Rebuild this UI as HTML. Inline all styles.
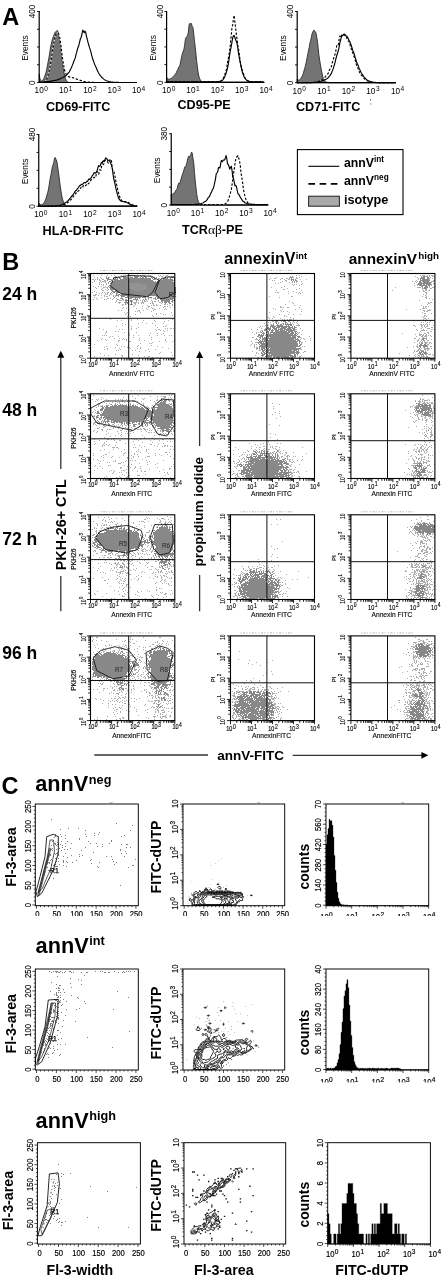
<!DOCTYPE html>
<html><head><meta charset="utf-8"><title>Figure</title>
<style>
html,body{margin:0;padding:0;background:#fff;}
body{width:444px;height:1280px;overflow:hidden;}
svg{display:block;font-family:"Liberation Sans", Arial, Helvetica, sans-serif;}
svg text{white-space:pre;}
</style></head><body>
<svg width="444" height="1280" viewBox="0 0 444 1280">
<rect width="444" height="1280" fill="#fff"/>
<text x="2.2" y="24.6" font-size="23.5" font-weight="bold">A</text>
<path d="M39.2 82.5 L39.2 74.32 L39.95 78.68 L40.7 80.41 L41.45 80.91 L42.2 80.7 L42.95 80.02 L43.7 78.89 L44.45 77.17 L45.2 75.09 L45.95 72.69 L46.7 69.41 L47.45 65.55 L48.2 61.53 L48.95 57.53 L49.7 53.12 L50.45 48.02 L51.2 44.4 L51.95 41.23 L52.7 38.37 L53.45 36.35 L54.2 34.49 L54.95 32.64 L55.7 31.65 L56.45 31.15 L57.2 30.38 L57.95 31.72 L58.7 35.67 L59.45 39.5 L60.2 43.13 L60.95 48.81 L61.7 55.76 L62.45 62.13 L63.2 67.62 L63.95 72.37 L64.7 75.83 L65.45 78.5 L66.2 80.29 L66.95 81.32 L67.7 81.93 L68.45 82.25 L69.2 82.4 L69.95 82.46 L70.7 82.49 L71.45 82.5 L72.2 82.5 L72.95 82.5 L73.7 82.5 L74.45 82.5 L75.2 82.5 L75.95 82.5 L76.7 82.5 L77.45 82.5 L78.2 82.5 L78.95 82.5 L79.7 82.5 L80.45 82.5 L81.2 82.5 L81.95 82.5 L82.7 82.5 L83.45 82.5 L84.2 82.5 L84.95 82.5 L85.7 82.5 L86.45 82.5 L87.2 82.5 L87.95 82.5 L88.7 82.5 L89.45 82.5 L90.2 82.5 L90.95 82.5 L91.7 82.5 L92.45 82.5 L93.2 82.5 L93.95 82.5 L94.7 82.5 L95.45 82.5 L96.2 82.5 L96.95 82.5 L97.7 82.5 L98.45 82.5 L99.2 82.5 L99.95 82.5 L100.7 82.5 L101.45 82.5 L102.2 82.5 L102.95 82.5 L103.7 82.5 L104.45 82.5 L105.2 82.5 L105.95 82.5 L106.7 82.5 L107.45 82.5 L108.2 82.5 L108.95 82.5 L109.7 82.5 L110.45 82.5 L111.2 82.5 L111.95 82.5 L112.7 82.5 L113.45 82.5 L114.2 82.5 L114.95 82.5 L115.7 82.5 L116.45 82.5 L117.2 82.5 L117.95 82.5 L118.7 82.5 L119.45 82.5 L120.2 82.5 L120.95 82.5 L121.7 82.5 L122.45 82.5 L123.2 82.5 L123.95 82.5 L124.7 82.5 L125.45 82.5 L126.2 82.5 L126.95 82.5 L127.7 82.5 L128.45 82.5 L129.2 82.5 L129.95 82.5 L130.7 82.5 L131.45 82.5 L132.2 82.5 L132.95 82.5 L133.7 82.5 L134.45 82.5 L135.2 82.5 L135.95 82.5 L136.5 82.5Z" fill="#747474" stroke="#2a2a2a" stroke-width="0.9"/>
<path d="M39.2 82.5 L39.95 82.49 L40.7 82.48 L41.45 82.46 L42.2 82.41 L42.95 82.32 L43.7 82.14 L44.45 81.83 L45.2 81.33 L45.95 80.46 L46.7 79.17 L47.45 77.28 L48.2 74.86 L48.95 72.18 L49.7 68.61 L50.45 64.18 L51.2 59.61 L51.95 54.13 L52.7 48.92 L53.45 45.73 L54.2 41.09 L54.95 36.8 L55.7 34.9 L56.45 33.55 L57.2 32.96 L57.95 33.16 L58.7 33.84 L59.45 36.04 L60.2 40.42 L60.95 45.36 L61.7 51.85 L62.45 57.69 L63.2 62.53 L63.95 66.94 L64.7 70.62 L65.45 72.81 L66.2 74.19 L66.95 75.47 L67.7 76.27 L68.45 76.67 L69.2 76.84 L69.95 77.09 L70.7 77.25 L71.45 77.42 L72.2 77.57 L72.95 77.78 L73.7 78.05 L74.45 78.19 L75.2 78.29 L75.95 78.69 L76.7 79.13 L77.45 79.39 L78.2 79.61 L78.95 79.89 L79.7 80.2 L80.45 80.4 L81.2 80.65 L81.95 80.89 L82.7 81.08 L83.45 81.29 L84.2 81.47 L84.95 81.59 L85.7 81.71 L86.45 81.83 L87.2 81.95 L87.95 82.04 L88.7 82.11 L89.45 82.17 L90.2 82.24 L90.95 82.29 L91.7 82.33 L92.45 82.36 L93.2 82.39 L93.95 82.42 L94.7 82.43 L95.45 82.45 L96.2 82.46 L96.95 82.47 L97.7 82.48 L98.45 82.48 L99.2 82.49 L99.95 82.49 L100.7 82.49 L101.45 82.49 L102.2 82.5 L102.95 82.5 L103.7 82.5 L104.45 82.5 L105.2 82.5 L105.95 82.5 L106.7 82.5 L107.45 82.5 L108.2 82.5 L108.95 82.5 L109.7 82.5 L110.45 82.5 L111.2 82.5 L111.95 82.5 L112.7 82.5 L113.45 82.5 L114.2 82.5 L114.95 82.5 L115.7 82.5 L116.45 82.5 L117.2 82.5 L117.95 82.5 L118.7 82.5 L119.45 82.5 L120.2 82.5 L120.95 82.5 L121.7 82.5 L122.45 82.5 L123.2 82.5 L123.95 82.5 L124.7 82.5 L125.45 82.5 L126.2 82.5 L126.95 82.5 L127.7 82.5 L128.45 82.5 L129.2 82.5 L129.95 82.5 L130.7 82.5 L131.45 82.5 L132.2 82.5 L132.95 82.5 L133.7 82.5 L134.45 82.5 L135.2 82.5 L135.95 82.5" fill="none" stroke="#fff" stroke-width="1" stroke-linejoin="round"/>
<path d="M39.2 82.5 L39.95 82.49 L40.7 82.48 L41.45 82.46 L42.2 82.41 L42.95 82.32 L43.7 82.14 L44.45 81.83 L45.2 81.33 L45.95 80.46 L46.7 79.17 L47.45 77.28 L48.2 74.86 L48.95 72.18 L49.7 68.61 L50.45 64.18 L51.2 59.61 L51.95 54.13 L52.7 48.92 L53.45 45.73 L54.2 41.09 L54.95 36.8 L55.7 34.9 L56.45 33.55 L57.2 32.96 L57.95 33.16 L58.7 33.84 L59.45 36.04 L60.2 40.42 L60.95 45.36 L61.7 51.85 L62.45 57.69 L63.2 62.53 L63.95 66.94 L64.7 70.62 L65.45 72.81 L66.2 74.19 L66.95 75.47 L67.7 76.27 L68.45 76.67 L69.2 76.84 L69.95 77.09 L70.7 77.25 L71.45 77.42 L72.2 77.57 L72.95 77.78 L73.7 78.05 L74.45 78.19 L75.2 78.29 L75.95 78.69 L76.7 79.13 L77.45 79.39 L78.2 79.61 L78.95 79.89 L79.7 80.2 L80.45 80.4 L81.2 80.65 L81.95 80.89 L82.7 81.08 L83.45 81.29 L84.2 81.47 L84.95 81.59 L85.7 81.71 L86.45 81.83 L87.2 81.95 L87.95 82.04 L88.7 82.11 L89.45 82.17 L90.2 82.24 L90.95 82.29 L91.7 82.33 L92.45 82.36 L93.2 82.39 L93.95 82.42 L94.7 82.43 L95.45 82.45 L96.2 82.46 L96.95 82.47 L97.7 82.48 L98.45 82.48 L99.2 82.49 L99.95 82.49 L100.7 82.49 L101.45 82.49 L102.2 82.5 L102.95 82.5 L103.7 82.5 L104.45 82.5 L105.2 82.5 L105.95 82.5 L106.7 82.5 L107.45 82.5 L108.2 82.5 L108.95 82.5 L109.7 82.5 L110.45 82.5 L111.2 82.5 L111.95 82.5 L112.7 82.5 L113.45 82.5 L114.2 82.5 L114.95 82.5 L115.7 82.5 L116.45 82.5 L117.2 82.5 L117.95 82.5 L118.7 82.5 L119.45 82.5 L120.2 82.5 L120.95 82.5 L121.7 82.5 L122.45 82.5 L123.2 82.5 L123.95 82.5 L124.7 82.5 L125.45 82.5 L126.2 82.5 L126.95 82.5 L127.7 82.5 L128.45 82.5 L129.2 82.5 L129.95 82.5 L130.7 82.5 L131.45 82.5 L132.2 82.5 L132.95 82.5 L133.7 82.5 L134.45 82.5 L135.2 82.5 L135.95 82.5" fill="none" stroke="#000" stroke-width="1.15" stroke-dasharray="2.4 1.7" stroke-linejoin="round"/>
<path d="M39.2 82.23 L39.95 82.19 L40.7 82.15 L41.45 82.11 L42.2 82.08 L42.95 82.01 L43.7 81.95 L44.45 81.91 L45.2 81.84 L45.95 81.78 L46.7 81.69 L47.45 81.56 L48.2 81.45 L48.95 81.41 L49.7 81.34 L50.45 81.22 L51.2 81.06 L51.95 80.94 L52.7 80.85 L53.45 80.66 L54.2 80.46 L54.95 80.33 L55.7 80.22 L56.45 80.09 L57.2 79.88 L57.95 79.7 L58.7 79.4 L59.45 79.08 L60.2 78.81 L60.95 78.36 L61.7 77.97 L62.45 77.8 L63.2 77.41 L63.95 76.75 L64.7 76.37 L65.45 75.99 L66.2 75.28 L66.95 74.62 L67.7 73.59 L68.45 72.75 L69.2 72.11 L69.95 70.57 L70.7 69.06 L71.45 67.45 L72.2 65.63 L72.95 63.85 L73.7 61.52 L74.45 59.91 L75.2 57.95 L75.95 54.84 L76.7 52.13 L77.45 49.05 L78.2 47.01 L78.95 44.99 L79.7 41.54 L80.45 38.51 L81.2 37.23 L81.95 34 L82.7 30.05 L83.45 31.43 L84.2 32.79 L84.95 31 L85.7 32.44 L86.45 36.18 L87.2 39.18 L87.95 42.16 L88.7 44.75 L89.45 47.4 L90.2 49.59 L90.95 52.19 L91.7 55.29 L92.45 58.07 L93.2 60.28 L93.95 62.42 L94.7 64.56 L95.45 66.05 L96.2 67.79 L96.95 69.62 L97.7 71.18 L98.45 72.66 L99.2 73.98 L99.95 75.15 L100.7 76.06 L101.45 77.02 L102.2 77.76 L102.95 78.38 L103.7 79.1 L104.45 79.64 L105.2 80.08 L105.95 80.45 L106.7 80.78 L107.45 81.04 L108.2 81.29 L108.95 81.54 L109.7 81.71 L110.45 81.84 L111.2 81.96 L111.95 82.03 L112.7 82.11 L113.45 82.2 L114.2 82.26 L114.95 82.3 L115.7 82.33 L116.45 82.37 L117.2 82.39 L117.95 82.41 L118.7 82.43 L119.45 82.45 L120.2 82.46 L120.95 82.47 L121.7 82.47 L122.45 82.48 L123.2 82.48 L123.95 82.49 L124.7 82.49 L125.45 82.49 L126.2 82.49 L126.95 82.5 L127.7 82.5 L128.45 82.5 L129.2 82.5 L129.95 82.5 L130.7 82.5 L131.45 82.5 L132.2 82.5 L132.95 82.5 L133.7 82.5 L134.45 82.5 L135.2 82.5 L135.95 82.5" fill="none" stroke="#000" stroke-width="1.15" stroke-linejoin="round"/>
<line x1="39.2" y1="11" x2="39.2" y2="83.1" stroke="#000" stroke-width="1.2"/>
<line x1="38.7" y1="82.5" x2="137" y2="82.5" stroke="#000" stroke-width="1.2"/>
<line x1="37" y1="82.5" x2="39.2" y2="82.5" stroke="#000" stroke-width="0.9"/>
<line x1="37" y1="64.75" x2="39.2" y2="64.75" stroke="#000" stroke-width="0.9"/>
<line x1="37" y1="47" x2="39.2" y2="47" stroke="#000" stroke-width="0.9"/>
<line x1="37" y1="29.25" x2="39.2" y2="29.25" stroke="#000" stroke-width="0.9"/>
<line x1="37" y1="11.5" x2="39.2" y2="11.5" stroke="#000" stroke-width="0.9"/>
<text x="35.2" y="11.5" font-size="8.2" text-anchor="middle" transform="rotate(-90 35.2 11.5)">400</text>
<text x="35.2" y="82.8" font-size="8.2" text-anchor="middle" transform="rotate(-90 35.2 82.8)">0</text>
<text x="28.2" y="48" font-size="8.4" text-anchor="middle" transform="rotate(-90 28.2 48)">Events</text>
<text x="34.6" y="93.3" font-size="8.2">10<tspan dy="-2.4" dx="0.6" font-size="6.6">0</tspan></text>
<text x="58.93" y="93.3" font-size="8.2">10<tspan dy="-2.4" dx="0.6" font-size="6.6">1</tspan></text>
<text x="83.25" y="93.3" font-size="8.2">10<tspan dy="-2.4" dx="0.6" font-size="6.6">2</tspan></text>
<text x="107.58" y="93.3" font-size="8.2">10<tspan dy="-2.4" dx="0.6" font-size="6.6">3</tspan></text>
<text x="131.9" y="93.3" font-size="8.2">10<tspan dy="-2.4" dx="0.6" font-size="6.6">4</tspan></text>
<text x="46" y="111" font-size="12.6" font-weight="bold">CD69-FITC</text>
<path d="M166.6 82.3 L166.6 77.31 L167.35 78.53 L168.1 79.09 L168.85 79.21 L169.6 78.91 L170.35 78.74 L171.1 78.46 L171.85 77.89 L172.6 77.31 L173.35 76.39 L174.1 75.6 L174.85 74.65 L175.6 73.84 L176.35 72.53 L177.1 70.84 L177.85 69.32 L178.6 67.18 L179.35 66.27 L180.1 64.46 L180.85 60.73 L181.6 56.76 L182.35 53.72 L183.1 51.47 L183.85 49.59 L184.6 45.54 L185.35 39.48 L186.1 37.51 L186.85 36.53 L187.6 35.61 L188.35 32 L189.1 24.79 L189.85 23.22 L190.6 23.8 L191.35 23.39 L192.1 26.24 L192.85 27.19 L193.6 32.01 L194.35 39.98 L195.1 46.01 L195.85 53.05 L196.6 60.37 L197.35 66.9 L198.1 72.19 L198.85 76.07 L199.6 78.44 L200.35 80.04 L201.1 81.1 L201.85 81.68 L202.6 81.99 L203.35 82.15 L204.1 82.24 L204.85 82.27 L205.6 82.29 L206.35 82.3 L207.1 82.3 L207.85 82.3 L208.6 82.3 L209.35 82.3 L210.1 82.3 L210.85 82.3 L211.6 82.3 L212.35 82.3 L213.1 82.3 L213.85 82.3 L214.6 82.3 L215.35 82.3 L216.1 82.3 L216.85 82.3 L217.6 82.3 L218.35 82.3 L219.1 82.3 L219.85 82.3 L220.6 82.3 L221.35 82.3 L222.1 82.3 L222.85 82.3 L223.6 82.3 L224.35 82.3 L225.1 82.3 L225.85 82.3 L226.6 82.3 L227.35 82.3 L228.1 82.3 L228.85 82.3 L229.6 82.3 L230.35 82.3 L231.1 82.3 L231.85 82.3 L232.6 82.3 L233.35 82.3 L234.1 82.3 L234.85 82.3 L235.6 82.3 L236.35 82.3 L237.1 82.3 L237.85 82.3 L238.6 82.3 L239.35 82.3 L240.1 82.3 L240.85 82.3 L241.6 82.3 L242.35 82.3 L243.1 82.3 L243.85 82.3 L244.6 82.3 L245.35 82.3 L246.1 82.3 L246.85 82.3 L247.6 82.3 L248.35 82.3 L249.1 82.3 L249.85 82.3 L250.6 82.3 L251.35 82.3 L252.1 82.3 L252.85 82.3 L253.6 82.3 L254.35 82.3 L255.1 82.3 L255.85 82.3 L256.6 82.3 L257.35 82.3 L258.1 82.3 L258.85 82.3 L259.6 82.3 L260.35 82.3 L261.1 82.3 L261.85 82.3 L262.6 82.3 L263.35 82.3 L264 82.3Z" fill="#747474" stroke="#2a2a2a" stroke-width="0.9"/>
<path d="M166.6 81.72 L167.35 81.7 L168.1 81.64 L168.85 81.68 L169.6 81.73 L170.35 81.68 L171.1 81.67 L171.85 81.65 L172.6 81.67 L173.35 81.7 L174.1 81.71 L174.85 81.68 L175.6 81.67 L176.35 81.76 L177.1 81.75 L177.85 81.71 L178.6 81.66 L179.35 81.67 L180.1 81.71 L180.85 81.69 L181.6 81.65 L182.35 81.67 L183.1 81.68 L183.85 81.67 L184.6 81.7 L185.35 81.7 L186.1 81.7 L186.85 81.72 L187.6 81.69 L188.35 81.7 L189.1 81.7 L189.85 81.66 L190.6 81.68 L191.35 81.72 L192.1 81.72 L192.85 81.69 L193.6 81.67 L194.35 81.68 L195.1 81.67 L195.85 81.69 L196.6 81.71 L197.35 81.73 L198.1 81.72 L198.85 81.68 L199.6 81.71 L200.35 81.68 L201.1 81.66 L201.85 81.74 L202.6 81.76 L203.35 81.73 L204.1 81.71 L204.85 81.63 L205.6 81.66 L206.35 81.71 L207.1 81.7 L207.85 81.7 L208.6 81.68 L209.35 81.66 L210.1 81.69 L210.85 81.69 L211.6 81.68 L212.35 81.71 L213.1 81.66 L213.85 81.65 L214.6 81.69 L215.35 81.71 L216.1 81.68 L216.85 81.63 L217.6 81.54 L218.35 81.49 L219.1 81.39 L219.85 81.12 L220.6 80.82 L221.35 80.4 L222.1 79.7 L222.85 78.8 L223.6 77.67 L224.35 76.03 L225.1 73.62 L225.85 71.68 L226.6 68.64 L227.35 63.65 L228.1 59.92 L228.85 55.2 L229.6 51.24 L230.35 44.52 L231.1 36.47 L231.85 28.82 L232.6 25.2 L233.35 19.66 L234.1 15.3 L234.85 21.68 L235.6 27.9 L236.35 33.97 L237.1 40.15 L237.85 45.39 L238.6 49.56 L239.35 54.58 L240.1 60.66 L240.85 64.86 L241.6 68.13 L242.35 70.99 L243.1 72.64 L243.85 74.75 L244.6 76.94 L245.35 78.54 L246.1 79.55 L246.85 80.2 L247.6 80.53 L248.35 80.85 L249.1 81.15 L249.85 81.33 L250.6 81.46 L251.35 81.49 L252.1 81.57 L252.85 81.65 L253.6 81.68 L254.35 81.67 L255.1 81.69 L255.85 81.74 L256.6 81.75 L257.35 81.76 L258.1 81.72 L258.85 81.63 L259.6 81.67 L260.35 81.7 L261.1 81.67 L261.85 81.72 L262.6 81.73 L263.35 81.71" fill="none" stroke="#fff" stroke-width="1" stroke-linejoin="round"/>
<path d="M166.6 81.72 L167.35 81.7 L168.1 81.64 L168.85 81.68 L169.6 81.73 L170.35 81.68 L171.1 81.67 L171.85 81.65 L172.6 81.67 L173.35 81.7 L174.1 81.71 L174.85 81.68 L175.6 81.67 L176.35 81.76 L177.1 81.75 L177.85 81.71 L178.6 81.66 L179.35 81.67 L180.1 81.71 L180.85 81.69 L181.6 81.65 L182.35 81.67 L183.1 81.68 L183.85 81.67 L184.6 81.7 L185.35 81.7 L186.1 81.7 L186.85 81.72 L187.6 81.69 L188.35 81.7 L189.1 81.7 L189.85 81.66 L190.6 81.68 L191.35 81.72 L192.1 81.72 L192.85 81.69 L193.6 81.67 L194.35 81.68 L195.1 81.67 L195.85 81.69 L196.6 81.71 L197.35 81.73 L198.1 81.72 L198.85 81.68 L199.6 81.71 L200.35 81.68 L201.1 81.66 L201.85 81.74 L202.6 81.76 L203.35 81.73 L204.1 81.71 L204.85 81.63 L205.6 81.66 L206.35 81.71 L207.1 81.7 L207.85 81.7 L208.6 81.68 L209.35 81.66 L210.1 81.69 L210.85 81.69 L211.6 81.68 L212.35 81.71 L213.1 81.66 L213.85 81.65 L214.6 81.69 L215.35 81.71 L216.1 81.68 L216.85 81.63 L217.6 81.54 L218.35 81.49 L219.1 81.39 L219.85 81.12 L220.6 80.82 L221.35 80.4 L222.1 79.7 L222.85 78.8 L223.6 77.67 L224.35 76.03 L225.1 73.62 L225.85 71.68 L226.6 68.64 L227.35 63.65 L228.1 59.92 L228.85 55.2 L229.6 51.24 L230.35 44.52 L231.1 36.47 L231.85 28.82 L232.6 25.2 L233.35 19.66 L234.1 15.3 L234.85 21.68 L235.6 27.9 L236.35 33.97 L237.1 40.15 L237.85 45.39 L238.6 49.56 L239.35 54.58 L240.1 60.66 L240.85 64.86 L241.6 68.13 L242.35 70.99 L243.1 72.64 L243.85 74.75 L244.6 76.94 L245.35 78.54 L246.1 79.55 L246.85 80.2 L247.6 80.53 L248.35 80.85 L249.1 81.15 L249.85 81.33 L250.6 81.46 L251.35 81.49 L252.1 81.57 L252.85 81.65 L253.6 81.68 L254.35 81.67 L255.1 81.69 L255.85 81.74 L256.6 81.75 L257.35 81.76 L258.1 81.72 L258.85 81.63 L259.6 81.67 L260.35 81.7 L261.1 81.67 L261.85 81.72 L262.6 81.73 L263.35 81.71" fill="none" stroke="#000" stroke-width="1.15" stroke-dasharray="2.4 1.7" stroke-linejoin="round"/>
<path d="M166.6 81.8 L167.35 81.78 L168.1 81.77 L168.85 81.79 L169.6 81.8 L170.35 81.82 L171.1 81.83 L171.85 81.81 L172.6 81.79 L173.35 81.8 L174.1 81.81 L174.85 81.83 L175.6 81.82 L176.35 81.82 L177.1 81.81 L177.85 81.78 L178.6 81.76 L179.35 81.76 L180.1 81.8 L180.85 81.81 L181.6 81.84 L182.35 81.84 L183.1 81.81 L183.85 81.79 L184.6 81.78 L185.35 81.79 L186.1 81.79 L186.85 81.79 L187.6 81.78 L188.35 81.8 L189.1 81.82 L189.85 81.82 L190.6 81.8 L191.35 81.77 L192.1 81.78 L192.85 81.8 L193.6 81.81 L194.35 81.8 L195.1 81.8 L195.85 81.8 L196.6 81.8 L197.35 81.8 L198.1 81.8 L198.85 81.79 L199.6 81.8 L200.35 81.8 L201.1 81.81 L201.85 81.8 L202.6 81.79 L203.35 81.8 L204.1 81.8 L204.85 81.82 L205.6 81.81 L206.35 81.8 L207.1 81.8 L207.85 81.79 L208.6 81.81 L209.35 81.83 L210.1 81.81 L210.85 81.81 L211.6 81.82 L212.35 81.8 L213.1 81.79 L213.85 81.79 L214.6 81.79 L215.35 81.79 L216.1 81.78 L216.85 81.76 L217.6 81.71 L218.35 81.65 L219.1 81.58 L219.85 81.46 L220.6 81.25 L221.35 80.9 L222.1 80.46 L222.85 79.87 L223.6 78.93 L224.35 77.43 L225.1 75.83 L225.85 74.03 L226.6 71.29 L227.35 68.92 L228.1 65.48 L228.85 60.68 L229.6 55.48 L230.35 50.34 L231.1 47.03 L231.85 42.7 L232.6 38.27 L233.35 36.05 L234.1 35.41 L234.85 37.31 L235.6 39.84 L236.35 41.37 L237.1 43.78 L237.85 48.35 L238.6 53.91 L239.35 58.03 L240.1 61.83 L240.85 65.44 L241.6 68.75 L242.35 71.96 L243.1 74.38 L243.85 76.18 L244.6 77.63 L245.35 78.77 L246.1 79.69 L246.85 80.41 L247.6 80.85 L248.35 81.16 L249.1 81.37 L249.85 81.49 L250.6 81.62 L251.35 81.68 L252.1 81.7 L252.85 81.74 L253.6 81.75 L254.35 81.75 L255.1 81.78 L255.85 81.8 L256.6 81.78 L257.35 81.79 L258.1 81.79 L258.85 81.8 L259.6 81.81 L260.35 81.81 L261.1 81.82 L261.85 81.81 L262.6 81.82 L263.35 81.82" fill="none" stroke="#000" stroke-width="1.15" stroke-linejoin="round"/>
<line x1="166.6" y1="11" x2="166.6" y2="82.9" stroke="#000" stroke-width="1.2"/>
<line x1="166.1" y1="82.3" x2="264.5" y2="82.3" stroke="#000" stroke-width="1.2"/>
<line x1="164.4" y1="82.3" x2="166.6" y2="82.3" stroke="#000" stroke-width="0.9"/>
<line x1="164.4" y1="64.6" x2="166.6" y2="64.6" stroke="#000" stroke-width="0.9"/>
<line x1="164.4" y1="46.9" x2="166.6" y2="46.9" stroke="#000" stroke-width="0.9"/>
<line x1="164.4" y1="29.2" x2="166.6" y2="29.2" stroke="#000" stroke-width="0.9"/>
<line x1="164.4" y1="11.5" x2="166.6" y2="11.5" stroke="#000" stroke-width="0.9"/>
<text x="162.6" y="11.5" font-size="8.2" text-anchor="middle" transform="rotate(-90 162.6 11.5)">400</text>
<text x="162.6" y="82.6" font-size="8.2" text-anchor="middle" transform="rotate(-90 162.6 82.6)">0</text>
<text x="155.6" y="47.9" font-size="8.4" text-anchor="middle" transform="rotate(-90 155.6 47.9)">Events</text>
<text x="162" y="93.1" font-size="8.2">10<tspan dy="-2.4" dx="0.6" font-size="6.6">0</tspan></text>
<text x="186.35" y="93.1" font-size="8.2">10<tspan dy="-2.4" dx="0.6" font-size="6.6">1</tspan></text>
<text x="210.7" y="93.1" font-size="8.2">10<tspan dy="-2.4" dx="0.6" font-size="6.6">2</tspan></text>
<text x="235.05" y="93.1" font-size="8.2">10<tspan dy="-2.4" dx="0.6" font-size="6.6">3</tspan></text>
<text x="259.4" y="93.1" font-size="8.2">10<tspan dy="-2.4" dx="0.6" font-size="6.6">4</tspan></text>
<text x="177.5" y="108.8" font-size="12.6" font-weight="bold">CD95-PE</text>
<path d="M297.2 82.7 L297.2 79.21 L297.95 79.87 L298.7 80.1 L299.45 79.9 L300.2 79.26 L300.95 78.28 L301.7 77.11 L302.45 75.76 L303.2 73.68 L303.95 71.02 L304.7 68.41 L305.45 65.76 L306.2 62.4 L306.95 58.5 L307.7 54.42 L308.45 51.02 L309.2 47.43 L309.95 42.97 L310.7 40.16 L311.45 36.75 L312.2 33.27 L312.95 31.73 L313.7 30.18 L314.45 30.51 L315.2 31.66 L315.95 32.79 L316.7 36.65 L317.45 41.5 L318.2 48.21 L318.95 55.32 L319.7 60.37 L320.45 64.99 L321.2 69.16 L321.95 72.96 L322.7 76.24 L323.45 78.37 L324.2 79.9 L324.95 81.01 L325.7 81.63 L326.45 82.06 L327.2 82.35 L327.95 82.51 L328.7 82.6 L329.45 82.65 L330.2 82.68 L330.95 82.69 L331.7 82.7 L332.45 82.7 L333.2 82.7 L333.95 82.7 L334.7 82.7 L335.45 82.7 L336.2 82.7 L336.95 82.7 L337.7 82.7 L338.45 82.7 L339.2 82.7 L339.95 82.7 L340.7 82.7 L341.45 82.7 L342.2 82.7 L342.95 82.7 L343.7 82.7 L344.45 82.7 L345.2 82.7 L345.95 82.7 L346.7 82.7 L347.45 82.7 L348.2 82.7 L348.95 82.7 L349.7 82.7 L350.45 82.7 L351.2 82.7 L351.95 82.7 L352.7 82.7 L353.45 82.7 L354.2 82.7 L354.95 82.7 L355.7 82.7 L356.45 82.7 L357.2 82.7 L357.95 82.7 L358.7 82.7 L359.45 82.7 L360.2 82.7 L360.95 82.7 L361.7 82.7 L362.45 82.7 L363.2 82.7 L363.95 82.7 L364.7 82.7 L365.45 82.7 L366.2 82.7 L366.95 82.7 L367.7 82.7 L368.45 82.7 L369.2 82.7 L369.95 82.7 L370.7 82.7 L371.45 82.7 L372.2 82.7 L372.95 82.7 L373.7 82.7 L374.45 82.7 L375.2 82.7 L375.95 82.7 L376.7 82.7 L377.45 82.7 L378.2 82.7 L378.95 82.7 L379.7 82.7 L380.45 82.7 L381.2 82.7 L381.95 82.7 L382.7 82.7 L383.45 82.7 L384.2 82.7 L384.95 82.7 L385.7 82.7 L386.45 82.7 L387.2 82.7 L387.95 82.7 L388.7 82.7 L389.45 82.7 L390.2 82.7 L390.95 82.7 L391.7 82.7 L392.45 82.7 L393.2 82.7 L393.95 82.7 L394.7 82.7 L395.45 82.7 L395.5 82.7Z" fill="#747474" stroke="#2a2a2a" stroke-width="0.9"/>
<path d="M297.2 82.7 L297.95 82.7 L298.7 82.7 L299.45 82.7 L300.2 82.7 L300.95 82.7 L301.7 82.7 L302.45 82.7 L303.2 82.7 L303.95 82.7 L304.7 82.69 L305.45 82.69 L306.2 82.69 L306.95 82.68 L307.7 82.67 L308.45 82.66 L309.2 82.64 L309.95 82.61 L310.7 82.58 L311.45 82.54 L312.2 82.48 L312.95 82.4 L313.7 82.29 L314.45 82.17 L315.2 82.05 L315.95 81.9 L316.7 81.72 L317.45 81.45 L318.2 81.19 L318.95 80.99 L319.7 80.63 L320.45 80.24 L321.2 79.7 L321.95 79.39 L322.7 79.04 L323.45 78.21 L324.2 77.76 L324.95 77.26 L325.7 76.31 L326.45 75.08 L327.2 74.3 L327.95 73.84 L328.7 72.18 L329.45 69.9 L330.2 68.56 L330.95 67.98 L331.7 65.34 L332.45 62.24 L333.2 59.91 L333.95 57.19 L334.7 55.35 L335.45 52.88 L336.2 48.74 L336.95 44.39 L337.7 44.69 L338.45 44.43 L339.2 38.52 L339.95 35.95 L340.7 37.62 L341.45 36.09 L342.2 34.01 L342.95 33.87 L343.7 34.43 L344.45 35.1 L345.2 35.8 L345.95 36.12 L346.7 37.76 L347.45 39.88 L348.2 40.93 L348.95 41.37 L349.7 43.04 L350.45 46.46 L351.2 48.61 L351.95 50.59 L352.7 52.63 L353.45 54.98 L354.2 56.98 L354.95 58.92 L355.7 62.06 L356.45 64.9 L357.2 66.5 L357.95 68.05 L358.7 70.08 L359.45 72.14 L360.2 73.89 L360.95 74.75 L361.7 75.46 L362.45 76.46 L363.2 77.65 L363.95 78.42 L364.7 79.05 L365.45 79.71 L366.2 80.17 L366.95 80.68 L367.7 81.08 L368.45 81.43 L369.2 81.68 L369.95 81.88 L370.7 82.02 L371.45 82.14 L372.2 82.26 L372.95 82.35 L373.7 82.44 L374.45 82.5 L375.2 82.54 L375.95 82.58 L376.7 82.61 L377.45 82.63 L378.2 82.65 L378.95 82.66 L379.7 82.67 L380.45 82.68 L381.2 82.68 L381.95 82.69 L382.7 82.69 L383.45 82.69 L384.2 82.7 L384.95 82.7 L385.7 82.7 L386.45 82.7 L387.2 82.7 L387.95 82.7 L388.7 82.7 L389.45 82.7 L390.2 82.7 L390.95 82.7 L391.7 82.7 L392.45 82.7 L393.2 82.7 L393.95 82.7 L394.7 82.7 L395.45 82.7" fill="none" stroke="#fff" stroke-width="1" stroke-linejoin="round"/>
<path d="M297.2 82.7 L297.95 82.7 L298.7 82.7 L299.45 82.7 L300.2 82.7 L300.95 82.7 L301.7 82.7 L302.45 82.7 L303.2 82.7 L303.95 82.7 L304.7 82.69 L305.45 82.69 L306.2 82.69 L306.95 82.68 L307.7 82.67 L308.45 82.66 L309.2 82.64 L309.95 82.61 L310.7 82.58 L311.45 82.54 L312.2 82.48 L312.95 82.4 L313.7 82.29 L314.45 82.17 L315.2 82.05 L315.95 81.9 L316.7 81.72 L317.45 81.45 L318.2 81.19 L318.95 80.99 L319.7 80.63 L320.45 80.24 L321.2 79.7 L321.95 79.39 L322.7 79.04 L323.45 78.21 L324.2 77.76 L324.95 77.26 L325.7 76.31 L326.45 75.08 L327.2 74.3 L327.95 73.84 L328.7 72.18 L329.45 69.9 L330.2 68.56 L330.95 67.98 L331.7 65.34 L332.45 62.24 L333.2 59.91 L333.95 57.19 L334.7 55.35 L335.45 52.88 L336.2 48.74 L336.95 44.39 L337.7 44.69 L338.45 44.43 L339.2 38.52 L339.95 35.95 L340.7 37.62 L341.45 36.09 L342.2 34.01 L342.95 33.87 L343.7 34.43 L344.45 35.1 L345.2 35.8 L345.95 36.12 L346.7 37.76 L347.45 39.88 L348.2 40.93 L348.95 41.37 L349.7 43.04 L350.45 46.46 L351.2 48.61 L351.95 50.59 L352.7 52.63 L353.45 54.98 L354.2 56.98 L354.95 58.92 L355.7 62.06 L356.45 64.9 L357.2 66.5 L357.95 68.05 L358.7 70.08 L359.45 72.14 L360.2 73.89 L360.95 74.75 L361.7 75.46 L362.45 76.46 L363.2 77.65 L363.95 78.42 L364.7 79.05 L365.45 79.71 L366.2 80.17 L366.95 80.68 L367.7 81.08 L368.45 81.43 L369.2 81.68 L369.95 81.88 L370.7 82.02 L371.45 82.14 L372.2 82.26 L372.95 82.35 L373.7 82.44 L374.45 82.5 L375.2 82.54 L375.95 82.58 L376.7 82.61 L377.45 82.63 L378.2 82.65 L378.95 82.66 L379.7 82.67 L380.45 82.68 L381.2 82.68 L381.95 82.69 L382.7 82.69 L383.45 82.69 L384.2 82.7 L384.95 82.7 L385.7 82.7 L386.45 82.7 L387.2 82.7 L387.95 82.7 L388.7 82.7 L389.45 82.7 L390.2 82.7 L390.95 82.7 L391.7 82.7 L392.45 82.7 L393.2 82.7 L393.95 82.7 L394.7 82.7 L395.45 82.7" fill="none" stroke="#000" stroke-width="1.15" stroke-dasharray="2.4 1.7" stroke-linejoin="round"/>
<path d="M297.2 82.7 L297.95 82.7 L298.7 82.7 L299.45 82.7 L300.2 82.7 L300.95 82.7 L301.7 82.7 L302.45 82.7 L303.2 82.7 L303.95 82.7 L304.7 82.7 L305.45 82.69 L306.2 82.69 L306.95 82.69 L307.7 82.68 L308.45 82.67 L309.2 82.66 L309.95 82.64 L310.7 82.62 L311.45 82.59 L312.2 82.56 L312.95 82.51 L313.7 82.46 L314.45 82.39 L315.2 82.31 L315.95 82.2 L316.7 82.06 L317.45 81.92 L318.2 81.8 L318.95 81.63 L319.7 81.47 L320.45 81.3 L321.2 81.11 L321.95 80.85 L322.7 80.55 L323.45 80.37 L324.2 80.11 L324.95 79.73 L325.7 79.34 L326.45 78.94 L327.2 78.5 L327.95 77.96 L328.7 77.17 L329.45 76.16 L330.2 75.17 L330.95 74.12 L331.7 72.4 L332.45 70.64 L333.2 68.66 L333.95 66.18 L334.7 63.72 L335.45 60.61 L336.2 57.73 L336.95 54.99 L337.7 52.51 L338.45 50.1 L339.2 46.51 L339.95 42.64 L340.7 39.66 L341.45 36.95 L342.2 35.67 L342.95 35.52 L343.7 34.27 L344.45 34.07 L345.2 34.84 L345.95 35.91 L346.7 36 L347.45 37 L348.2 38.52 L348.95 40.17 L349.7 41.54 L350.45 43.21 L351.2 45.36 L351.95 47.74 L352.7 50.47 L353.45 51.62 L354.2 54.07 L354.95 56.73 L355.7 58.87 L356.45 61.7 L357.2 63.55 L357.95 64.92 L358.7 67.13 L359.45 68.88 L360.2 70.48 L360.95 72.22 L361.7 73.5 L362.45 74.71 L363.2 75.64 L363.95 76.74 L364.7 77.75 L365.45 78.39 L366.2 79.21 L366.95 79.89 L367.7 80.3 L368.45 80.7 L369.2 81.07 L369.95 81.35 L370.7 81.62 L371.45 81.86 L372.2 82.05 L372.95 82.18 L373.7 82.28 L374.45 82.37 L375.2 82.44 L375.95 82.5 L376.7 82.55 L377.45 82.58 L378.2 82.61 L378.95 82.63 L379.7 82.65 L380.45 82.66 L381.2 82.67 L381.95 82.68 L382.7 82.69 L383.45 82.69 L384.2 82.69 L384.95 82.69 L385.7 82.7 L386.45 82.7 L387.2 82.7 L387.95 82.7 L388.7 82.7 L389.45 82.7 L390.2 82.7 L390.95 82.7 L391.7 82.7 L392.45 82.7 L393.2 82.7 L393.95 82.7 L394.7 82.7 L395.45 82.7" fill="none" stroke="#000" stroke-width="1.15" stroke-linejoin="round"/>
<line x1="297.2" y1="11" x2="297.2" y2="83.3" stroke="#000" stroke-width="1.2"/>
<line x1="296.7" y1="82.7" x2="396" y2="82.7" stroke="#000" stroke-width="1.2"/>
<line x1="295" y1="82.7" x2="297.2" y2="82.7" stroke="#000" stroke-width="0.9"/>
<line x1="295" y1="64.9" x2="297.2" y2="64.9" stroke="#000" stroke-width="0.9"/>
<line x1="295" y1="47.1" x2="297.2" y2="47.1" stroke="#000" stroke-width="0.9"/>
<line x1="295" y1="29.3" x2="297.2" y2="29.3" stroke="#000" stroke-width="0.9"/>
<line x1="295" y1="11.5" x2="297.2" y2="11.5" stroke="#000" stroke-width="0.9"/>
<text x="293.2" y="11.5" font-size="8.2" text-anchor="middle" transform="rotate(-90 293.2 11.5)">400</text>
<text x="293.2" y="83" font-size="8.2" text-anchor="middle" transform="rotate(-90 293.2 83)">0</text>
<text x="286.2" y="48.1" font-size="8.4" text-anchor="middle" transform="rotate(-90 286.2 48.1)">Events</text>
<text x="292.6" y="93.5" font-size="8.2">10<tspan dy="-2.4" dx="0.6" font-size="6.6">0</tspan></text>
<text x="317.17" y="93.5" font-size="8.2">10<tspan dy="-2.4" dx="0.6" font-size="6.6">1</tspan></text>
<text x="341.75" y="93.5" font-size="8.2">10<tspan dy="-2.4" dx="0.6" font-size="6.6">2</tspan></text>
<text x="366.32" y="93.5" font-size="8.2">10<tspan dy="-2.4" dx="0.6" font-size="6.6">3</tspan></text>
<text x="390.9" y="93.5" font-size="8.2">10<tspan dy="-2.4" dx="0.6" font-size="6.6">4</tspan></text>
<text x="296" y="111" font-size="12.6" font-weight="bold">CD71-FITC</text>
<rect x="370" y="99.3" width="1" height="1.3" fill="#555"/><rect x="370.3" y="103.3" width="1" height="1.3" fill="#777"/>
<path d="M38.75 206.2 L38.75 202.98 L39.5 204.09 L40.25 204.62 L41 204.76 L41.75 204.69 L42.5 204.36 L43.25 203.73 L44 202.77 L44.75 201.34 L45.5 199.77 L46.25 197.67 L47 195.06 L47.75 192.37 L48.5 189.08 L49.25 184.35 L50 179.42 L50.75 175.81 L51.5 171.93 L52.25 167.52 L53 164.93 L53.75 162.91 L54.5 158.08 L55.25 157.46 L56 159.41 L56.75 161.02 L57.5 165.58 L58.25 171.14 L59 176.15 L59.75 182.13 L60.5 187.94 L61.25 192.93 L62 196.9 L62.75 199.91 L63.5 202.09 L64.25 203.64 L65 204.73 L65.75 205.41 L66.5 205.77 L67.25 205.96 L68 206.09 L68.75 206.15 L69.5 206.18 L70.25 206.19 L71 206.2 L71.75 206.2 L72.5 206.2 L73.25 206.2 L74 206.2 L74.75 206.2 L75.5 206.2 L76.25 206.2 L77 206.2 L77.75 206.2 L78.5 206.2 L79.25 206.2 L80 206.2 L80.75 206.2 L81.5 206.2 L82.25 206.2 L83 206.2 L83.75 206.2 L84.5 206.2 L85.25 206.2 L86 206.2 L86.75 206.2 L87.5 206.2 L88.25 206.2 L89 206.2 L89.75 206.2 L90.5 206.2 L91.25 206.2 L92 206.2 L92.75 206.2 L93.5 206.2 L94.25 206.2 L95 206.2 L95.75 206.2 L96.5 206.2 L97.25 206.2 L98 206.2 L98.75 206.2 L99.5 206.2 L100.25 206.2 L101 206.2 L101.75 206.2 L102.5 206.2 L103.25 206.2 L104 206.2 L104.75 206.2 L105.5 206.2 L106.25 206.2 L107 206.2 L107.75 206.2 L108.5 206.2 L109.25 206.2 L110 206.2 L110.75 206.2 L111.5 206.2 L112.25 206.2 L113 206.2 L113.75 206.2 L114.5 206.2 L115.25 206.2 L116 206.2 L116.75 206.2 L117.5 206.2 L118.25 206.2 L119 206.2 L119.75 206.2 L120.5 206.2 L121.25 206.2 L122 206.2 L122.75 206.2 L123.5 206.2 L124.25 206.2 L125 206.2 L125.75 206.2 L126.5 206.2 L127.25 206.2 L128 206.2 L128.75 206.2 L129.5 206.2 L130.25 206.2 L131 206.2 L131.75 206.2 L132.5 206.2 L133.25 206.2 L134 206.2 L134.75 206.2 L135.5 206.2 L136.25 206.2 L137 206.2 L137 206.2Z" fill="#747474" stroke="#2a2a2a" stroke-width="0.9"/>
<path d="M38.75 206.2 L39.5 206.2 L40.25 206.2 L41 206.2 L41.75 206.2 L42.5 206.2 L43.25 206.2 L44 206.2 L44.75 206.2 L45.5 206.2 L46.25 206.2 L47 206.2 L47.75 206.19 L48.5 206.19 L49.25 206.19 L50 206.18 L50.75 206.18 L51.5 206.17 L52.25 206.16 L53 206.15 L53.75 206.13 L54.5 206.12 L55.25 206.09 L56 206.05 L56.75 206 L57.5 205.95 L58.25 205.9 L59 205.79 L59.75 205.69 L60.5 205.59 L61.25 205.42 L62 205.22 L62.75 204.98 L63.5 204.7 L64.25 204.48 L65 204.2 L65.75 203.79 L66.5 203.47 L67.25 203.1 L68 202.32 L68.75 201.8 L69.5 201.15 L70.25 200.12 L71 199.55 L71.75 198.67 L72.5 197.65 L73.25 196.53 L74 195.82 L74.75 195.33 L75.5 194.33 L76.25 192.55 L77 191.05 L77.75 191.3 L78.5 191.02 L79.25 190.1 L80 189.16 L80.75 187.95 L81.5 186 L82.25 186.57 L83 186.83 L83.75 185.03 L84.5 185.72 L85.25 185.71 L86 185.2 L86.75 184.67 L87.5 183.23 L88.25 183.84 L89 183.14 L89.75 181.79 L90.5 181.06 L91.25 179.82 L92 179.31 L92.75 178.41 L93.5 177.69 L94.25 177.22 L95 177.95 L95.75 176.44 L96.5 173.99 L97.25 171.5 L98 173.01 L98.75 174.25 L99.5 169.92 L100.25 169.9 L101 170.23 L101.75 165.24 L102.5 162.14 L103.25 164.71 L104 163.75 L104.75 160.24 L105.5 160.29 L106.25 160.7 L107 160.92 L107.75 162.27 L108.5 163.11 L109.25 160.92 L110 160.19 L110.75 159.15 L111.5 161.06 L112.25 168.41 L113 170.85 L113.75 170.93 L114.5 173.8 L115.25 177.79 L116 182.49 L116.75 185.16 L117.5 188.52 L118.25 191.95 L119 194.43 L119.75 197.15 L120.5 198.38 L121.25 199.92 L122 201.16 L122.75 201.24 L123.5 201.5 L124.25 201.63 L125 201.68 L125.75 201.9 L126.5 201.7 L127.25 201.84 L128 202.37 L128.75 202.78 L129.5 203.22 L130.25 203.49 L131 203.85 L131.75 204.34 L132.5 204.81 L133.25 205.13 L134 205.44 L134.75 205.68 L135.5 205.83 L136.25 205.96 L137 206.04" fill="none" stroke="#fff" stroke-width="1" stroke-linejoin="round"/>
<path d="M38.75 206.2 L39.5 206.2 L40.25 206.2 L41 206.2 L41.75 206.2 L42.5 206.2 L43.25 206.2 L44 206.2 L44.75 206.2 L45.5 206.2 L46.25 206.2 L47 206.2 L47.75 206.19 L48.5 206.19 L49.25 206.19 L50 206.18 L50.75 206.18 L51.5 206.17 L52.25 206.16 L53 206.15 L53.75 206.13 L54.5 206.12 L55.25 206.09 L56 206.05 L56.75 206 L57.5 205.95 L58.25 205.9 L59 205.79 L59.75 205.69 L60.5 205.59 L61.25 205.42 L62 205.22 L62.75 204.98 L63.5 204.7 L64.25 204.48 L65 204.2 L65.75 203.79 L66.5 203.47 L67.25 203.1 L68 202.32 L68.75 201.8 L69.5 201.15 L70.25 200.12 L71 199.55 L71.75 198.67 L72.5 197.65 L73.25 196.53 L74 195.82 L74.75 195.33 L75.5 194.33 L76.25 192.55 L77 191.05 L77.75 191.3 L78.5 191.02 L79.25 190.1 L80 189.16 L80.75 187.95 L81.5 186 L82.25 186.57 L83 186.83 L83.75 185.03 L84.5 185.72 L85.25 185.71 L86 185.2 L86.75 184.67 L87.5 183.23 L88.25 183.84 L89 183.14 L89.75 181.79 L90.5 181.06 L91.25 179.82 L92 179.31 L92.75 178.41 L93.5 177.69 L94.25 177.22 L95 177.95 L95.75 176.44 L96.5 173.99 L97.25 171.5 L98 173.01 L98.75 174.25 L99.5 169.92 L100.25 169.9 L101 170.23 L101.75 165.24 L102.5 162.14 L103.25 164.71 L104 163.75 L104.75 160.24 L105.5 160.29 L106.25 160.7 L107 160.92 L107.75 162.27 L108.5 163.11 L109.25 160.92 L110 160.19 L110.75 159.15 L111.5 161.06 L112.25 168.41 L113 170.85 L113.75 170.93 L114.5 173.8 L115.25 177.79 L116 182.49 L116.75 185.16 L117.5 188.52 L118.25 191.95 L119 194.43 L119.75 197.15 L120.5 198.38 L121.25 199.92 L122 201.16 L122.75 201.24 L123.5 201.5 L124.25 201.63 L125 201.68 L125.75 201.9 L126.5 201.7 L127.25 201.84 L128 202.37 L128.75 202.78 L129.5 203.22 L130.25 203.49 L131 203.85 L131.75 204.34 L132.5 204.81 L133.25 205.13 L134 205.44 L134.75 205.68 L135.5 205.83 L136.25 205.96 L137 206.04" fill="none" stroke="#000" stroke-width="1.15" stroke-dasharray="2.4 1.7" stroke-linejoin="round"/>
<path d="M38.75 206.2 L39.5 206.2 L40.25 206.2 L41 206.2 L41.75 206.2 L42.5 206.2 L43.25 206.2 L44 206.2 L44.75 206.2 L45.5 206.19 L46.25 206.19 L47 206.19 L47.75 206.19 L48.5 206.18 L49.25 206.18 L50 206.17 L50.75 206.15 L51.5 206.14 L52.25 206.12 L53 206.09 L53.75 206.07 L54.5 206.03 L55.25 205.96 L56 205.9 L56.75 205.82 L57.5 205.72 L58.25 205.6 L59 205.47 L59.75 205.32 L60.5 205.12 L61.25 204.87 L62 204.57 L62.75 204.23 L63.5 203.89 L64.25 203.48 L65 202.96 L65.75 202.55 L66.5 202.06 L67.25 201.36 L68 200.6 L68.75 199.77 L69.5 198.95 L70.25 198.17 L71 197.1 L71.75 195.9 L72.5 195.4 L73.25 194.48 L74 193.36 L74.75 191.9 L75.5 190.69 L76.25 190.37 L77 189.28 L77.75 188.35 L78.5 187.6 L79.25 186.19 L80 185.4 L80.75 185.1 L81.5 184.22 L82.25 184.57 L83 183.92 L83.75 182.77 L84.5 182.66 L85.25 182.93 L86 182.53 L86.75 181.42 L87.5 181.54 L88.25 180.02 L89 178.79 L89.75 179.41 L90.5 178.87 L91.25 177.42 L92 175.99 L92.75 175.22 L93.5 174.14 L94.25 172.49 L95 172.95 L95.75 173.14 L96.5 171.8 L97.25 170.21 L98 167.22 L98.75 165.54 L99.5 166.3 L100.25 165.94 L101 163.1 L101.75 162.26 L102.5 162.3 L103.25 160.71 L104 161.56 L104.75 160.54 L105.5 158.07 L106.25 157.97 L107 159.1 L107.75 160.42 L108.5 160.28 L109.25 160.08 L110 161.09 L110.75 163.62 L111.5 165.33 L112.25 168.16 L113 173.86 L113.75 178.99 L114.5 181.65 L115.25 185.33 L116 188.96 L116.75 191.52 L117.5 194.66 L118.25 197.13 L119 198.62 L119.75 199.87 L120.5 200.78 L121.25 201.21 L122 201.3 L122.75 201.44 L123.5 201.61 L124.25 201.68 L125 201.9 L125.75 201.93 L126.5 202.3 L127.25 202.83 L128 203.06 L128.75 203.57 L129.5 204.04 L130.25 204.39 L131 204.84 L131.75 205.21 L132.5 205.49 L133.25 205.7 L134 205.86 L134.75 205.98 L135.5 206.05 L136.25 206.11 L137 206.15" fill="none" stroke="#000" stroke-width="1.15" stroke-linejoin="round"/>
<line x1="38.75" y1="134" x2="38.75" y2="206.8" stroke="#000" stroke-width="1.2"/>
<line x1="38.25" y1="206.2" x2="137.5" y2="206.2" stroke="#000" stroke-width="1.2"/>
<line x1="36.55" y1="206.2" x2="38.75" y2="206.2" stroke="#000" stroke-width="0.9"/>
<line x1="36.55" y1="188.27" x2="38.75" y2="188.27" stroke="#000" stroke-width="0.9"/>
<line x1="36.55" y1="170.35" x2="38.75" y2="170.35" stroke="#000" stroke-width="0.9"/>
<line x1="36.55" y1="152.43" x2="38.75" y2="152.43" stroke="#000" stroke-width="0.9"/>
<line x1="36.55" y1="134.5" x2="38.75" y2="134.5" stroke="#000" stroke-width="0.9"/>
<text x="34.75" y="134.5" font-size="8.2" text-anchor="middle" transform="rotate(-90 34.75 134.5)">480</text>
<text x="34.75" y="206.5" font-size="8.2" text-anchor="middle" transform="rotate(-90 34.75 206.5)">0</text>
<text x="27.75" y="171.35" font-size="8.4" text-anchor="middle" transform="rotate(-90 27.75 171.35)">Events</text>
<text x="34.15" y="217" font-size="8.2">10<tspan dy="-2.4" dx="0.6" font-size="6.6">0</tspan></text>
<text x="58.71" y="217" font-size="8.2">10<tspan dy="-2.4" dx="0.6" font-size="6.6">1</tspan></text>
<text x="83.28" y="217" font-size="8.2">10<tspan dy="-2.4" dx="0.6" font-size="6.6">2</tspan></text>
<text x="107.84" y="217" font-size="8.2">10<tspan dy="-2.4" dx="0.6" font-size="6.6">3</tspan></text>
<text x="132.4" y="217" font-size="8.2">10<tspan dy="-2.4" dx="0.6" font-size="6.6">4</tspan></text>
<text x="42.5" y="235" font-size="12.7" font-weight="bold">HLA-DR-FITC</text>
<path d="M171.25 205 L171.25 194.04 L172 194.35 L172.75 194.33 L173.5 193.34 L174.25 193.24 L175 192.12 L175.75 190.34 L176.5 189.47 L177.25 188.34 L178 185 L178.75 182.92 L179.5 183.68 L180.25 182.07 L181 179.11 L181.75 176.56 L182.5 174.12 L183.25 172.42 L184 169.66 L184.75 166.94 L185.5 166.73 L186.25 165.17 L187 162.35 L187.75 158.85 L188.5 156.37 L189.25 156.58 L190 156.22 L190.75 154.91 L191.5 152.04 L192.25 153.26 L193 158.33 L193.75 163.12 L194.5 172.49 L195.25 181.13 L196 188.07 L196.75 194.36 L197.5 198.63 L198.25 201.36 L199 203.11 L199.75 204.12 L200.5 204.6 L201.25 204.81 L202 204.91 L202.75 204.95 L203.5 204.97 L204.25 204.97 L205 204.98 L205.75 204.98 L206.5 204.98 L207.25 204.98 L208 204.99 L208.75 204.99 L209.5 204.99 L210.25 204.99 L211 204.99 L211.75 204.99 L212.5 204.99 L213.25 204.99 L214 204.99 L214.75 205 L215.5 205 L216.25 205 L217 205 L217.75 205 L218.5 205 L219.25 205 L220 205 L220.75 205 L221.5 205 L222.25 205 L223 205 L223.75 205 L224.5 205 L225.25 205 L226 205 L226.75 205 L227.5 205 L228.25 205 L229 205 L229.75 205 L230.5 205 L231.25 205 L232 205 L232.75 205 L233.5 205 L234.25 205 L235 205 L235.75 205 L236.5 205 L237.25 205 L238 205 L238.75 205 L239.5 205 L240.25 205 L241 205 L241.75 205 L242.5 205 L243.25 205 L244 205 L244.75 205 L245.5 205 L246.25 205 L247 205 L247.75 205 L248.5 205 L249.25 205 L250 205 L250.75 205 L251.5 205 L252.25 205 L253 205 L253.75 205 L254.5 205 L255.25 205 L256 205 L256.75 205 L257.5 205 L258.25 205 L259 205 L259.75 205 L260.5 205 L261.25 205 L262 205 L262.75 205 L263.5 205 L264.25 205 L265 205 L265.75 205 L266.5 205 L267.25 205 L268 205 L268 205Z" fill="#747474" stroke="#2a2a2a" stroke-width="0.9"/>
<path d="M171.25 204.49 L172 204.48 L172.75 204.47 L173.5 204.48 L174.25 204.49 L175 204.48 L175.75 204.49 L176.5 204.5 L177.25 204.5 L178 204.51 L178.75 204.53 L179.5 204.51 L180.25 204.51 L181 204.5 L181.75 204.48 L182.5 204.5 L183.25 204.49 L184 204.49 L184.75 204.5 L185.5 204.51 L186.25 204.5 L187 204.49 L187.75 204.47 L188.5 204.47 L189.25 204.48 L190 204.5 L190.75 204.52 L191.5 204.51 L192.25 204.48 L193 204.49 L193.75 204.49 L194.5 204.47 L195.25 204.48 L196 204.48 L196.75 204.48 L197.5 204.52 L198.25 204.53 L199 204.51 L199.75 204.5 L200.5 204.5 L201.25 204.51 L202 204.52 L202.75 204.51 L203.5 204.5 L204.25 204.49 L205 204.48 L205.75 204.49 L206.5 204.49 L207.25 204.49 L208 204.5 L208.75 204.48 L209.5 204.51 L210.25 204.53 L211 204.5 L211.75 204.48 L212.5 204.5 L213.25 204.51 L214 204.48 L214.75 204.49 L215.5 204.53 L216.25 204.53 L217 204.52 L217.75 204.5 L218.5 204.5 L219.25 204.48 L220 204.47 L220.75 204.49 L221.5 204.48 L222.25 204.45 L223 204.38 L223.75 204.24 L224.5 204.07 L225.25 203.79 L226 203.36 L226.75 202.71 L227.5 201.45 L228.25 200.13 L229 198.31 L229.75 195.16 L230.5 192.7 L231.25 189.93 L232 185.31 L232.75 179.08 L233.5 173.46 L234.25 169.32 L235 163.59 L235.75 159.4 L236.5 157.26 L237.25 156.51 L238 155.72 L238.75 158.21 L239.5 161.02 L240.25 165.17 L241 172.58 L241.75 177.2 L242.5 181.82 L243.25 188.02 L244 192.22 L244.75 195.45 L245.5 198.36 L246.25 200.1 L247 201.63 L247.75 202.72 L248.5 203.4 L249.25 203.81 L250 204.09 L250.75 204.32 L251.5 204.43 L252.25 204.47 L253 204.48 L253.75 204.48 L254.5 204.48 L255.25 204.48 L256 204.49 L256.75 204.49 L257.5 204.5 L258.25 204.5 L259 204.48 L259.75 204.48 L260.5 204.5 L261.25 204.53 L262 204.53 L262.75 204.5 L263.5 204.53 L264.25 204.54 L265 204.5 L265.75 204.5 L266.5 204.52 L267.25 204.49 L268 204.46" fill="none" stroke="#fff" stroke-width="1" stroke-linejoin="round"/>
<path d="M171.25 204.49 L172 204.48 L172.75 204.47 L173.5 204.48 L174.25 204.49 L175 204.48 L175.75 204.49 L176.5 204.5 L177.25 204.5 L178 204.51 L178.75 204.53 L179.5 204.51 L180.25 204.51 L181 204.5 L181.75 204.48 L182.5 204.5 L183.25 204.49 L184 204.49 L184.75 204.5 L185.5 204.51 L186.25 204.5 L187 204.49 L187.75 204.47 L188.5 204.47 L189.25 204.48 L190 204.5 L190.75 204.52 L191.5 204.51 L192.25 204.48 L193 204.49 L193.75 204.49 L194.5 204.47 L195.25 204.48 L196 204.48 L196.75 204.48 L197.5 204.52 L198.25 204.53 L199 204.51 L199.75 204.5 L200.5 204.5 L201.25 204.51 L202 204.52 L202.75 204.51 L203.5 204.5 L204.25 204.49 L205 204.48 L205.75 204.49 L206.5 204.49 L207.25 204.49 L208 204.5 L208.75 204.48 L209.5 204.51 L210.25 204.53 L211 204.5 L211.75 204.48 L212.5 204.5 L213.25 204.51 L214 204.48 L214.75 204.49 L215.5 204.53 L216.25 204.53 L217 204.52 L217.75 204.5 L218.5 204.5 L219.25 204.48 L220 204.47 L220.75 204.49 L221.5 204.48 L222.25 204.45 L223 204.38 L223.75 204.24 L224.5 204.07 L225.25 203.79 L226 203.36 L226.75 202.71 L227.5 201.45 L228.25 200.13 L229 198.31 L229.75 195.16 L230.5 192.7 L231.25 189.93 L232 185.31 L232.75 179.08 L233.5 173.46 L234.25 169.32 L235 163.59 L235.75 159.4 L236.5 157.26 L237.25 156.51 L238 155.72 L238.75 158.21 L239.5 161.02 L240.25 165.17 L241 172.58 L241.75 177.2 L242.5 181.82 L243.25 188.02 L244 192.22 L244.75 195.45 L245.5 198.36 L246.25 200.1 L247 201.63 L247.75 202.72 L248.5 203.4 L249.25 203.81 L250 204.09 L250.75 204.32 L251.5 204.43 L252.25 204.47 L253 204.48 L253.75 204.48 L254.5 204.48 L255.25 204.48 L256 204.49 L256.75 204.49 L257.5 204.5 L258.25 204.5 L259 204.48 L259.75 204.48 L260.5 204.5 L261.25 204.53 L262 204.53 L262.75 204.5 L263.5 204.53 L264.25 204.54 L265 204.5 L265.75 204.5 L266.5 204.52 L267.25 204.49 L268 204.46" fill="none" stroke="#000" stroke-width="1.15" stroke-dasharray="2.4 1.7" stroke-linejoin="round"/>
<path d="M171.25 204.51 L172 204.5 L172.75 204.5 L173.5 204.51 L174.25 204.53 L175 204.55 L175.75 204.5 L176.5 204.5 L177.25 204.52 L178 204.5 L178.75 204.49 L179.5 204.48 L180.25 204.52 L181 204.54 L181.75 204.48 L182.5 204.52 L183.25 204.55 L184 204.51 L184.75 204.5 L185.5 204.53 L186.25 204.5 L187 204.49 L187.75 204.5 L188.5 204.5 L189.25 204.51 L190 204.47 L190.75 204.46 L191.5 204.52 L192.25 204.5 L193 204.45 L193.75 204.47 L194.5 204.42 L195.25 204.41 L196 204.36 L196.75 204.29 L197.5 204.23 L198.25 204.13 L199 204.12 L199.75 204 L200.5 203.76 L201.25 203.53 L202 203.22 L202.75 203 L203.5 202.67 L204.25 202.04 L205 201.57 L205.75 201.16 L206.5 200.55 L207.25 199.37 L208 197.91 L208.75 197.14 L209.5 196.56 L210.25 194.38 L211 192.85 L211.75 191.65 L212.5 189.35 L213.25 188.62 L214 185.92 L214.75 182.42 L215.5 178.8 L216.25 173.71 L217 172.75 L217.75 171.65 L218.5 167.61 L219.25 167.34 L220 168.01 L220.75 162.94 L221.5 160.43 L222.25 161.67 L223 160.48 L223.75 159.92 L224.5 160.05 L225.25 158.47 L226 155.6 L226.75 158.28 L227.5 163.78 L228.25 164.45 L229 166.28 L229.75 169.2 L230.5 167.52 L231.25 166.18 L232 170.06 L232.75 176.6 L233.5 178.74 L234.25 182.34 L235 185.9 L235.75 185.34 L236.5 186.77 L237.25 190.67 L238 193.72 L238.75 194.38 L239.5 195.36 L240.25 197.25 L241 198.35 L241.75 199.42 L242.5 200.75 L243.25 201.27 L244 201.75 L244.75 202.49 L245.5 202.98 L246.25 203.23 L247 203.49 L247.75 203.71 L248.5 203.87 L249.25 204.01 L250 204.13 L250.75 204.27 L251.5 204.38 L252.25 204.44 L253 204.41 L253.75 204.35 L254.5 204.41 L255.25 204.51 L256 204.49 L256.75 204.47 L257.5 204.49 L258.25 204.51 L259 204.53 L259.75 204.53 L260.5 204.49 L261.25 204.45 L262 204.47 L262.75 204.51 L263.5 204.5 L264.25 204.47 L265 204.47 L265.75 204.51 L266.5 204.51 L267.25 204.48 L268 204.5" fill="none" stroke="#000" stroke-width="1.15" stroke-linejoin="round"/>
<line x1="171.25" y1="133.25" x2="171.25" y2="205.6" stroke="#000" stroke-width="1.2"/>
<line x1="170.75" y1="205" x2="268.5" y2="205" stroke="#000" stroke-width="1.2"/>
<line x1="169.05" y1="205" x2="171.25" y2="205" stroke="#000" stroke-width="0.9"/>
<line x1="169.05" y1="187.19" x2="171.25" y2="187.19" stroke="#000" stroke-width="0.9"/>
<line x1="169.05" y1="169.38" x2="171.25" y2="169.38" stroke="#000" stroke-width="0.9"/>
<line x1="169.05" y1="151.56" x2="171.25" y2="151.56" stroke="#000" stroke-width="0.9"/>
<line x1="169.05" y1="133.75" x2="171.25" y2="133.75" stroke="#000" stroke-width="0.9"/>
<text x="167.25" y="133.75" font-size="8.2" text-anchor="middle" transform="rotate(-90 167.25 133.75)">380</text>
<text x="167.25" y="205.3" font-size="8.2" text-anchor="middle" transform="rotate(-90 167.25 205.3)">0</text>
<text x="160.25" y="170.38" font-size="8.4" text-anchor="middle" transform="rotate(-90 160.25 170.38)">Events</text>
<text x="166.65" y="215.8" font-size="8.2">10<tspan dy="-2.4" dx="0.6" font-size="6.6">0</tspan></text>
<text x="190.84" y="215.8" font-size="8.2">10<tspan dy="-2.4" dx="0.6" font-size="6.6">1</tspan></text>
<text x="215.03" y="215.8" font-size="8.2">10<tspan dy="-2.4" dx="0.6" font-size="6.6">2</tspan></text>
<text x="239.21" y="215.8" font-size="8.2">10<tspan dy="-2.4" dx="0.6" font-size="6.6">3</tspan></text>
<text x="263.4" y="215.8" font-size="8.2">10<tspan dy="-2.4" dx="0.6" font-size="6.6">4</tspan></text>
<text x="182" y="233.8" font-size="12.6" font-weight="bold">TCR<tspan font-family="'Liberation Serif', 'DejaVu Serif', serif" font-weight="normal" font-size="13.5">αβ</tspan>-PE</text>
<rect x="297.4" y="149.6" width="105.6" height="65" fill="#fff" stroke="#000" stroke-width="1.1"/>
<line x1="308.4" y1="166.3" x2="339.2" y2="166.3" stroke="#000" stroke-width="1.1"/>
<line x1="308.4" y1="183.9" x2="339.2" y2="183.9" stroke="#000" stroke-width="1.6" stroke-dasharray="6.6 4.6"/>
<rect x="308.6" y="196.2" width="30.8" height="10" fill="#a9a9a9" stroke="#222" stroke-width="1"/>
<text x="344" y="167" font-size="12.3" font-weight="bold">annV<tspan dy="-4.6" font-size="8.2">int</tspan></text>
<text x="344" y="184.6" font-size="12.3" font-weight="bold">annV<tspan dy="-4.6" font-size="8.2">neg</tspan></text>
<text x="344" y="204" font-size="12.7" font-weight="bold">isotype</text>
<text x="2.2" y="269.6" font-size="23.5" font-weight="bold">B</text>
<text x="2.2" y="299.5" font-size="17.5" font-weight="bold">24 h</text>
<text x="2.2" y="415.5" font-size="17.5" font-weight="bold">48 h</text>
<text x="2.2" y="545" font-size="17.5" font-weight="bold">72 h</text>
<text x="2.2" y="658.8" font-size="17.5" font-weight="bold">96 h</text>
<text x="224.3" y="263.8" font-size="16" font-weight="bold">annexinV<tspan dy="-5" dx="0.3" font-size="9.2">int</tspan></text>
<text x="348.8" y="263.9" font-size="15.35" font-weight="bold">annexinV<tspan dy="-5.2" dx="1.2" font-size="9.9">high</tspan></text>
<path d="M92.5 275h1M100.5 275h1M106.5 275h1M110.5 275h1M113.5 275h1M120.5 275h1M122.5 275h1M131.5 275h1M133.5 275h1M139.5 275h1M141.5 275h3M147.5 275h1M149.5 275h1M157.5 275h1M159.5 275h1M162.5 275h1M165.5 275h2M105.5 276h1M115.5 276h1M117.5 276h1M126.5 276h1M129.5 276h1M149.5 276h1M151.5 276h1M158.5 276h1M160.5 276h2M167.5 276h2M170.5 276h3M93.5 277h1M96.5 277h1M99.5 277h1M108.5 277h1M112.5 277h1M118.5 277h1M152.5 277h2M155.5 277h1M161.5 277h1M172.5 277h1M96.5 278h1M100.5 278h1M157.5 278h2M160.5 278h1M91.5 279h2M94.5 279h1M96.5 279h1M98.5 279h1M101.5 279h2M110.5 279h1M154.5 279h1M157.5 279h1M93.5 280h1M98.5 280h2M103.5 280h2M93.5 281h1M99.5 281h1M101.5 281h4M91.5 282h1M98.5 282h1M100.5 282h1M104.5 282h1M98.5 283h1M105.5 283h1M107.5 283h1M98.5 284h1M100.5 284h1M102.5 284h1M105.5 284h1M102.5 285h1M92.5 286h1M97.5 286h1M100.5 286h1M104.5 286h1M94.5 287h1M102.5 287h2M105.5 287h2M95.5 288h1M101.5 288h1M106.5 288h1M100.5 289h1M104.5 289h1M107.5 289h1M101.5 290h2M106.5 290h1M93.5 291h1M91.5 292h1M95.5 292h1M101.5 292h1M103.5 292h1M106.5 292h2M98.5 293h1M100.5 293h1M104.5 293h1M106.5 293h1M109.5 293h1M111.5 293h1M94.5 294h2M104.5 294h1M106.5 294h1M109.5 294h2M92.5 295h3M97.5 295h1M100.5 295h1M103.5 295h1M108.5 295h1M112.5 295h1M114.5 295h1M103.5 296h1M105.5 296h2M112.5 296h1M114.5 296h1M117.5 296h1M93.5 297h1M100.5 297h1M113.5 297h1M95.5 298h1M106.5 298h2M109.5 298h1M112.5 298h1M115.5 298h1M119.5 298h1M150.5 298h1M152.5 298h2M92.5 299h1M96.5 299h1M103.5 299h1M105.5 299h1M111.5 299h1M116.5 299h2M122.5 299h1M124.5 299h2M145.5 299h1M147.5 299h1M154.5 299h2M115.5 300h1M118.5 300h3M122.5 300h1M126.5 300h2M129.5 300h1M131.5 300h1M137.5 300h1M139.5 300h1M141.5 300h1M145.5 300h1M150.5 300h1M157.5 300h1M115.5 301h1M125.5 301h1M127.5 301h1M129.5 301h1M131.5 301h1M135.5 301h1M141.5 301h1M143.5 301h2M146.5 301h1M151.5 301h1M154.5 301h1M157.5 301h1M173.5 301h1M114.5 302h1M117.5 302h3M123.5 302h1M132.5 302h4M137.5 302h1M140.5 302h3M151.5 302h1M158.5 302h2M171.5 302h1M118.5 303h1M126.5 303h1M133.5 303h2M137.5 303h1M140.5 303h1M142.5 303h1M149.5 303h1M151.5 303h2M160.5 303h1M121.5 304h2M127.5 304h1M134.5 304h1M152.5 304h1M155.5 304h1M163.5 304h2M166.5 304h1M171.5 304h1M121.5 305h1M133.5 305h1M146.5 305h1M150.5 305h1M152.5 305h2M155.5 305h2M159.5 305h1M168.5 305h1M171.5 305h1M132.5 306h1M141.5 306h1M147.5 306h2M163.5 306h2M166.5 306h1M122.5 307h1M147.5 307h1M150.5 307h1M162.5 307h1M169.5 307h1M121.5 308h1M125.5 308h1M135.5 308h1M141.5 308h1M145.5 308h1M151.5 308h2M158.5 308h1M164.5 308h1M127.5 309h1M146.5 309h1M153.5 309h2M163.5 309h1M165.5 309h1M117.5 310h1M120.5 310h1M127.5 310h1M137.5 310h2M142.5 310h1M152.5 310h1M134.5 311h1M136.5 311h1M138.5 311h1M150.5 311h1M123.5 312h1M126.5 312h1M139.5 312h1M170.5 312h1M125.5 313h1M155.5 313h1M159.5 313h1M124.5 314h1M127.5 314h1M134.5 314h1M155.5 314h1M162.5 314h1M164.5 314h1M151.5 315h1M171.5 315h1M126.5 316h1M129.5 316h1M152.5 316h1M114.5 318h1M129.5 318h1M172.5 318h1M109.5 319h1M130.5 319h1M136.5 319h1M171.5 319h1M116.5 320h1M120.5 320h1M130.5 320h1M142.5 320h1M153.5 320h1M167.5 320h1M154.5 321h1M163.5 321h1M141.5 322h1M121.5 323h1M137.5 323h1M145.5 323h1M151.5 323h1M162.5 323h1M124.5 324h1M121.5 325h1M154.5 325h1M165.5 325h1M115.5 326h1M130.5 326h1M162.5 326h1M164.5 326h1M137.5 327h1M156.5 327h1M98.5 328h1M130.5 328h1M135.5 328h1M164.5 328h1M166.5 328h1M169.5 328h2M172.5 328h1M102.5 329h1M118.5 329h1M121.5 329h1M130.5 329h1M154.5 329h1M157.5 329h2M155.5 330h1M159.5 330h1M162.5 330h1M166.5 330h1M105.5 331h1M114.5 331h1M117.5 331h1M163.5 331h1M105.5 332h1M123.5 332h1M135.5 332h1M104.5 333h1M128.5 333h1M149.5 333h1M156.5 333h1M162.5 333h1M160.5 334h1M101.5 335h1M103.5 335h1M105.5 335h1M128.5 335h1M132.5 335h1M137.5 335h1M148.5 335h1M156.5 335h1M163.5 335h1M168.5 335h1M170.5 335h1M109.5 336h1M111.5 336h1M117.5 336h1M108.5 337h1M132.5 337h1M150.5 337h1M101.5 338h1M113.5 338h1M118.5 338h1M122.5 338h1M138.5 338h1M100.5 339h1M104.5 339h1M121.5 339h1M123.5 339h1M125.5 339h1M150.5 339h1M164.5 339h1M96.5 340h1M105.5 340h1M117.5 340h2M125.5 340h1M138.5 340h1M143.5 340h1M164.5 340h1M173.5 340h1M117.5 341h1M128.5 341h2M158.5 341h1M165.5 341h1M171.5 341h1M151.5 342h1M139.5 343h1M148.5 343h1M150.5 343h1M93.5 344h1M115.5 344h1M127.5 344h1M116.5 345h1M137.5 345h1M150.5 345h1M105.5 346h1M120.5 346h1M123.5 346h1M127.5 346h1M136.5 346h1M156.5 346h1M103.5 347h1M114.5 347h1M126.5 347h1M128.5 347h1M139.5 347h1M161.5 347h1M106.5 348h1M118.5 348h1M129.5 348h1M136.5 348h1M139.5 348h1M167.5 348h1M103.5 349h1M106.5 349h1M119.5 349h1M147.5 349h1M154.5 349h1M115.5 350h1M117.5 350h1M131.5 350h1M134.5 350h1M144.5 350h1M138.5 351h1M148.5 351h1M159.5 352h1M170.5 352h1M99.5 353h1M127.5 353h1M158.5 353h1M114.5 354h1M131.5 354h1M103.5 355h1M107.5 355h1M120.5 355h2M137.5 355h1M171.5 355h1M93.5 356h1M121.5 356h1M143.5 356h1M147.5 356h2M120.5 357h1M138.5 357h1M146.5 357h1M151.5 357h1M156.5 357h1M159.5 357h1" stroke="#acacac" fill="none" shape-rendering="crispEdges"/>
<path d="M114.5 276h1M124.5 276h1M133.5 276h5M140.5 276h1M143.5 276h2M164.5 276h1M105.5 277h1M107.5 277h1M113.5 277h3M122.5 277h5M129.5 277h3M133.5 277h4M139.5 277h1M141.5 277h2M144.5 277h2M150.5 277h1M164.5 277h1M166.5 277h1M169.5 277h3M105.5 278h3M112.5 278h1M114.5 278h1M116.5 278h1M118.5 278h2M122.5 278h28M151.5 278h1M153.5 278h1M162.5 278h5M169.5 278h1M106.5 279h4M113.5 279h4M119.5 279h31M152.5 279h2M162.5 279h10M106.5 280h1M110.5 280h1M113.5 280h39M158.5 280h15M108.5 281h2M111.5 281h42M154.5 281h1M156.5 281h16M107.5 282h1M110.5 282h64M109.5 283h1M111.5 283h17M139.5 283h35M111.5 284h15M144.5 284h30M108.5 285h18M146.5 285h28M107.5 286h1M109.5 286h17M146.5 286h28M108.5 287h19M146.5 287h29M109.5 288h20M146.5 288h29M109.5 289h22M144.5 289h31M110.5 290h2M114.5 290h19M142.5 290h33M111.5 291h64M110.5 292h1M112.5 292h2M115.5 292h60M115.5 293h2M120.5 293h54M115.5 294h1M117.5 294h2M120.5 294h54M115.5 295h3M119.5 295h55M120.5 296h4M126.5 296h1M128.5 296h13M142.5 296h3M146.5 296h2M155.5 296h19M120.5 297h1M124.5 297h4M129.5 297h11M141.5 297h4M147.5 297h4M154.5 297h1M156.5 297h17M120.5 298h2M127.5 298h4M134.5 298h1M136.5 298h1M138.5 298h1M144.5 298h1M147.5 298h1M154.5 298h1M156.5 298h2M159.5 298h15M121.5 299h1M132.5 299h5M142.5 299h1M144.5 299h1M159.5 299h13M173.5 299h1M135.5 300h1M143.5 300h1M160.5 300h9M171.5 300h3M153.5 301h1M160.5 301h2M163.5 301h6M170.5 301h2M161.5 302h1M163.5 302h3M167.5 302h2M164.5 303h1M168.5 303h2" stroke="#888888" fill="none" shape-rendering="crispEdges"/>
<path d="M128.5 283h11M126.5 284h18M126.5 285h20M126.5 286h20M127.5 287h19M129.5 288h17M131.5 289h13M133.5 290h9" stroke="#939393" fill="none" shape-rendering="crispEdges"/>
<rect x="90.5" y="273.5" width="84.3" height="84.7" fill="none" stroke="#000" stroke-width="1.1"/>
<line x1="128.7" y1="273.5" x2="128.7" y2="358.2" stroke="#111" stroke-width="1"/>
<line x1="90.5" y1="318.3" x2="174.8" y2="318.3" stroke="#111" stroke-width="1"/>
<path d="M90.5 358.2L90.5 361.8M96.84 358.2L96.84 360.5M100.56 358.2L100.56 360.5M103.19 358.2L103.19 360.5M105.23 358.2L105.23 360.5M106.9 358.2L106.9 360.5M108.31 358.2L108.31 360.5M109.53 358.2L109.53 360.5M110.61 358.2L110.61 360.5M111.58 358.2L111.58 361.8M117.92 358.2L117.92 360.5M121.63 358.2L121.63 360.5M124.26 358.2L124.26 360.5M126.31 358.2L126.31 360.5M127.97 358.2L127.97 360.5M129.39 358.2L129.39 360.5M130.61 358.2L130.61 360.5M131.69 358.2L131.69 360.5M132.65 358.2L132.65 361.8M138.99 358.2L138.99 360.5M142.71 358.2L142.71 360.5M145.34 358.2L145.34 360.5M147.38 358.2L147.38 360.5M149.05 358.2L149.05 360.5M150.46 358.2L150.46 360.5M151.68 358.2L151.68 360.5M152.76 358.2L152.76 360.5M153.72 358.2L153.72 361.8M160.07 358.2L160.07 360.5M163.78 358.2L163.78 360.5M166.41 358.2L166.41 360.5M168.46 358.2L168.46 360.5M170.12 358.2L170.12 360.5M171.54 358.2L171.54 360.5M172.76 358.2L172.76 360.5M173.84 358.2L173.84 360.5M174.8 358.2L174.8 361.8M86.9 358.2L90.5 358.2M88.2 351.83L90.5 351.83M88.2 348.1L90.5 348.1M88.2 345.45L90.5 345.45M88.2 343.4L90.5 343.4M88.2 341.72L90.5 341.72M88.2 340.31L90.5 340.31M88.2 339.08L90.5 339.08M88.2 337.99L90.5 337.99M86.9 337.02L90.5 337.02M88.2 330.65L90.5 330.65M88.2 326.92L90.5 326.92M88.2 324.28L90.5 324.28M88.2 322.22L90.5 322.22M88.2 320.55L90.5 320.55M88.2 319.13L90.5 319.13M88.2 317.9L90.5 317.9M88.2 316.82L90.5 316.82M86.9 315.85L90.5 315.85M88.2 309.48L90.5 309.48M88.2 305.75L90.5 305.75M88.2 303.1L90.5 303.1M88.2 301.05L90.5 301.05M88.2 299.37L90.5 299.37M88.2 297.96L90.5 297.96M88.2 296.73L90.5 296.73M88.2 295.64L90.5 295.64M86.9 294.67L90.5 294.67M88.2 288.3L90.5 288.3M88.2 284.57L90.5 284.57M88.2 281.93L90.5 281.93M88.2 279.87L90.5 279.87M88.2 278.2L90.5 278.2M88.2 276.78L90.5 276.78M88.2 275.55L90.5 275.55M88.2 274.47L90.5 274.47M86.9 273.5L90.5 273.5" stroke="#000" stroke-width="0.85" fill="none"/>
<text transform="translate(88.2 367) scale(0.8 1)" font-size="6.9" stroke="#000" stroke-width="0.15">10<tspan dy="-2.4" dx="0.6" font-size="6.3">0</tspan></text>
<text transform="translate(86.3 363.7) rotate(-90) scale(0.72 1)" font-size="6.9" stroke="#000" stroke-width="0.15">10<tspan dy="-3.5" dx="0.8" font-size="6.1">0</tspan></text>
<text transform="translate(109.28 367) scale(0.8 1)" font-size="6.9" stroke="#000" stroke-width="0.15">10<tspan dy="-2.4" dx="0.6" font-size="6.3">1</tspan></text>
<text transform="translate(86.3 342.52) rotate(-90) scale(0.72 1)" font-size="6.9" stroke="#000" stroke-width="0.15">10<tspan dy="-3.5" dx="0.8" font-size="6.1">1</tspan></text>
<text transform="translate(130.35 367) scale(0.8 1)" font-size="6.9" stroke="#000" stroke-width="0.15">10<tspan dy="-2.4" dx="0.6" font-size="6.3">2</tspan></text>
<text transform="translate(86.3 321.35) rotate(-90) scale(0.72 1)" font-size="6.9" stroke="#000" stroke-width="0.15">10<tspan dy="-3.5" dx="0.8" font-size="6.1">2</tspan></text>
<text transform="translate(151.42 367) scale(0.8 1)" font-size="6.9" stroke="#000" stroke-width="0.15">10<tspan dy="-2.4" dx="0.6" font-size="6.3">3</tspan></text>
<text transform="translate(86.3 300.17) rotate(-90) scale(0.72 1)" font-size="6.9" stroke="#000" stroke-width="0.15">10<tspan dy="-3.5" dx="0.8" font-size="6.1">3</tspan></text>
<text transform="translate(172.5 367) scale(0.8 1)" font-size="6.9" stroke="#000" stroke-width="0.15">10<tspan dy="-2.4" dx="0.6" font-size="6.3">4</tspan></text>
<text transform="translate(86.3 279) rotate(-90) scale(0.72 1)" font-size="6.9" stroke="#000" stroke-width="0.15">10<tspan dy="-3.5" dx="0.8" font-size="6.1">4</tspan></text>
<text x="131.65" y="375.5" font-size="6.7" text-anchor="middle" fill="#111" stroke="#111" stroke-width="0.15">AnnexinV FITC</text>
<text x="75.9" y="317.85" font-size="6.7" text-anchor="middle" fill="#111" transform="rotate(-90 75.9 317.85)" stroke="#111" stroke-width="0.2">PKH26</text>
<line x1="100.5" y1="270.5" x2="152.5" y2="270.5" stroke="#a5a5a5" stroke-width="0.9" stroke-dasharray="1 1.6 2 1.2 1 2.2"/>
<path d="M113.75 278 L128.75 275.5 L151.25 276.25 L158.75 280 L152.5 292.5 L147.5 296.75 L121.25 293.75 L110.5 286.25Z" fill="none" stroke="#111" stroke-width="0.85"/>
<text x="125" y="304.5" font-size="6.3" fill="#222">R1</text>
<path d="M159.5 280 L166.25 277 L174.5 277 L174.5 292.5 L167.5 297.5 L160 298.75 L155 292.5Z" fill="none" stroke="#111" stroke-width="0.85"/>
<text x="168.5" y="296.5" font-size="6.3" fill="#222">R2</text>
<path d="M92.5 395.3h1M137.5 395.3h1M168.5 395.3h1M170.5 395.3h1M131.5 396.3h1M149.5 396.3h1M156.5 396.3h1M160.5 396.3h1M162.5 396.3h3M173.5 396.3h1M100.5 397.3h1M122.5 397.3h1M163.5 397.3h2M169.5 397.3h1M102.5 398.3h1M134.5 398.3h1M141.5 398.3h1M143.5 398.3h1M160.5 398.3h1M162.5 398.3h1M167.5 398.3h1M170.5 398.3h1M91.5 399.3h1M95.5 399.3h1M97.5 399.3h1M100.5 399.3h1M105.5 399.3h1M114.5 399.3h1M117.5 399.3h1M119.5 399.3h1M121.5 399.3h1M125.5 399.3h1M142.5 399.3h1M156.5 399.3h1M169.5 399.3h1M172.5 399.3h1M96.5 400.3h1M107.5 400.3h1M121.5 400.3h1M127.5 400.3h1M131.5 400.3h2M149.5 400.3h1M155.5 400.3h2M158.5 400.3h1M167.5 400.3h2M94.5 401.3h1M106.5 401.3h1M114.5 401.3h1M121.5 401.3h1M126.5 401.3h1M128.5 401.3h1M132.5 401.3h3M136.5 401.3h1M140.5 401.3h1M153.5 401.3h1M157.5 401.3h1M168.5 401.3h1M171.5 401.3h1M100.5 402.3h1M103.5 402.3h1M111.5 402.3h1M116.5 402.3h1M118.5 402.3h1M123.5 402.3h1M154.5 402.3h1M156.5 402.3h1M172.5 402.3h1M97.5 403.3h1M105.5 403.3h1M108.5 403.3h1M114.5 403.3h1M118.5 403.3h1M129.5 403.3h1M142.5 403.3h1M154.5 403.3h1M168.5 403.3h1M170.5 403.3h1M98.5 404.3h1M109.5 404.3h1M125.5 404.3h1M132.5 404.3h1M136.5 404.3h1M142.5 404.3h1M155.5 404.3h1M97.5 405.3h1M101.5 405.3h1M142.5 405.3h1M151.5 405.3h1M171.5 405.3h1M173.5 405.3h1M97.5 406.3h1M99.5 406.3h1M146.5 406.3h1M95.5 407.3h1M147.5 407.3h1M150.5 407.3h1M173.5 407.3h1M148.5 408.3h1M150.5 408.3h1M93.5 409.3h1M94.5 410.3h1M92.5 411.3h1M91.5 412.3h1M94.5 412.3h1M95.5 413.3h1M93.5 415.3h1M92.5 416.3h1M93.5 418.3h1M95.5 418.3h1M93.5 419.3h1M94.5 421.3h1M93.5 422.3h1M100.5 422.3h1M92.5 423.3h2M100.5 423.3h2M104.5 423.3h1M113.5 423.3h1M92.5 424.3h1M94.5 424.3h1M98.5 424.3h1M104.5 424.3h1M111.5 424.3h2M117.5 424.3h1M135.5 424.3h1M137.5 424.3h1M149.5 424.3h1M95.5 425.3h1M102.5 425.3h2M105.5 425.3h1M107.5 425.3h1M113.5 425.3h1M115.5 425.3h1M119.5 425.3h1M121.5 425.3h1M124.5 425.3h2M127.5 425.3h1M129.5 425.3h1M139.5 425.3h1M152.5 425.3h1M103.5 426.3h2M110.5 426.3h1M117.5 426.3h2M121.5 426.3h1M132.5 426.3h1M134.5 426.3h1M142.5 426.3h1M145.5 426.3h1M151.5 426.3h2M173.5 426.3h1M98.5 427.3h1M102.5 427.3h1M112.5 427.3h1M114.5 427.3h1M124.5 427.3h1M130.5 427.3h1M137.5 427.3h1M153.5 427.3h2M171.5 427.3h1M96.5 428.3h2M112.5 428.3h1M117.5 428.3h1M121.5 428.3h1M126.5 428.3h1M133.5 428.3h3M139.5 428.3h1M142.5 428.3h2M148.5 428.3h1M156.5 428.3h1M170.5 428.3h1M100.5 429.3h2M106.5 429.3h1M108.5 429.3h2M121.5 429.3h1M126.5 429.3h1M129.5 429.3h2M136.5 429.3h2M139.5 429.3h2M143.5 429.3h2M146.5 429.3h1M172.5 429.3h1M93.5 430.3h1M101.5 430.3h1M119.5 430.3h2M130.5 430.3h1M144.5 430.3h1M148.5 430.3h1M150.5 430.3h1M156.5 430.3h1M172.5 430.3h2M92.5 431.3h1M96.5 431.3h1M105.5 431.3h1M116.5 431.3h1M125.5 431.3h1M128.5 431.3h3M140.5 431.3h1M145.5 431.3h1M154.5 431.3h1M159.5 431.3h1M170.5 431.3h1M172.5 431.3h2M95.5 432.3h1M120.5 432.3h1M132.5 432.3h1M147.5 432.3h2M150.5 432.3h1M153.5 432.3h1M155.5 432.3h1M161.5 432.3h1M107.5 433.3h1M117.5 433.3h1M124.5 433.3h1M126.5 433.3h1M129.5 433.3h1M159.5 433.3h1M162.5 433.3h1M164.5 433.3h1M167.5 433.3h1M170.5 433.3h1M105.5 434.3h1M120.5 434.3h1M157.5 434.3h3M163.5 434.3h1M165.5 434.3h1M167.5 434.3h1M171.5 434.3h1M114.5 435.3h1M119.5 435.3h1M128.5 435.3h1M141.5 435.3h1M153.5 435.3h1M158.5 435.3h1M160.5 435.3h1M173.5 435.3h1M109.5 436.3h1M120.5 436.3h1M103.5 437.3h1M143.5 437.3h1M113.5 438.3h1M151.5 438.3h1M93.5 439.3h1M106.5 439.3h2M110.5 439.3h1M112.5 439.3h1M133.5 439.3h1M135.5 439.3h1M139.5 439.3h1M153.5 439.3h1M161.5 439.3h2M169.5 439.3h1M173.5 439.3h1M98.5 440.3h1M113.5 440.3h1M118.5 440.3h2M137.5 440.3h1M149.5 440.3h1M158.5 440.3h1M173.5 440.3h1M93.5 441.3h1M105.5 441.3h1M132.5 441.3h1M166.5 441.3h1M169.5 441.3h1M103.5 442.3h1M115.5 442.3h1M127.5 442.3h1M141.5 442.3h1M151.5 442.3h1M94.5 443.3h1M103.5 443.3h1M124.5 443.3h1M162.5 443.3h1M93.5 444.3h1M102.5 444.3h1M105.5 444.3h1M108.5 444.3h1M133.5 444.3h1M149.5 444.3h2M157.5 444.3h1M101.5 445.3h1M103.5 445.3h1M107.5 445.3h1M114.5 445.3h1M138.5 445.3h1M153.5 445.3h1M163.5 445.3h2M166.5 445.3h1M101.5 446.3h1M143.5 446.3h1M156.5 446.3h1M161.5 446.3h1M163.5 446.3h1M166.5 446.3h1M169.5 446.3h1M171.5 446.3h1M111.5 447.3h3M115.5 447.3h2M132.5 447.3h1M134.5 447.3h1M140.5 447.3h1M117.5 448.3h1M103.5 449.3h1M112.5 449.3h1M123.5 449.3h1M137.5 449.3h1M145.5 449.3h1M147.5 449.3h1M158.5 449.3h1M169.5 449.3h1M172.5 449.3h1M99.5 450.3h1M145.5 450.3h1M120.5 451.3h1M135.5 451.3h1M137.5 451.3h1M145.5 451.3h1M108.5 452.3h1M124.5 452.3h1M139.5 452.3h1M164.5 452.3h2M168.5 452.3h1M92.5 453.3h1M122.5 453.3h2M133.5 453.3h1M147.5 453.3h1M154.5 453.3h1M104.5 454.3h2M133.5 454.3h1M136.5 454.3h1M158.5 454.3h1M166.5 454.3h1M173.5 454.3h1M92.5 455.3h1M102.5 455.3h1M122.5 455.3h1M130.5 455.3h1M154.5 455.3h1M160.5 455.3h1M100.5 456.3h1M111.5 456.3h1M132.5 456.3h1M137.5 456.3h1M146.5 456.3h3M169.5 456.3h1M102.5 457.3h1M110.5 457.3h1M118.5 457.3h1M126.5 457.3h1M132.5 457.3h1M144.5 457.3h1M126.5 458.3h1M130.5 458.3h1M172.5 458.3h1M92.5 459.3h1M96.5 459.3h1M141.5 459.3h1M97.5 460.3h1M102.5 460.3h1M114.5 460.3h1M125.5 460.3h1M129.5 460.3h1M131.5 460.3h1M134.5 460.3h1M145.5 460.3h1M162.5 460.3h1M99.5 461.3h1M112.5 461.3h1M114.5 461.3h1M124.5 461.3h1M148.5 461.3h1M106.5 462.3h1M108.5 462.3h1M120.5 462.3h1M122.5 462.3h1M146.5 462.3h1M98.5 463.3h1M117.5 463.3h3M138.5 463.3h1M156.5 463.3h1M127.5 464.3h1M130.5 464.3h1M146.5 464.3h1M154.5 464.3h1M172.5 464.3h1M94.5 465.3h1M107.5 465.3h1M109.5 465.3h1M123.5 465.3h1M93.5 466.3h1M99.5 466.3h1M126.5 466.3h1M134.5 466.3h1M139.5 466.3h1M170.5 466.3h1M173.5 466.3h1M119.5 467.3h2M127.5 467.3h1M129.5 467.3h1M134.5 467.3h1M156.5 467.3h1M173.5 467.3h1M96.5 468.3h1M101.5 468.3h1M119.5 468.3h1M133.5 468.3h1M139.5 468.3h1M168.5 468.3h2M125.5 469.3h1M148.5 469.3h1M162.5 469.3h1M168.5 469.3h1M93.5 470.3h1M110.5 470.3h1M112.5 470.3h1M120.5 470.3h1M122.5 470.3h2M131.5 470.3h1M140.5 470.3h1M108.5 471.3h1M113.5 471.3h1M136.5 471.3h1M140.5 471.3h1M143.5 471.3h2M158.5 471.3h1M112.5 472.3h1M118.5 472.3h1M120.5 472.3h1M125.5 472.3h1M127.5 472.3h1M163.5 472.3h1M166.5 472.3h1M111.5 473.3h1M166.5 473.3h1M121.5 474.3h1M144.5 474.3h1M167.5 474.3h1M123.5 475.3h1M128.5 475.3h1M136.5 475.3h3M164.5 475.3h1M105.5 476.3h1M118.5 476.3h1M126.5 476.3h1M173.5 476.3h1M103.5 477.3h1M115.5 477.3h1M119.5 477.3h1M125.5 477.3h2M161.5 477.3h1M169.5 477.3h1" stroke="#acacac" fill="none" shape-rendering="crispEdges"/>
<path d="M160.5 399.3h1M162.5 399.3h1M164.5 399.3h2M159.5 400.3h3M163.5 400.3h3M160.5 401.3h1M162.5 401.3h3M157.5 402.3h1M159.5 402.3h6M158.5 403.3h7M110.5 404.3h1M114.5 404.3h1M116.5 404.3h1M119.5 404.3h1M121.5 404.3h1M127.5 404.3h1M129.5 404.3h1M156.5 404.3h12M169.5 404.3h2M105.5 405.3h3M111.5 405.3h1M113.5 405.3h3M117.5 405.3h9M127.5 405.3h1M129.5 405.3h1M131.5 405.3h2M134.5 405.3h1M156.5 405.3h13M100.5 406.3h2M103.5 406.3h1M105.5 406.3h2M109.5 406.3h28M139.5 406.3h1M153.5 406.3h1M157.5 406.3h14M101.5 407.3h2M104.5 407.3h35M140.5 407.3h2M143.5 407.3h1M152.5 407.3h19M100.5 408.3h3M104.5 408.3h39M144.5 408.3h3M153.5 408.3h1M156.5 408.3h16M99.5 409.3h3M103.5 409.3h41M145.5 409.3h2M151.5 409.3h3M155.5 409.3h17M173.5 409.3h1M99.5 410.3h3M103.5 410.3h47M152.5 410.3h21M96.5 411.3h2M102.5 411.3h72M96.5 412.3h2M100.5 412.3h1M102.5 412.3h71M96.5 413.3h3M101.5 413.3h72M99.5 414.3h52M153.5 414.3h20M96.5 415.3h2M99.5 415.3h53M153.5 415.3h21M93.5 416.3h1M95.5 416.3h2M100.5 416.3h1M103.5 416.3h71M95.5 417.3h3M99.5 417.3h2M102.5 417.3h44M147.5 417.3h1M149.5 417.3h23M173.5 417.3h1M98.5 418.3h1M100.5 418.3h1M102.5 418.3h1M104.5 418.3h43M149.5 418.3h23M173.5 418.3h1M98.5 419.3h2M103.5 419.3h2M106.5 419.3h37M145.5 419.3h1M149.5 419.3h23M96.5 420.3h1M101.5 420.3h1M103.5 420.3h1M106.5 420.3h2M110.5 420.3h32M144.5 420.3h4M150.5 420.3h24M97.5 421.3h1M100.5 421.3h1M102.5 421.3h7M110.5 421.3h1M112.5 421.3h30M143.5 421.3h2M148.5 421.3h2M152.5 421.3h20M94.5 422.3h1M96.5 422.3h1M98.5 422.3h1M102.5 422.3h1M104.5 422.3h1M106.5 422.3h1M110.5 422.3h4M115.5 422.3h2M118.5 422.3h4M123.5 422.3h1M125.5 422.3h4M131.5 422.3h3M135.5 422.3h1M138.5 422.3h1M140.5 422.3h2M143.5 422.3h31M96.5 423.3h2M107.5 423.3h1M120.5 423.3h2M123.5 423.3h1M125.5 423.3h5M131.5 423.3h1M137.5 423.3h2M140.5 423.3h2M143.5 423.3h1M145.5 423.3h2M148.5 423.3h1M151.5 423.3h2M154.5 423.3h17M172.5 423.3h2M107.5 424.3h2M120.5 424.3h1M123.5 424.3h1M126.5 424.3h2M132.5 424.3h3M138.5 424.3h1M140.5 424.3h2M144.5 424.3h1M146.5 424.3h1M153.5 424.3h1M155.5 424.3h16M132.5 425.3h2M141.5 425.3h1M144.5 425.3h1M146.5 425.3h1M154.5 425.3h15M170.5 425.3h2M133.5 426.3h1M141.5 426.3h1M154.5 426.3h1M156.5 426.3h14M159.5 427.3h12M157.5 428.3h11M160.5 429.3h3M165.5 429.3h4M159.5 430.3h1M161.5 430.3h7M161.5 431.3h2M165.5 431.3h4M167.5 432.3h1" stroke="#888888" fill="none" shape-rendering="crispEdges"/>
<rect x="90.5" y="393.8" width="84.3" height="84.7" fill="none" stroke="#000" stroke-width="1.1"/>
<line x1="128.7" y1="393.8" x2="128.7" y2="478.5" stroke="#111" stroke-width="1"/>
<line x1="90.5" y1="438.8" x2="174.8" y2="438.8" stroke="#111" stroke-width="1"/>
<path d="M90.5 478.5L90.5 482.1M96.84 478.5L96.84 480.8M100.56 478.5L100.56 480.8M103.19 478.5L103.19 480.8M105.23 478.5L105.23 480.8M106.9 478.5L106.9 480.8M108.31 478.5L108.31 480.8M109.53 478.5L109.53 480.8M110.61 478.5L110.61 480.8M111.58 478.5L111.58 482.1M117.92 478.5L117.92 480.8M121.63 478.5L121.63 480.8M124.26 478.5L124.26 480.8M126.31 478.5L126.31 480.8M127.97 478.5L127.97 480.8M129.39 478.5L129.39 480.8M130.61 478.5L130.61 480.8M131.69 478.5L131.69 480.8M132.65 478.5L132.65 482.1M138.99 478.5L138.99 480.8M142.71 478.5L142.71 480.8M145.34 478.5L145.34 480.8M147.38 478.5L147.38 480.8M149.05 478.5L149.05 480.8M150.46 478.5L150.46 480.8M151.68 478.5L151.68 480.8M152.76 478.5L152.76 480.8M153.72 478.5L153.72 482.1M160.07 478.5L160.07 480.8M163.78 478.5L163.78 480.8M166.41 478.5L166.41 480.8M168.46 478.5L168.46 480.8M170.12 478.5L170.12 480.8M171.54 478.5L171.54 480.8M172.76 478.5L172.76 480.8M173.84 478.5L173.84 480.8M174.8 478.5L174.8 482.1M86.9 478.5L90.5 478.5M88.2 472.13L90.5 472.13M88.2 468.4L90.5 468.4M88.2 465.75L90.5 465.75M88.2 463.7L90.5 463.7M88.2 462.02L90.5 462.02M88.2 460.61L90.5 460.61M88.2 459.38L90.5 459.38M88.2 458.29L90.5 458.29M86.9 457.32L90.5 457.32M88.2 450.95L90.5 450.95M88.2 447.22L90.5 447.22M88.2 444.58L90.5 444.58M88.2 442.52L90.5 442.52M88.2 440.85L90.5 440.85M88.2 439.43L90.5 439.43M88.2 438.2L90.5 438.2M88.2 437.12L90.5 437.12M86.9 436.15L90.5 436.15M88.2 429.78L90.5 429.78M88.2 426.05L90.5 426.05M88.2 423.4L90.5 423.4M88.2 421.35L90.5 421.35M88.2 419.67L90.5 419.67M88.2 418.26L90.5 418.26M88.2 417.03L90.5 417.03M88.2 415.94L90.5 415.94M86.9 414.98L90.5 414.98M88.2 408.6L90.5 408.6M88.2 404.87L90.5 404.87M88.2 402.23L90.5 402.23M88.2 400.17L90.5 400.17M88.2 398.5L90.5 398.5M88.2 397.08L90.5 397.08M88.2 395.85L90.5 395.85M88.2 394.77L90.5 394.77M86.9 393.8L90.5 393.8" stroke="#000" stroke-width="0.85" fill="none"/>
<text transform="translate(88.2 487.3) scale(0.8 1)" font-size="6.9" stroke="#000" stroke-width="0.15">10<tspan dy="-2.4" dx="0.6" font-size="6.3">0</tspan></text>
<text transform="translate(86.3 484) rotate(-90) scale(0.72 1)" font-size="6.9" stroke="#000" stroke-width="0.15">10<tspan dy="-3.5" dx="0.8" font-size="6.1">0</tspan></text>
<text transform="translate(109.28 487.3) scale(0.8 1)" font-size="6.9" stroke="#000" stroke-width="0.15">10<tspan dy="-2.4" dx="0.6" font-size="6.3">1</tspan></text>
<text transform="translate(86.3 462.82) rotate(-90) scale(0.72 1)" font-size="6.9" stroke="#000" stroke-width="0.15">10<tspan dy="-3.5" dx="0.8" font-size="6.1">1</tspan></text>
<text transform="translate(130.35 487.3) scale(0.8 1)" font-size="6.9" stroke="#000" stroke-width="0.15">10<tspan dy="-2.4" dx="0.6" font-size="6.3">2</tspan></text>
<text transform="translate(86.3 441.65) rotate(-90) scale(0.72 1)" font-size="6.9" stroke="#000" stroke-width="0.15">10<tspan dy="-3.5" dx="0.8" font-size="6.1">2</tspan></text>
<text transform="translate(151.42 487.3) scale(0.8 1)" font-size="6.9" stroke="#000" stroke-width="0.15">10<tspan dy="-2.4" dx="0.6" font-size="6.3">3</tspan></text>
<text transform="translate(86.3 420.48) rotate(-90) scale(0.72 1)" font-size="6.9" stroke="#000" stroke-width="0.15">10<tspan dy="-3.5" dx="0.8" font-size="6.1">3</tspan></text>
<text transform="translate(172.5 487.3) scale(0.8 1)" font-size="6.9" stroke="#000" stroke-width="0.15">10<tspan dy="-2.4" dx="0.6" font-size="6.3">4</tspan></text>
<text transform="translate(86.3 399.3) rotate(-90) scale(0.72 1)" font-size="6.9" stroke="#000" stroke-width="0.15">10<tspan dy="-3.5" dx="0.8" font-size="6.1">4</tspan></text>
<text x="131.65" y="495.8" font-size="6.7" text-anchor="middle" fill="#111" stroke="#111" stroke-width="0.15">Annexin FITC</text>
<text x="75.9" y="438.15" font-size="6.7" text-anchor="middle" fill="#111" transform="rotate(-90 75.9 438.15)" stroke="#111" stroke-width="0.2">PKH26</text>
<line x1="100.5" y1="390.8" x2="152.5" y2="390.8" stroke="#a5a5a5" stroke-width="0.9" stroke-dasharray="1 1.6 2 1.2 1 2.2"/>
<path d="M90.8 408 L104.5 401 L135 401 L148.6 409 L142 425 L133 430.5 L97 423 L90.8 414Z" fill="none" stroke="#111" stroke-width="0.85"/>
<text x="120" y="416" font-size="6.3" fill="#222">R3</text>
<path d="M153 407 L162 399 L173.4 400 L174.6 425 L166.7 436 L157.7 434 L151 423Z" fill="none" stroke="#111" stroke-width="0.85"/>
<text x="165" y="419" font-size="6.3" fill="#222">R4</text>
<path d="M128.5 516.3h1M166.5 516.3h1M97.5 517.3h1M103.5 517.3h1M107.5 517.3h1M145.5 517.3h1M169.5 517.3h1M110.5 518.3h1M115.5 518.3h1M121.5 518.3h1M146.5 518.3h1M148.5 518.3h1M156.5 518.3h1M160.5 518.3h3M102.5 519.3h1M108.5 519.3h1M143.5 519.3h2M158.5 519.3h1M163.5 519.3h1M167.5 519.3h1M101.5 520.3h1M104.5 520.3h1M123.5 520.3h1M159.5 520.3h1M170.5 520.3h1M92.5 521.3h1M104.5 521.3h1M110.5 521.3h1M113.5 521.3h1M138.5 521.3h1M140.5 521.3h3M147.5 521.3h1M159.5 521.3h1M164.5 521.3h1M168.5 521.3h1M107.5 522.3h1M109.5 522.3h1M111.5 522.3h1M132.5 522.3h1M143.5 522.3h1M158.5 522.3h2M164.5 522.3h1M167.5 522.3h1M169.5 522.3h1M95.5 523.3h1M101.5 523.3h1M116.5 523.3h1M132.5 523.3h1M160.5 523.3h1M163.5 523.3h1M166.5 523.3h1M170.5 523.3h1M96.5 524.3h1M103.5 524.3h1M105.5 524.3h1M114.5 524.3h2M120.5 524.3h1M138.5 524.3h1M154.5 524.3h1M160.5 524.3h1M172.5 524.3h1M96.5 525.3h1M100.5 525.3h1M102.5 525.3h2M105.5 525.3h1M108.5 525.3h1M115.5 525.3h1M117.5 525.3h1M119.5 525.3h2M143.5 525.3h1M150.5 525.3h1M153.5 525.3h1M157.5 525.3h1M173.5 525.3h1M109.5 526.3h1M126.5 526.3h1M131.5 526.3h1M135.5 526.3h1M156.5 526.3h1M168.5 526.3h1M171.5 526.3h1M173.5 526.3h1M93.5 527.3h1M101.5 527.3h1M105.5 527.3h3M111.5 527.3h2M128.5 527.3h1M131.5 527.3h1M143.5 527.3h1M152.5 527.3h1M155.5 527.3h1M169.5 527.3h3M93.5 528.3h1M95.5 528.3h1M100.5 528.3h1M103.5 528.3h1M127.5 528.3h2M133.5 528.3h1M140.5 528.3h1M173.5 528.3h1M91.5 529.3h1M133.5 529.3h1M136.5 529.3h2M171.5 529.3h1M95.5 530.3h1M98.5 530.3h1M102.5 530.3h1M137.5 530.3h1M148.5 530.3h1M152.5 530.3h1M94.5 531.3h2M100.5 531.3h1M140.5 531.3h1M148.5 531.3h1M151.5 531.3h1M95.5 532.3h1M145.5 532.3h3M95.5 533.3h1M92.5 534.3h2M139.5 534.3h1M144.5 534.3h1M91.5 535.3h2M140.5 535.3h1M144.5 535.3h1M148.5 535.3h1M144.5 536.3h1M91.5 537.3h1M141.5 537.3h2M147.5 537.3h1M143.5 538.3h1M145.5 539.3h2M91.5 541.3h1M91.5 543.3h1M146.5 543.3h2M144.5 544.3h1M150.5 544.3h1M91.5 545.3h1M147.5 545.3h1M150.5 545.3h1M91.5 546.3h2M146.5 546.3h1M150.5 546.3h1M152.5 546.3h1M173.5 546.3h1M93.5 547.3h1M99.5 547.3h1M141.5 547.3h1M150.5 547.3h1M152.5 547.3h1M95.5 548.3h2M138.5 548.3h1M140.5 548.3h1M143.5 548.3h1M149.5 548.3h1M98.5 549.3h2M141.5 549.3h2M144.5 549.3h1M149.5 549.3h1M173.5 549.3h1M93.5 550.3h2M137.5 550.3h1M140.5 550.3h2M145.5 550.3h2M148.5 550.3h1M151.5 550.3h1M92.5 551.3h1M94.5 551.3h1M100.5 551.3h1M131.5 551.3h1M141.5 551.3h2M144.5 551.3h1M150.5 551.3h2M99.5 552.3h2M104.5 552.3h2M132.5 552.3h1M136.5 552.3h1M150.5 552.3h1M95.5 553.3h2M107.5 553.3h2M111.5 553.3h1M115.5 553.3h2M128.5 553.3h2M133.5 553.3h1M137.5 553.3h1M139.5 553.3h1M141.5 553.3h1M145.5 553.3h1M107.5 554.3h1M111.5 554.3h1M114.5 554.3h1M130.5 554.3h1M134.5 554.3h1M137.5 554.3h1M143.5 554.3h1M146.5 554.3h1M148.5 554.3h1M92.5 555.3h1M101.5 555.3h1M103.5 555.3h2M109.5 555.3h1M114.5 555.3h1M116.5 555.3h5M131.5 555.3h2M152.5 555.3h1M130.5 556.3h1M134.5 556.3h1M140.5 556.3h1M152.5 556.3h1M155.5 556.3h1M98.5 557.3h1M102.5 557.3h2M106.5 557.3h2M109.5 557.3h2M121.5 557.3h1M138.5 557.3h1M141.5 557.3h1M150.5 557.3h1M153.5 557.3h1M155.5 557.3h1M170.5 557.3h1M172.5 557.3h1M108.5 558.3h1M114.5 558.3h2M117.5 558.3h3M127.5 558.3h1M131.5 558.3h1M138.5 558.3h1M147.5 558.3h1M150.5 558.3h1M153.5 558.3h1M168.5 558.3h1M171.5 558.3h1M97.5 559.3h1M101.5 559.3h3M130.5 559.3h1M138.5 559.3h1M143.5 559.3h1M151.5 559.3h1M154.5 559.3h2M168.5 559.3h1M104.5 560.3h1M113.5 560.3h1M116.5 560.3h1M119.5 560.3h2M126.5 560.3h1M128.5 560.3h1M130.5 560.3h2M143.5 560.3h1M171.5 560.3h2M123.5 561.3h1M125.5 561.3h1M129.5 561.3h1M136.5 561.3h1M154.5 561.3h2M173.5 561.3h1M103.5 562.3h1M105.5 562.3h1M114.5 562.3h1M117.5 562.3h1M121.5 562.3h1M138.5 562.3h1M145.5 562.3h1M147.5 562.3h1M172.5 562.3h1M97.5 563.3h1M108.5 563.3h1M113.5 563.3h2M116.5 563.3h2M121.5 563.3h2M126.5 563.3h1M128.5 563.3h1M131.5 563.3h1M139.5 563.3h1M146.5 563.3h1M158.5 563.3h1M110.5 564.3h1M115.5 564.3h2M118.5 564.3h1M122.5 564.3h2M130.5 564.3h1M158.5 564.3h1M169.5 564.3h1M172.5 564.3h1M115.5 565.3h1M119.5 565.3h2M123.5 565.3h1M132.5 565.3h1M144.5 565.3h1M166.5 565.3h1M169.5 565.3h1M172.5 565.3h1M99.5 566.3h1M116.5 566.3h1M123.5 566.3h1M125.5 566.3h1M150.5 566.3h2M158.5 566.3h1M166.5 566.3h1M168.5 566.3h1M170.5 566.3h1M172.5 566.3h1M92.5 567.3h1M113.5 567.3h1M115.5 567.3h1M118.5 567.3h1M123.5 567.3h1M125.5 567.3h2M146.5 567.3h1M158.5 567.3h2M164.5 567.3h1M166.5 567.3h1M97.5 568.3h1M110.5 568.3h1M113.5 568.3h1M121.5 568.3h1M126.5 568.3h1M135.5 568.3h1M154.5 568.3h1M167.5 568.3h2M116.5 569.3h1M120.5 569.3h1M123.5 569.3h1M132.5 569.3h1M148.5 569.3h1M150.5 569.3h1M155.5 569.3h1M157.5 569.3h1M164.5 569.3h1M167.5 569.3h1M173.5 569.3h1M96.5 570.3h1M109.5 570.3h1M111.5 570.3h1M122.5 570.3h1M124.5 570.3h1M129.5 570.3h1M134.5 570.3h1M156.5 570.3h1M160.5 570.3h1M170.5 570.3h1M115.5 571.3h1M119.5 571.3h4M141.5 571.3h1M157.5 571.3h1M159.5 571.3h2M165.5 571.3h1M167.5 571.3h1M170.5 571.3h1M99.5 572.3h1M102.5 572.3h1M115.5 572.3h1M117.5 572.3h3M124.5 572.3h1M126.5 572.3h1M140.5 572.3h1M143.5 572.3h1M152.5 572.3h1M154.5 572.3h1M157.5 572.3h1M159.5 572.3h1M161.5 572.3h1M168.5 572.3h1M170.5 572.3h2M104.5 573.3h1M119.5 573.3h1M121.5 573.3h1M125.5 573.3h3M151.5 573.3h1M164.5 573.3h1M166.5 573.3h1M118.5 574.3h1M128.5 574.3h2M154.5 574.3h1M165.5 574.3h1M172.5 574.3h1M116.5 575.3h1M125.5 575.3h1M137.5 575.3h1M159.5 575.3h1M162.5 575.3h2M118.5 576.3h1M135.5 576.3h1M140.5 576.3h1M154.5 576.3h1M156.5 576.3h1M160.5 576.3h1M163.5 576.3h1M165.5 576.3h1M101.5 577.3h1M119.5 577.3h1M127.5 577.3h1M148.5 577.3h1M156.5 577.3h1M160.5 577.3h1M166.5 577.3h1M170.5 577.3h1M92.5 578.3h1M116.5 578.3h1M121.5 578.3h1M124.5 578.3h1M133.5 578.3h1M137.5 578.3h1M152.5 578.3h1M160.5 578.3h1M168.5 578.3h1M170.5 578.3h1M107.5 579.3h1M115.5 579.3h1M119.5 579.3h1M123.5 579.3h1M130.5 579.3h1M137.5 579.3h1M161.5 579.3h1M164.5 579.3h1M103.5 580.3h2M120.5 580.3h1M124.5 580.3h1M136.5 580.3h1M160.5 580.3h1M163.5 580.3h1M118.5 581.3h1M122.5 581.3h2M159.5 581.3h1M164.5 581.3h1M170.5 581.3h1M173.5 581.3h1M117.5 582.3h1M155.5 582.3h1M163.5 582.3h1M106.5 583.3h1M118.5 583.3h1M120.5 583.3h1M122.5 583.3h1M154.5 583.3h1M161.5 583.3h1M165.5 583.3h1M167.5 583.3h1M125.5 584.3h2M167.5 584.3h1M121.5 585.3h1M125.5 585.3h1M168.5 585.3h1M170.5 585.3h1M109.5 586.3h1M125.5 586.3h1M118.5 587.3h1M123.5 587.3h1M129.5 587.3h1M155.5 587.3h1M122.5 588.3h1M158.5 588.3h1M160.5 588.3h1M121.5 589.3h1M155.5 589.3h1M113.5 590.3h1M124.5 590.3h1M146.5 590.3h1M155.5 590.3h1M170.5 590.3h1M96.5 591.3h1M117.5 591.3h1M122.5 591.3h1M136.5 591.3h1M140.5 591.3h1M148.5 591.3h1M126.5 592.3h1M137.5 592.3h1M159.5 592.3h1M161.5 592.3h1M93.5 593.3h1M105.5 593.3h1M123.5 593.3h1M160.5 593.3h1M164.5 593.3h2M171.5 593.3h1M94.5 594.3h1M118.5 594.3h1M124.5 594.3h1M134.5 594.3h1M155.5 594.3h1M163.5 594.3h2M169.5 594.3h1M121.5 595.3h1M136.5 595.3h1M150.5 595.3h1M157.5 595.3h1M101.5 596.3h1M121.5 596.3h3M138.5 596.3h1M151.5 596.3h1M165.5 596.3h1M128.5 597.3h1M152.5 597.3h1M162.5 597.3h1M110.5 598.3h1M113.5 598.3h1M144.5 598.3h1M156.5 598.3h1" stroke="#acacac" fill="none" shape-rendering="crispEdges"/>
<path d="M164.5 523.3h1M163.5 524.3h3M161.5 525.3h1M164.5 525.3h2M116.5 526.3h1M160.5 526.3h2M163.5 526.3h1M165.5 526.3h2M109.5 527.3h1M115.5 527.3h2M120.5 527.3h1M123.5 527.3h1M156.5 527.3h1M158.5 527.3h9M168.5 527.3h1M106.5 528.3h2M109.5 528.3h4M114.5 528.3h1M116.5 528.3h1M118.5 528.3h3M122.5 528.3h2M158.5 528.3h9M168.5 528.3h1M104.5 529.3h1M107.5 529.3h1M113.5 529.3h3M118.5 529.3h1M120.5 529.3h1M122.5 529.3h2M125.5 529.3h2M128.5 529.3h1M156.5 529.3h14M104.5 530.3h22M128.5 530.3h3M133.5 530.3h1M136.5 530.3h1M153.5 530.3h1M155.5 530.3h14M99.5 531.3h1M105.5 531.3h21M128.5 531.3h3M132.5 531.3h1M134.5 531.3h2M154.5 531.3h19M97.5 532.3h2M103.5 532.3h34M152.5 532.3h19M97.5 533.3h41M152.5 533.3h19M172.5 533.3h1M96.5 534.3h1M98.5 534.3h40M152.5 534.3h20M173.5 534.3h1M95.5 535.3h1M97.5 535.3h41M139.5 535.3h1M151.5 535.3h1M153.5 535.3h21M94.5 536.3h44M140.5 536.3h1M148.5 536.3h4M153.5 536.3h21M93.5 537.3h1M96.5 537.3h42M140.5 537.3h1M148.5 537.3h1M151.5 537.3h1M153.5 537.3h20M94.5 538.3h45M140.5 538.3h1M148.5 538.3h1M152.5 538.3h22M93.5 539.3h46M140.5 539.3h1M142.5 539.3h1M148.5 539.3h2M153.5 539.3h21M93.5 540.3h47M143.5 540.3h2M146.5 540.3h1M148.5 540.3h1M151.5 540.3h1M153.5 540.3h21M94.5 541.3h45M140.5 541.3h5M146.5 541.3h1M149.5 541.3h1M151.5 541.3h23M92.5 542.3h4M97.5 542.3h45M143.5 542.3h6M150.5 542.3h23M92.5 543.3h2M96.5 543.3h1M98.5 543.3h43M143.5 543.3h1M150.5 543.3h1M152.5 543.3h22M93.5 544.3h2M96.5 544.3h47M151.5 544.3h22M93.5 545.3h1M95.5 545.3h2M98.5 545.3h44M154.5 545.3h18M95.5 546.3h3M102.5 546.3h35M138.5 546.3h1M140.5 546.3h2M155.5 546.3h17M94.5 547.3h1M96.5 547.3h3M102.5 547.3h36M155.5 547.3h17M100.5 548.3h1M102.5 548.3h31M134.5 548.3h2M137.5 548.3h1M152.5 548.3h1M154.5 548.3h18M101.5 549.3h2M104.5 549.3h26M135.5 549.3h2M152.5 549.3h20M100.5 550.3h4M106.5 550.3h11M118.5 550.3h9M128.5 550.3h4M133.5 550.3h2M154.5 550.3h17M172.5 550.3h2M104.5 551.3h2M107.5 551.3h5M114.5 551.3h2M118.5 551.3h6M125.5 551.3h2M128.5 551.3h1M153.5 551.3h17M172.5 551.3h2M110.5 552.3h1M117.5 552.3h1M120.5 552.3h2M123.5 552.3h1M128.5 552.3h1M155.5 552.3h14M171.5 552.3h1M173.5 552.3h1M109.5 553.3h1M123.5 553.3h1M125.5 553.3h2M153.5 553.3h20M122.5 554.3h2M125.5 554.3h3M154.5 554.3h1M156.5 554.3h17M121.5 555.3h4M126.5 555.3h1M154.5 555.3h1M157.5 555.3h11M169.5 555.3h3M117.5 556.3h2M122.5 556.3h1M125.5 556.3h1M127.5 556.3h1M157.5 556.3h2M160.5 556.3h2M163.5 556.3h4M169.5 556.3h1M171.5 556.3h1M118.5 557.3h1M126.5 557.3h1M158.5 557.3h1M161.5 557.3h1M164.5 557.3h1M166.5 557.3h1M126.5 558.3h1M159.5 558.3h1M161.5 558.3h2M165.5 558.3h1M121.5 559.3h5M157.5 559.3h5M164.5 559.3h1M122.5 560.3h2M157.5 560.3h1M160.5 560.3h2M164.5 560.3h5M159.5 561.3h7M168.5 561.3h1M158.5 562.3h8M167.5 562.3h1M169.5 562.3h1M160.5 563.3h1M162.5 563.3h2M167.5 563.3h2M163.5 564.3h4M168.5 564.3h1M160.5 565.3h1M162.5 565.3h3M119.5 566.3h1M121.5 566.3h1M160.5 566.3h2M119.5 567.3h3M161.5 567.3h1M161.5 568.3h2M163.5 569.3h1" stroke="#888888" fill="none" shape-rendering="crispEdges"/>
<rect x="90.5" y="514.8" width="84.3" height="84.7" fill="none" stroke="#000" stroke-width="1.1"/>
<line x1="128.7" y1="514.8" x2="128.7" y2="599.5" stroke="#111" stroke-width="1"/>
<line x1="90.5" y1="559.6" x2="174.8" y2="559.6" stroke="#111" stroke-width="1"/>
<path d="M90.5 599.5L90.5 603.1M96.84 599.5L96.84 601.8M100.56 599.5L100.56 601.8M103.19 599.5L103.19 601.8M105.23 599.5L105.23 601.8M106.9 599.5L106.9 601.8M108.31 599.5L108.31 601.8M109.53 599.5L109.53 601.8M110.61 599.5L110.61 601.8M111.58 599.5L111.58 603.1M117.92 599.5L117.92 601.8M121.63 599.5L121.63 601.8M124.26 599.5L124.26 601.8M126.31 599.5L126.31 601.8M127.97 599.5L127.97 601.8M129.39 599.5L129.39 601.8M130.61 599.5L130.61 601.8M131.69 599.5L131.69 601.8M132.65 599.5L132.65 603.1M138.99 599.5L138.99 601.8M142.71 599.5L142.71 601.8M145.34 599.5L145.34 601.8M147.38 599.5L147.38 601.8M149.05 599.5L149.05 601.8M150.46 599.5L150.46 601.8M151.68 599.5L151.68 601.8M152.76 599.5L152.76 601.8M153.72 599.5L153.72 603.1M160.07 599.5L160.07 601.8M163.78 599.5L163.78 601.8M166.41 599.5L166.41 601.8M168.46 599.5L168.46 601.8M170.12 599.5L170.12 601.8M171.54 599.5L171.54 601.8M172.76 599.5L172.76 601.8M173.84 599.5L173.84 601.8M174.8 599.5L174.8 603.1M86.9 599.5L90.5 599.5M88.2 593.13L90.5 593.13M88.2 589.4L90.5 589.4M88.2 586.75L90.5 586.75M88.2 584.7L90.5 584.7M88.2 583.02L90.5 583.02M88.2 581.61L90.5 581.61M88.2 580.38L90.5 580.38M88.2 579.29L90.5 579.29M86.9 578.33L90.5 578.33M88.2 571.95L90.5 571.95M88.2 568.22L90.5 568.22M88.2 565.58L90.5 565.58M88.2 563.52L90.5 563.52M88.2 561.85L90.5 561.85M88.2 560.43L90.5 560.43M88.2 559.2L90.5 559.2M88.2 558.12L90.5 558.12M86.9 557.15L90.5 557.15M88.2 550.78L90.5 550.78M88.2 547.05L90.5 547.05M88.2 544.4L90.5 544.4M88.2 542.35L90.5 542.35M88.2 540.67L90.5 540.67M88.2 539.26L90.5 539.26M88.2 538.03L90.5 538.03M88.2 536.94L90.5 536.94M86.9 535.98L90.5 535.98M88.2 529.6L90.5 529.6M88.2 525.87L90.5 525.87M88.2 523.23L90.5 523.23M88.2 521.17L90.5 521.17M88.2 519.5L90.5 519.5M88.2 518.08L90.5 518.08M88.2 516.85L90.5 516.85M88.2 515.77L90.5 515.77M86.9 514.8L90.5 514.8" stroke="#000" stroke-width="0.85" fill="none"/>
<text transform="translate(88.2 608.3) scale(0.8 1)" font-size="6.9" stroke="#000" stroke-width="0.15">10<tspan dy="-2.4" dx="0.6" font-size="6.3">0</tspan></text>
<text transform="translate(86.3 605) rotate(-90) scale(0.72 1)" font-size="6.9" stroke="#000" stroke-width="0.15">10<tspan dy="-3.5" dx="0.8" font-size="6.1">0</tspan></text>
<text transform="translate(109.28 608.3) scale(0.8 1)" font-size="6.9" stroke="#000" stroke-width="0.15">10<tspan dy="-2.4" dx="0.6" font-size="6.3">1</tspan></text>
<text transform="translate(86.3 583.83) rotate(-90) scale(0.72 1)" font-size="6.9" stroke="#000" stroke-width="0.15">10<tspan dy="-3.5" dx="0.8" font-size="6.1">1</tspan></text>
<text transform="translate(130.35 608.3) scale(0.8 1)" font-size="6.9" stroke="#000" stroke-width="0.15">10<tspan dy="-2.4" dx="0.6" font-size="6.3">2</tspan></text>
<text transform="translate(86.3 562.65) rotate(-90) scale(0.72 1)" font-size="6.9" stroke="#000" stroke-width="0.15">10<tspan dy="-3.5" dx="0.8" font-size="6.1">2</tspan></text>
<text transform="translate(151.42 608.3) scale(0.8 1)" font-size="6.9" stroke="#000" stroke-width="0.15">10<tspan dy="-2.4" dx="0.6" font-size="6.3">3</tspan></text>
<text transform="translate(86.3 541.48) rotate(-90) scale(0.72 1)" font-size="6.9" stroke="#000" stroke-width="0.15">10<tspan dy="-3.5" dx="0.8" font-size="6.1">3</tspan></text>
<text transform="translate(172.5 608.3) scale(0.8 1)" font-size="6.9" stroke="#000" stroke-width="0.15">10<tspan dy="-2.4" dx="0.6" font-size="6.3">4</tspan></text>
<text transform="translate(86.3 520.3) rotate(-90) scale(0.72 1)" font-size="6.9" stroke="#000" stroke-width="0.15">10<tspan dy="-3.5" dx="0.8" font-size="6.1">4</tspan></text>
<text x="131.65" y="616.8" font-size="6.7" text-anchor="middle" fill="#111" stroke="#111" stroke-width="0.15">Annexin FITC</text>
<text x="75.9" y="559.15" font-size="6.7" text-anchor="middle" fill="#111" transform="rotate(-90 75.9 559.15)" stroke="#111" stroke-width="0.2">PKH26</text>
<line x1="100.5" y1="511.8" x2="152.5" y2="511.8" stroke="#a5a5a5" stroke-width="0.9" stroke-dasharray="1 1.6 2 1.2 1 2.2"/>
<path d="M95.7 537.8 L100 531.4 L112.8 527.1 L127.8 525.4 L141.1 530.3 L142.8 535.7 L137.5 549.6 L125.7 552.8 L105.3 549.6Z" fill="none" stroke="#111" stroke-width="0.85"/>
<text x="119" y="545.5" font-size="6.3" fill="#222">R5</text>
<path d="M150.3 536.8 L154.6 524.6 L172.4 524.6 L173.2 542.1 L169.6 552.8 L160 555 L153.5 548.5Z" fill="none" stroke="#111" stroke-width="0.85"/>
<text x="162" y="547.5" font-size="6.3" fill="#222">R6</text>
<path d="M91.5 637.4h1M95.5 637.4h2M129.5 637.4h1M142.5 637.4h1M158.5 637.4h2M92.5 639.4h1M115.5 639.4h1M129.5 639.4h1M131.5 639.4h1M91.5 640.4h1M95.5 640.4h1M100.5 640.4h1M124.5 640.4h1M144.5 640.4h1M161.5 640.4h1M171.5 640.4h1M91.5 641.4h1M105.5 641.4h1M121.5 641.4h1M123.5 641.4h1M128.5 641.4h1M135.5 641.4h1M156.5 641.4h1M162.5 641.4h1M166.5 641.4h1M129.5 642.4h1M154.5 642.4h1M156.5 642.4h1M132.5 643.4h2M158.5 643.4h1M161.5 643.4h1M165.5 643.4h1M96.5 644.4h1M108.5 644.4h1M122.5 644.4h1M151.5 644.4h2M157.5 644.4h1M160.5 644.4h1M167.5 644.4h1M93.5 645.4h1M104.5 645.4h1M108.5 645.4h1M110.5 645.4h1M117.5 645.4h1M124.5 645.4h2M129.5 645.4h1M155.5 645.4h2M158.5 645.4h1M165.5 645.4h1M173.5 645.4h1M105.5 646.4h1M118.5 646.4h1M121.5 646.4h1M123.5 646.4h1M138.5 646.4h1M148.5 646.4h2M154.5 646.4h1M156.5 646.4h1M159.5 646.4h2M173.5 646.4h1M94.5 647.4h1M119.5 647.4h2M125.5 647.4h1M142.5 647.4h1M144.5 647.4h1M163.5 647.4h1M97.5 648.4h1M102.5 648.4h1M104.5 648.4h1M109.5 648.4h1M117.5 648.4h1M121.5 648.4h2M126.5 648.4h3M136.5 648.4h1M150.5 648.4h2M155.5 648.4h1M166.5 648.4h1M169.5 648.4h1M109.5 649.4h1M118.5 649.4h1M120.5 649.4h1M123.5 649.4h1M133.5 649.4h1M142.5 649.4h1M150.5 649.4h2M154.5 649.4h1M167.5 649.4h1M101.5 650.4h1M104.5 650.4h1M112.5 650.4h2M118.5 650.4h1M144.5 650.4h1M168.5 650.4h1M96.5 651.4h1M102.5 651.4h2M109.5 651.4h1M111.5 651.4h1M117.5 651.4h1M136.5 651.4h1M146.5 651.4h1M170.5 651.4h1M92.5 652.4h1M98.5 652.4h1M100.5 652.4h1M102.5 652.4h1M115.5 652.4h1M117.5 652.4h1M125.5 652.4h2M128.5 652.4h1M123.5 653.4h1M129.5 653.4h1M143.5 653.4h2M126.5 654.4h1M133.5 654.4h1M137.5 654.4h1M146.5 654.4h1M126.5 655.4h1M129.5 655.4h3M145.5 655.4h1M172.5 655.4h2M92.5 656.4h1M127.5 656.4h2M131.5 656.4h2M136.5 656.4h1M139.5 656.4h1M172.5 656.4h1M128.5 657.4h1M133.5 657.4h2M138.5 657.4h1M140.5 657.4h2M136.5 658.4h1M146.5 658.4h1M129.5 659.4h1M134.5 659.4h2M138.5 659.4h1M146.5 659.4h1M133.5 660.4h1M138.5 660.4h2M145.5 660.4h1M140.5 661.4h1M145.5 661.4h1M137.5 662.4h1M139.5 662.4h1M143.5 662.4h1M173.5 662.4h1M144.5 663.4h1M145.5 664.4h1M138.5 666.4h1M143.5 666.4h1M137.5 667.4h1M142.5 667.4h1M144.5 667.4h1M133.5 668.4h1M142.5 668.4h1M144.5 668.4h1M133.5 669.4h3M138.5 669.4h1M146.5 669.4h2M171.5 669.4h1M133.5 670.4h2M137.5 670.4h1M131.5 671.4h1M137.5 671.4h1M144.5 671.4h1M131.5 672.4h1M135.5 672.4h2M142.5 672.4h1M130.5 673.4h1M134.5 673.4h1M171.5 673.4h1M91.5 674.4h1M134.5 674.4h1M137.5 674.4h1M140.5 674.4h1M142.5 674.4h1M145.5 674.4h1M173.5 674.4h1M139.5 675.4h1M172.5 675.4h1M91.5 676.4h1M130.5 676.4h1M132.5 676.4h1M136.5 676.4h2M140.5 676.4h1M143.5 676.4h1M173.5 676.4h1M91.5 677.4h1M133.5 677.4h1M142.5 677.4h1M144.5 677.4h1M101.5 678.4h1M128.5 678.4h1M131.5 678.4h1M137.5 678.4h1M144.5 678.4h1M147.5 678.4h1M173.5 678.4h1M91.5 679.4h1M99.5 679.4h1M103.5 679.4h1M129.5 679.4h1M134.5 679.4h1M139.5 679.4h1M172.5 679.4h1M96.5 680.4h1M100.5 680.4h1M107.5 680.4h1M126.5 680.4h2M136.5 680.4h1M141.5 680.4h1M173.5 680.4h1M98.5 681.4h1M100.5 681.4h1M109.5 681.4h2M125.5 681.4h2M140.5 681.4h1M150.5 681.4h1M102.5 682.4h1M127.5 682.4h2M130.5 682.4h1M133.5 682.4h1M143.5 682.4h2M147.5 682.4h2M97.5 683.4h1M99.5 683.4h1M101.5 683.4h1M112.5 683.4h1M139.5 683.4h1M173.5 683.4h1M100.5 684.4h2M113.5 684.4h1M169.5 684.4h1M171.5 684.4h1M117.5 685.4h1M122.5 685.4h1M128.5 685.4h1M132.5 685.4h1M143.5 685.4h1M148.5 685.4h1M168.5 685.4h1M98.5 686.4h1M109.5 686.4h1M113.5 686.4h1M115.5 686.4h1M127.5 686.4h1M132.5 686.4h1M149.5 686.4h1M170.5 686.4h2M111.5 687.4h1M118.5 687.4h1M150.5 687.4h2M167.5 687.4h1M102.5 688.4h2M106.5 688.4h1M111.5 688.4h1M117.5 688.4h1M124.5 688.4h2M132.5 688.4h1M150.5 688.4h1M92.5 689.4h1M96.5 689.4h1M113.5 689.4h1M118.5 689.4h1M130.5 689.4h1M133.5 689.4h1M143.5 689.4h1M145.5 689.4h1M152.5 689.4h1M169.5 689.4h1M172.5 689.4h1M102.5 690.4h1M112.5 690.4h2M116.5 690.4h1M118.5 690.4h1M120.5 690.4h1M122.5 690.4h1M126.5 690.4h2M130.5 690.4h1M143.5 690.4h1M166.5 690.4h1M168.5 690.4h2M171.5 690.4h1M120.5 691.4h1M140.5 691.4h1M145.5 691.4h1M151.5 691.4h1M98.5 692.4h1M110.5 692.4h1M118.5 692.4h1M121.5 692.4h1M130.5 692.4h1M145.5 692.4h1M148.5 692.4h1M153.5 692.4h1M169.5 692.4h1M108.5 693.4h1M112.5 693.4h1M115.5 693.4h3M125.5 693.4h1M148.5 693.4h2M166.5 693.4h1M117.5 694.4h1M124.5 694.4h1M159.5 694.4h2M162.5 694.4h1M167.5 694.4h1M170.5 694.4h1M120.5 695.4h1M148.5 695.4h1M150.5 695.4h2M154.5 695.4h1M156.5 695.4h1M164.5 695.4h1M166.5 695.4h2M172.5 695.4h1M114.5 696.4h1M117.5 696.4h1M124.5 696.4h1M146.5 696.4h1M152.5 696.4h1M154.5 696.4h1M157.5 696.4h1M163.5 696.4h1M167.5 696.4h1M169.5 696.4h1M118.5 697.4h1M121.5 697.4h2M124.5 697.4h1M151.5 697.4h1M154.5 697.4h1M157.5 697.4h2M94.5 698.4h1M110.5 698.4h1M113.5 698.4h2M117.5 698.4h1M119.5 698.4h1M123.5 698.4h1M130.5 698.4h1M133.5 698.4h1M138.5 698.4h1M151.5 698.4h1M155.5 698.4h1M158.5 698.4h1M165.5 698.4h1M167.5 698.4h1M169.5 698.4h1M95.5 699.4h1M99.5 699.4h1M116.5 699.4h1M135.5 699.4h1M171.5 699.4h1M102.5 700.4h1M107.5 700.4h1M111.5 700.4h1M115.5 700.4h1M121.5 700.4h1M125.5 700.4h1M147.5 700.4h1M153.5 700.4h6M160.5 700.4h2M166.5 700.4h1M168.5 700.4h2M109.5 701.4h1M113.5 701.4h1M116.5 701.4h1M119.5 701.4h1M123.5 701.4h1M127.5 701.4h1M133.5 701.4h1M148.5 701.4h1M150.5 701.4h2M154.5 701.4h1M157.5 701.4h2M167.5 701.4h1M118.5 702.4h1M121.5 702.4h1M153.5 702.4h1M157.5 702.4h1M162.5 702.4h1M171.5 702.4h1M101.5 703.4h1M107.5 703.4h1M123.5 703.4h2M152.5 703.4h2M155.5 703.4h1M159.5 703.4h1M165.5 703.4h1M167.5 703.4h1M169.5 703.4h1M111.5 704.4h1M114.5 704.4h1M128.5 704.4h1M144.5 704.4h1M156.5 704.4h1M166.5 704.4h1M107.5 705.4h1M121.5 705.4h1M143.5 705.4h1M161.5 705.4h1M129.5 706.4h1M151.5 706.4h1M155.5 706.4h2M160.5 706.4h1M107.5 707.4h1M114.5 707.4h1M118.5 707.4h1M120.5 707.4h1M133.5 707.4h1M150.5 707.4h1M152.5 707.4h2M156.5 707.4h1M159.5 707.4h1M161.5 707.4h1M163.5 707.4h1M171.5 707.4h1M112.5 708.4h1M119.5 708.4h1M155.5 708.4h1M157.5 708.4h1M165.5 708.4h1M167.5 708.4h1M170.5 708.4h2M115.5 709.4h2M121.5 709.4h1M135.5 709.4h1M146.5 709.4h1M154.5 709.4h1M156.5 709.4h1M162.5 709.4h1M113.5 710.4h1M125.5 710.4h1M144.5 710.4h1M156.5 710.4h2M160.5 710.4h3M115.5 711.4h1M119.5 711.4h1M128.5 711.4h1M135.5 711.4h1M154.5 711.4h1M157.5 711.4h1M163.5 711.4h1M167.5 711.4h1M112.5 712.4h1M119.5 712.4h1M146.5 712.4h1M154.5 712.4h1M157.5 712.4h1M161.5 712.4h3M170.5 712.4h1M116.5 713.4h1M159.5 713.4h1M113.5 714.4h1M153.5 714.4h1M159.5 714.4h1M161.5 714.4h1M165.5 714.4h1M137.5 715.4h1M156.5 715.4h1M164.5 715.4h1M169.5 715.4h1M106.5 716.4h1M114.5 716.4h1M152.5 716.4h3M159.5 716.4h1M161.5 716.4h4M168.5 716.4h2M96.5 717.4h1M121.5 717.4h2M145.5 717.4h1M153.5 717.4h1M159.5 717.4h1M161.5 717.4h1M164.5 717.4h2M118.5 718.4h2M122.5 718.4h1M147.5 718.4h1M160.5 718.4h1M93.5 719.4h1M96.5 719.4h1M105.5 719.4h1M115.5 719.4h1M119.5 719.4h1M153.5 719.4h1" stroke="#acacac" fill="none" shape-rendering="crispEdges"/>
<path d="M158.5 647.4h2M157.5 648.4h1M159.5 648.4h1M161.5 648.4h2M159.5 649.4h1M162.5 649.4h2M165.5 649.4h1M153.5 650.4h1M156.5 650.4h8M165.5 650.4h3M113.5 651.4h1M120.5 651.4h2M149.5 651.4h2M152.5 651.4h17M105.5 652.4h5M112.5 652.4h1M119.5 652.4h1M121.5 652.4h1M148.5 652.4h3M152.5 652.4h15M168.5 652.4h1M170.5 652.4h1M95.5 653.4h2M98.5 653.4h2M103.5 653.4h12M116.5 653.4h1M119.5 653.4h1M122.5 653.4h1M148.5 653.4h2M152.5 653.4h15M168.5 653.4h3M93.5 654.4h5M99.5 654.4h2M102.5 654.4h14M117.5 654.4h2M121.5 654.4h1M149.5 654.4h18M170.5 654.4h1M94.5 655.4h5M100.5 655.4h24M147.5 655.4h1M149.5 655.4h17M169.5 655.4h3M93.5 656.4h29M124.5 656.4h2M148.5 656.4h18M167.5 656.4h2M171.5 656.4h1M93.5 657.4h30M124.5 657.4h1M126.5 657.4h1M148.5 657.4h1M150.5 657.4h17M170.5 657.4h2M92.5 658.4h1M94.5 658.4h33M150.5 658.4h19M170.5 658.4h2M91.5 659.4h36M128.5 659.4h1M150.5 659.4h21M92.5 660.4h37M147.5 660.4h1M149.5 660.4h22M91.5 661.4h43M147.5 661.4h25M91.5 662.4h38M131.5 662.4h2M135.5 662.4h1M148.5 662.4h22M91.5 663.4h37M129.5 663.4h1M131.5 663.4h2M135.5 663.4h2M147.5 663.4h23M172.5 663.4h1M91.5 664.4h38M132.5 664.4h6M147.5 664.4h23M171.5 664.4h2M92.5 665.4h37M130.5 665.4h1M132.5 665.4h6M146.5 665.4h1M148.5 665.4h25M91.5 666.4h40M132.5 666.4h3M148.5 666.4h22M171.5 666.4h1M91.5 667.4h39M131.5 667.4h1M133.5 667.4h1M147.5 667.4h24M91.5 668.4h40M148.5 668.4h1M150.5 668.4h19M91.5 669.4h39M148.5 669.4h1M150.5 669.4h18M92.5 670.4h37M150.5 670.4h19M93.5 671.4h36M150.5 671.4h17M168.5 671.4h1M92.5 672.4h34M127.5 672.4h1M147.5 672.4h22M92.5 673.4h34M128.5 673.4h1M132.5 673.4h1M146.5 673.4h2M149.5 673.4h21M92.5 674.4h1M94.5 674.4h31M127.5 674.4h2M130.5 674.4h1M132.5 674.4h2M147.5 674.4h1M150.5 674.4h19M92.5 675.4h1M94.5 675.4h32M127.5 675.4h1M129.5 675.4h1M131.5 675.4h1M146.5 675.4h1M149.5 675.4h22M92.5 676.4h3M96.5 676.4h5M102.5 676.4h20M127.5 676.4h2M147.5 676.4h1M149.5 676.4h22M96.5 677.4h2M100.5 677.4h1M102.5 677.4h2M105.5 677.4h16M125.5 677.4h1M147.5 677.4h22M170.5 677.4h3M105.5 678.4h2M111.5 678.4h15M150.5 678.4h18M171.5 678.4h1M105.5 679.4h1M107.5 679.4h3M112.5 679.4h12M150.5 679.4h21M108.5 680.4h3M113.5 680.4h5M120.5 680.4h4M153.5 680.4h17M113.5 681.4h1M115.5 681.4h3M119.5 681.4h1M121.5 681.4h1M123.5 681.4h1M151.5 681.4h1M153.5 681.4h15M169.5 681.4h1M115.5 682.4h7M152.5 682.4h14M169.5 682.4h1M116.5 683.4h1M119.5 683.4h3M123.5 683.4h2M126.5 683.4h1M150.5 683.4h4M155.5 683.4h10M169.5 683.4h1M116.5 684.4h4M123.5 684.4h1M125.5 684.4h1M150.5 684.4h4M156.5 684.4h4M161.5 684.4h8M120.5 685.4h2M125.5 685.4h1M153.5 685.4h2M156.5 685.4h3M161.5 685.4h6M120.5 686.4h1M155.5 686.4h3M160.5 686.4h3M164.5 686.4h2M119.5 687.4h2M153.5 687.4h5M159.5 687.4h2M163.5 687.4h3M118.5 688.4h1M120.5 688.4h3M153.5 688.4h3M157.5 688.4h1M160.5 688.4h2M163.5 688.4h1M165.5 688.4h2M119.5 689.4h1M121.5 689.4h2M155.5 689.4h1M158.5 689.4h1M160.5 689.4h1M162.5 689.4h1M155.5 690.4h2M158.5 690.4h3M154.5 691.4h2M157.5 691.4h2M160.5 691.4h1M162.5 691.4h1M155.5 692.4h1M157.5 692.4h1M159.5 692.4h1M163.5 692.4h2M154.5 693.4h2M157.5 693.4h1M159.5 693.4h1M163.5 693.4h3M157.5 694.4h2M163.5 694.4h1M165.5 694.4h2M160.5 697.4h1M162.5 697.4h2M160.5 698.4h4M160.5 699.4h1M163.5 699.4h2M163.5 700.4h2M157.5 704.4h2M157.5 705.4h1M157.5 706.4h1M159.5 706.4h1M158.5 707.4h1" stroke="#888888" fill="none" shape-rendering="crispEdges"/>
<rect x="90.5" y="635.9" width="84.3" height="84.7" fill="none" stroke="#000" stroke-width="1.1"/>
<line x1="128.7" y1="635.9" x2="128.7" y2="720.6" stroke="#111" stroke-width="1"/>
<line x1="90.5" y1="680.5" x2="174.8" y2="680.5" stroke="#111" stroke-width="1"/>
<path d="M90.5 720.6L90.5 724.2M96.84 720.6L96.84 722.9M100.56 720.6L100.56 722.9M103.19 720.6L103.19 722.9M105.23 720.6L105.23 722.9M106.9 720.6L106.9 722.9M108.31 720.6L108.31 722.9M109.53 720.6L109.53 722.9M110.61 720.6L110.61 722.9M111.58 720.6L111.58 724.2M117.92 720.6L117.92 722.9M121.63 720.6L121.63 722.9M124.26 720.6L124.26 722.9M126.31 720.6L126.31 722.9M127.97 720.6L127.97 722.9M129.39 720.6L129.39 722.9M130.61 720.6L130.61 722.9M131.69 720.6L131.69 722.9M132.65 720.6L132.65 724.2M138.99 720.6L138.99 722.9M142.71 720.6L142.71 722.9M145.34 720.6L145.34 722.9M147.38 720.6L147.38 722.9M149.05 720.6L149.05 722.9M150.46 720.6L150.46 722.9M151.68 720.6L151.68 722.9M152.76 720.6L152.76 722.9M153.72 720.6L153.72 724.2M160.07 720.6L160.07 722.9M163.78 720.6L163.78 722.9M166.41 720.6L166.41 722.9M168.46 720.6L168.46 722.9M170.12 720.6L170.12 722.9M171.54 720.6L171.54 722.9M172.76 720.6L172.76 722.9M173.84 720.6L173.84 722.9M174.8 720.6L174.8 724.2M86.9 720.6L90.5 720.6M88.2 714.23L90.5 714.23M88.2 710.5L90.5 710.5M88.2 707.85L90.5 707.85M88.2 705.8L90.5 705.8M88.2 704.12L90.5 704.12M88.2 702.71L90.5 702.71M88.2 701.48L90.5 701.48M88.2 700.39L90.5 700.39M86.9 699.43L90.5 699.43M88.2 693.05L90.5 693.05M88.2 689.32L90.5 689.32M88.2 686.68L90.5 686.68M88.2 684.62L90.5 684.62M88.2 682.95L90.5 682.95M88.2 681.53L90.5 681.53M88.2 680.3L90.5 680.3M88.2 679.22L90.5 679.22M86.9 678.25L90.5 678.25M88.2 671.88L90.5 671.88M88.2 668.15L90.5 668.15M88.2 665.5L90.5 665.5M88.2 663.45L90.5 663.45M88.2 661.77L90.5 661.77M88.2 660.36L90.5 660.36M88.2 659.13L90.5 659.13M88.2 658.04L90.5 658.04M86.9 657.08L90.5 657.08M88.2 650.7L90.5 650.7M88.2 646.97L90.5 646.97M88.2 644.33L90.5 644.33M88.2 642.27L90.5 642.27M88.2 640.6L90.5 640.6M88.2 639.18L90.5 639.18M88.2 637.95L90.5 637.95M88.2 636.87L90.5 636.87M86.9 635.9L90.5 635.9" stroke="#000" stroke-width="0.85" fill="none"/>
<text transform="translate(88.2 729.4) scale(0.8 1)" font-size="6.9" stroke="#000" stroke-width="0.15">10<tspan dy="-2.4" dx="0.6" font-size="6.3">0</tspan></text>
<text transform="translate(86.3 726.1) rotate(-90) scale(0.72 1)" font-size="6.9" stroke="#000" stroke-width="0.15">10<tspan dy="-3.5" dx="0.8" font-size="6.1">0</tspan></text>
<text transform="translate(109.28 729.4) scale(0.8 1)" font-size="6.9" stroke="#000" stroke-width="0.15">10<tspan dy="-2.4" dx="0.6" font-size="6.3">1</tspan></text>
<text transform="translate(86.3 704.93) rotate(-90) scale(0.72 1)" font-size="6.9" stroke="#000" stroke-width="0.15">10<tspan dy="-3.5" dx="0.8" font-size="6.1">1</tspan></text>
<text transform="translate(130.35 729.4) scale(0.8 1)" font-size="6.9" stroke="#000" stroke-width="0.15">10<tspan dy="-2.4" dx="0.6" font-size="6.3">2</tspan></text>
<text transform="translate(86.3 683.75) rotate(-90) scale(0.72 1)" font-size="6.9" stroke="#000" stroke-width="0.15">10<tspan dy="-3.5" dx="0.8" font-size="6.1">2</tspan></text>
<text transform="translate(151.42 729.4) scale(0.8 1)" font-size="6.9" stroke="#000" stroke-width="0.15">10<tspan dy="-2.4" dx="0.6" font-size="6.3">3</tspan></text>
<text transform="translate(86.3 662.58) rotate(-90) scale(0.72 1)" font-size="6.9" stroke="#000" stroke-width="0.15">10<tspan dy="-3.5" dx="0.8" font-size="6.1">3</tspan></text>
<text transform="translate(172.5 729.4) scale(0.8 1)" font-size="6.9" stroke="#000" stroke-width="0.15">10<tspan dy="-2.4" dx="0.6" font-size="6.3">4</tspan></text>
<text transform="translate(86.3 641.4) rotate(-90) scale(0.72 1)" font-size="6.9" stroke="#000" stroke-width="0.15">10<tspan dy="-3.5" dx="0.8" font-size="6.1">4</tspan></text>
<text x="131.65" y="737.9" font-size="6.7" text-anchor="middle" fill="#111" stroke="#111" stroke-width="0.15">AnnexinFITC</text>
<text x="75.9" y="680.25" font-size="6.7" text-anchor="middle" fill="#111" transform="rotate(-90 75.9 680.25)" stroke="#111" stroke-width="0.2">PKH26</text>
<line x1="100.5" y1="632.9" x2="152.5" y2="632.9" stroke="#a5a5a5" stroke-width="0.9" stroke-dasharray="1 1.6 2 1.2 1 2.2"/>
<path d="M93.1 657.8 L101 650.3 L115 646.7 L128.9 650.3 L136.4 660 L128.9 676 L112.8 678.8 L96.8 670.7Z" fill="none" stroke="#111" stroke-width="0.85"/>
<text x="115" y="671.5" font-size="6.3" fill="#222">R7</text>
<path d="M146 652.5 L160 646 L167.4 648.2 L173.2 652.5 L167.4 680.3 L157.8 681.4 L147.1 669.6Z" fill="none" stroke="#111" stroke-width="0.85"/>
<text x="160" y="671.5" font-size="6.3" fill="#222">R8</text>
<path d="M295.5 275h1M298.5 275h1M289.5 276h1M291.5 276h1M300.5 276h1M275.5 277h1M288.5 277h2M292.5 277h1M295.5 277h1M298.5 277h1M269.5 278h1M273.5 278h2M280.5 278h2M285.5 278h2M288.5 278h1M295.5 278h2M268.5 279h1M279.5 279h1M283.5 279h1M287.5 279h2M299.5 279h1M305.5 279h1M271.5 280h1M273.5 280h1M284.5 280h2M281.5 281h1M285.5 281h1M295.5 281h2M300.5 281h1M279.5 282h1M288.5 282h1M291.5 282h1M293.5 282h1M295.5 282h1M274.5 283h1M277.5 283h1M301.5 283h1M291.5 284h1M293.5 284h1M295.5 284h1M300.5 284h1M292.5 285h1M298.5 285h1M283.5 286h1M270.5 287h1M280.5 287h1M286.5 288h1M298.5 288h1M282.5 289h2M295.5 289h1M275.5 290h1M300.5 290h1M287.5 291h1M292.5 291h1M274.5 292h1M276.5 292h2M295.5 292h1M298.5 292h1M301.5 292h1M287.5 293h1M297.5 293h1M299.5 293h1M268.5 296h1M290.5 296h2M278.5 297h1M288.5 301h1M291.5 302h1M292.5 303h1M284.5 304h1M293.5 305h1M299.5 305h1M279.5 306h1M279.5 307h2M282.5 307h1M286.5 307h2M298.5 307h1M272.5 308h1M274.5 309h1M281.5 309h1M294.5 309h1M300.5 309h1M279.5 310h1M280.5 311h1M282.5 311h1M286.5 311h1M300.5 311h1M268.5 312h1M288.5 312h1M278.5 314h1M287.5 314h1M292.5 314h1M299.5 314h1M283.5 315h1M272.5 316h1M283.5 316h1M285.5 316h1M267.5 317h1M273.5 317h1M289.5 317h1M268.5 318h1M271.5 318h1M279.5 318h1M292.5 318h1M281.5 319h1M283.5 319h1M286.5 319h1M288.5 319h3M292.5 319h1M272.5 320h1M274.5 320h2M281.5 320h1M286.5 320h2M292.5 320h1M271.5 321h2M274.5 321h1M276.5 321h1M280.5 321h1M287.5 321h2M292.5 321h1M296.5 321h1M267.5 322h1M269.5 322h1M274.5 322h1M277.5 322h1M289.5 322h1M293.5 322h1M295.5 322h1M263.5 323h1M272.5 323h1M281.5 323h1M291.5 323h1M296.5 323h1M269.5 324h2M292.5 324h1M297.5 324h1M264.5 325h1M266.5 325h2M295.5 325h4M259.5 326h1M261.5 326h1M258.5 327h1M266.5 327h1M295.5 327h1M260.5 328h1M264.5 328h1M299.5 328h1M250.5 329h1M256.5 329h1M263.5 329h1M295.5 329h1M260.5 330h2M301.5 330h1M259.5 331h1M251.5 332h1M255.5 332h1M257.5 332h1M259.5 332h1M298.5 332h1M255.5 333h1M297.5 333h1M253.5 334h1M257.5 334h1M300.5 334h1M256.5 336h1M308.5 336h1M251.5 337h2M299.5 337h1M255.5 338h1M300.5 338h1M302.5 338h1M309.5 338h1M254.5 339h3M299.5 339h1M303.5 339h1M309.5 340h1M250.5 341h1M304.5 341h1M254.5 342h3M300.5 342h2M251.5 343h1M300.5 343h1M250.5 344h1M253.5 344h1M255.5 344h1M300.5 344h1M249.5 345h1M253.5 345h1M253.5 346h1M301.5 346h1M303.5 346h1M253.5 347h1M255.5 347h2M299.5 347h1M255.5 348h1M255.5 349h1M258.5 349h1M299.5 349h2M258.5 350h2M251.5 351h1M303.5 351h2M255.5 352h1M298.5 352h1M302.5 352h1M255.5 353h1M257.5 353h1M254.5 355h1M296.5 355h1M300.5 355h1M261.5 356h1M298.5 356h2M257.5 357h1M260.5 357h1M293.5 357h2M298.5 357h1" stroke="#acacac" fill="none" shape-rendering="crispEdges"/>
<path d="M290.5 277h2M290.5 278h1M290.5 279h3M294.5 279h1M290.5 280h1M292.5 280h1M294.5 280h2M291.5 281h1M293.5 281h1M282.5 320h2M275.5 321h1M282.5 321h3M275.5 322h1M284.5 322h2M275.5 323h1M277.5 323h1M282.5 323h1M284.5 323h1M286.5 323h1M289.5 323h1M272.5 324h1M276.5 324h1M279.5 324h2M282.5 324h1M284.5 324h7M270.5 325h3M275.5 325h7M285.5 325h1M287.5 325h1M289.5 325h2M269.5 326h6M276.5 326h13M291.5 326h1M293.5 326h1M267.5 327h1M269.5 327h1M271.5 327h3M275.5 327h4M280.5 327h6M287.5 327h5M293.5 327h2M266.5 328h4M272.5 328h4M277.5 328h1M279.5 328h6M286.5 328h4M291.5 328h3M264.5 329h2M267.5 329h3M271.5 329h1M273.5 329h3M277.5 329h5M283.5 329h8M292.5 329h3M263.5 330h2M268.5 330h1M270.5 330h3M274.5 330h4M279.5 330h5M285.5 330h9M261.5 331h1M266.5 331h2M270.5 331h2M274.5 331h12M287.5 331h5M293.5 331h3M260.5 332h1M262.5 332h1M265.5 332h1M267.5 332h1M269.5 332h20M290.5 332h3M294.5 332h1M296.5 332h1M261.5 333h3M267.5 333h1M269.5 333h1M272.5 333h16M289.5 333h4M294.5 333h2M258.5 334h1M260.5 334h1M262.5 334h1M265.5 334h27M293.5 334h2M296.5 334h1M257.5 335h6M264.5 335h1M266.5 335h30M257.5 336h1M259.5 336h3M265.5 336h25M291.5 336h4M296.5 336h3M258.5 337h2M261.5 337h1M263.5 337h3M267.5 337h1M269.5 337h26M297.5 337h2M259.5 338h1M261.5 338h34M296.5 338h1M258.5 339h1M261.5 339h6M268.5 339h25M294.5 339h4M257.5 340h1M259.5 340h1M261.5 340h1M263.5 340h32M296.5 340h3M258.5 341h8M267.5 341h30M298.5 341h2M257.5 342h4M262.5 342h1M264.5 342h32M298.5 342h1M257.5 343h1M259.5 343h38M298.5 343h1M258.5 344h1M260.5 344h37M299.5 344h1M259.5 345h38M298.5 345h2M258.5 346h41M258.5 347h1M260.5 347h6M267.5 347h28M256.5 348h1M258.5 348h1M260.5 348h4M265.5 348h3M269.5 348h31M260.5 349h2M263.5 349h2M266.5 349h32M261.5 350h3M265.5 350h26M292.5 350h4M297.5 350h1M261.5 351h2M264.5 351h4M269.5 351h25M295.5 351h3M260.5 352h1M262.5 352h2M265.5 352h33M260.5 353h2M263.5 353h3M267.5 353h27M295.5 353h3M261.5 354h3M265.5 354h2M268.5 354h1M270.5 354h20M293.5 354h2M296.5 354h1M260.5 355h3M265.5 355h27M293.5 355h2M264.5 356h7M272.5 356h16M289.5 356h6M265.5 357h1M267.5 357h1M269.5 357h1M272.5 357h2M275.5 357h4M280.5 357h9M290.5 357h2" stroke="#888888" fill="none" shape-rendering="crispEdges"/>
<rect x="230.5" y="273.5" width="84" height="84.7" fill="none" stroke="#000" stroke-width="1.1"/>
<line x1="266.9" y1="273.5" x2="266.9" y2="358.2" stroke="#111" stroke-width="1"/>
<line x1="230.5" y1="320.4" x2="314.5" y2="320.4" stroke="#111" stroke-width="1"/>
<path d="M230.5 358.2L230.5 361.8M236.82 358.2L236.82 360.5M240.52 358.2L240.52 360.5M243.14 358.2L243.14 360.5M245.18 358.2L245.18 360.5M246.84 358.2L246.84 360.5M248.25 358.2L248.25 360.5M249.46 358.2L249.46 360.5M250.54 358.2L250.54 360.5M251.5 358.2L251.5 361.8M257.82 358.2L257.82 360.5M261.52 358.2L261.52 360.5M264.14 358.2L264.14 360.5M266.18 358.2L266.18 360.5M267.84 358.2L267.84 360.5M269.25 358.2L269.25 360.5M270.46 358.2L270.46 360.5M271.54 358.2L271.54 360.5M272.5 358.2L272.5 361.8M278.82 358.2L278.82 360.5M282.52 358.2L282.52 360.5M285.14 358.2L285.14 360.5M287.18 358.2L287.18 360.5M288.84 358.2L288.84 360.5M290.25 358.2L290.25 360.5M291.46 358.2L291.46 360.5M292.54 358.2L292.54 360.5M293.5 358.2L293.5 361.8M299.82 358.2L299.82 360.5M303.52 358.2L303.52 360.5M306.14 358.2L306.14 360.5M308.18 358.2L308.18 360.5M309.84 358.2L309.84 360.5M311.25 358.2L311.25 360.5M312.46 358.2L312.46 360.5M313.54 358.2L313.54 360.5M314.5 358.2L314.5 361.8M226.9 358.2L230.5 358.2M228.2 351.83L230.5 351.83M228.2 348.1L230.5 348.1M228.2 345.45L230.5 345.45M228.2 343.4L230.5 343.4M228.2 341.72L230.5 341.72M228.2 340.31L230.5 340.31M228.2 339.08L230.5 339.08M228.2 337.99L230.5 337.99M226.9 337.02L230.5 337.02M228.2 330.65L230.5 330.65M228.2 326.92L230.5 326.92M228.2 324.28L230.5 324.28M228.2 322.22L230.5 322.22M228.2 320.55L230.5 320.55M228.2 319.13L230.5 319.13M228.2 317.9L230.5 317.9M228.2 316.82L230.5 316.82M226.9 315.85L230.5 315.85M228.2 309.48L230.5 309.48M228.2 305.75L230.5 305.75M228.2 303.1L230.5 303.1M228.2 301.05L230.5 301.05M228.2 299.37L230.5 299.37M228.2 297.96L230.5 297.96M228.2 296.73L230.5 296.73M228.2 295.64L230.5 295.64M226.9 294.67L230.5 294.67M228.2 288.3L230.5 288.3M228.2 284.57L230.5 284.57M228.2 281.93L230.5 281.93M228.2 279.87L230.5 279.87M228.2 278.2L230.5 278.2M228.2 276.78L230.5 276.78M228.2 275.55L230.5 275.55M228.2 274.47L230.5 274.47M226.9 273.5L230.5 273.5" stroke="#000" stroke-width="0.85" fill="none"/>
<text transform="translate(226.3 368.6) scale(0.8 1)" font-size="6.9" stroke="#000" stroke-width="0.15">10<tspan dy="-2.4" dx="0.6" font-size="6.3">0</tspan></text>
<text transform="translate(224.9 362.4) rotate(-90) scale(0.72 1)" font-size="6.9" stroke="#000" stroke-width="0.15">10<tspan dy="-3.5" dx="0.8" font-size="6.1">0</tspan></text>
<text transform="translate(247.3 368.6) scale(0.8 1)" font-size="6.9" stroke="#000" stroke-width="0.15">10<tspan dy="-2.4" dx="0.6" font-size="6.3">1</tspan></text>
<text transform="translate(224.9 341.22) rotate(-90) scale(0.72 1)" font-size="6.9" stroke="#000" stroke-width="0.15">10<tspan dy="-3.5" dx="0.8" font-size="6.1">1</tspan></text>
<text transform="translate(268.3 368.6) scale(0.8 1)" font-size="6.9" stroke="#000" stroke-width="0.15">10<tspan dy="-2.4" dx="0.6" font-size="6.3">2</tspan></text>
<text transform="translate(224.9 320.05) rotate(-90) scale(0.72 1)" font-size="6.9" stroke="#000" stroke-width="0.15">10<tspan dy="-3.5" dx="0.8" font-size="6.1">2</tspan></text>
<text transform="translate(289.3 368.6) scale(0.8 1)" font-size="6.9" stroke="#000" stroke-width="0.15">10<tspan dy="-2.4" dx="0.6" font-size="6.3">3</tspan></text>
<text transform="translate(224.9 298.87) rotate(-90) scale(0.72 1)" font-size="6.9" stroke="#000" stroke-width="0.15">10<tspan dy="-3.5" dx="0.8" font-size="6.1">3</tspan></text>
<text transform="translate(310.3 368.6) scale(0.8 1)" font-size="6.9" stroke="#000" stroke-width="0.15">10<tspan dy="-2.4" dx="0.6" font-size="6.3">4</tspan></text>
<text transform="translate(224.9 277.7) rotate(-90) scale(0.72 1)" font-size="6.9" stroke="#000" stroke-width="0.15">10</text>
<text x="271.5" y="375.5" font-size="6.7" text-anchor="middle" fill="#111" stroke="#111" stroke-width="0.15">AnnexinV FITC</text>
<text x="215.4" y="316.9" font-size="6" text-anchor="middle" fill="#111" transform="rotate(-90 215.4 316.9)" stroke="#111" stroke-width="0.2">PI</text>
<line x1="240.5" y1="270.5" x2="292.5" y2="270.5" stroke="#a5a5a5" stroke-width="0.9" stroke-dasharray="1 1.6 2 1.2 1 2.2"/>
<path d="M271.5 403.3h1M278.5 404.3h1M272.5 406.3h1M272.5 408.3h1M278.5 411.3h1M274.5 412.3h1M278.5 413.3h1M271.5 414.3h1M279.5 416.3h1M275.5 418.3h1M268.5 424.3h1M278.5 425.3h1M269.5 433.3h1M274.5 434.3h1M269.5 437.3h1M276.5 439.3h1M267.5 441.3h1M248.5 443.3h1M262.5 443.3h1M276.5 443.3h1M279.5 443.3h1M254.5 444.3h1M259.5 444.3h1M268.5 444.3h1M256.5 445.3h1M250.5 446.3h1M262.5 446.3h2M269.5 446.3h1M271.5 446.3h1M274.5 446.3h2M234.5 447.3h1M255.5 447.3h1M258.5 447.3h2M269.5 447.3h1M271.5 447.3h1M278.5 447.3h1M301.5 447.3h1M250.5 448.3h1M263.5 448.3h1M272.5 448.3h1M274.5 448.3h1M237.5 449.3h1M254.5 449.3h1M258.5 449.3h1M262.5 449.3h1M265.5 449.3h1M267.5 449.3h2M275.5 449.3h1M278.5 449.3h1M232.5 450.3h1M246.5 450.3h1M252.5 450.3h1M255.5 450.3h1M260.5 450.3h2M277.5 450.3h1M282.5 450.3h1M247.5 451.3h1M252.5 451.3h1M256.5 451.3h1M258.5 451.3h1M265.5 451.3h3M273.5 451.3h1M277.5 451.3h1M279.5 451.3h1M242.5 452.3h1M244.5 452.3h1M257.5 452.3h1M269.5 452.3h1M271.5 452.3h2M278.5 452.3h1M284.5 452.3h2M292.5 452.3h1M251.5 453.3h1M269.5 453.3h2M272.5 453.3h1M276.5 453.3h1M279.5 453.3h1M281.5 453.3h1M285.5 453.3h1M305.5 453.3h1M232.5 454.3h1M241.5 454.3h1M243.5 454.3h1M246.5 454.3h1M248.5 454.3h1M250.5 454.3h1M271.5 454.3h1M284.5 454.3h1M240.5 455.3h1M246.5 455.3h1M277.5 455.3h1M283.5 455.3h1M286.5 455.3h2M238.5 456.3h1M245.5 456.3h1M277.5 456.3h1M280.5 456.3h2M285.5 456.3h2M288.5 456.3h1M292.5 456.3h1M294.5 456.3h1M301.5 456.3h1M242.5 457.3h1M245.5 457.3h1M278.5 457.3h1M280.5 457.3h1M286.5 457.3h1M241.5 458.3h1M243.5 458.3h1M278.5 458.3h1M283.5 458.3h2M286.5 458.3h1M237.5 459.3h1M240.5 459.3h1M243.5 459.3h1M245.5 459.3h1M286.5 459.3h1M288.5 459.3h2M291.5 459.3h1M301.5 459.3h1M238.5 460.3h1M244.5 460.3h1M288.5 460.3h1M296.5 460.3h1M300.5 460.3h1M232.5 461.3h2M238.5 461.3h1M242.5 461.3h2M245.5 461.3h1M288.5 461.3h2M292.5 461.3h1M236.5 462.3h2M240.5 462.3h1M244.5 462.3h1M290.5 462.3h2M293.5 462.3h1M233.5 463.3h1M235.5 463.3h1M239.5 463.3h1M287.5 463.3h1M236.5 464.3h2M242.5 464.3h1M290.5 464.3h1M298.5 464.3h1M236.5 465.3h1M288.5 465.3h2M233.5 466.3h1M235.5 466.3h2M289.5 466.3h1M234.5 467.3h1M294.5 467.3h1M235.5 468.3h1M288.5 469.3h3M293.5 469.3h1M237.5 470.3h2M292.5 470.3h1M232.5 471.3h1M289.5 471.3h1M296.5 471.3h2M305.5 471.3h1M290.5 472.3h1M292.5 472.3h2M295.5 472.3h1M297.5 472.3h1M232.5 473.3h2M236.5 473.3h1M238.5 473.3h1M290.5 473.3h2M298.5 473.3h1M231.5 474.3h1M235.5 474.3h2M290.5 474.3h1M234.5 475.3h1M236.5 475.3h1M291.5 475.3h1M293.5 475.3h1M236.5 476.3h2M241.5 476.3h1M290.5 476.3h2M297.5 476.3h2M234.5 477.3h2M238.5 477.3h1M243.5 477.3h1M290.5 477.3h1M298.5 477.3h1" stroke="#acacac" fill="none" shape-rendering="crispEdges"/>
<path d="M263.5 450.3h1M276.5 450.3h1M253.5 451.3h2M260.5 451.3h1M262.5 451.3h2M276.5 451.3h1M254.5 452.3h2M258.5 452.3h1M260.5 452.3h1M263.5 452.3h1M266.5 452.3h1M275.5 452.3h1M252.5 453.3h2M255.5 453.3h1M259.5 453.3h10M274.5 453.3h1M252.5 454.3h3M256.5 454.3h1M259.5 454.3h1M261.5 454.3h1M263.5 454.3h1M265.5 454.3h1M267.5 454.3h2M274.5 454.3h1M276.5 454.3h1M250.5 455.3h1M255.5 455.3h1M257.5 455.3h5M263.5 455.3h3M267.5 455.3h2M271.5 455.3h1M274.5 455.3h1M276.5 455.3h1M249.5 456.3h2M252.5 456.3h4M257.5 456.3h3M264.5 456.3h7M272.5 456.3h1M274.5 456.3h1M276.5 456.3h1M246.5 457.3h6M254.5 457.3h1M256.5 457.3h19M276.5 457.3h1M247.5 458.3h1M249.5 458.3h11M261.5 458.3h3M267.5 458.3h5M273.5 458.3h1M275.5 458.3h2M247.5 459.3h1M249.5 459.3h9M259.5 459.3h10M270.5 459.3h5M276.5 459.3h2M281.5 459.3h3M248.5 460.3h25M274.5 460.3h7M282.5 460.3h1M284.5 460.3h1M246.5 461.3h38M285.5 461.3h1M245.5 462.3h1M247.5 462.3h1M249.5 462.3h4M254.5 462.3h23M278.5 462.3h4M283.5 462.3h3M247.5 463.3h34M282.5 463.3h5M238.5 464.3h3M244.5 464.3h7M252.5 464.3h30M285.5 464.3h3M238.5 465.3h1M240.5 465.3h2M244.5 465.3h1M246.5 465.3h2M249.5 465.3h29M280.5 465.3h2M284.5 465.3h1M239.5 466.3h2M242.5 466.3h2M245.5 466.3h38M285.5 466.3h2M242.5 467.3h4M247.5 467.3h2M250.5 467.3h38M242.5 468.3h3M246.5 468.3h35M282.5 468.3h1M284.5 468.3h2M242.5 469.3h6M249.5 469.3h31M282.5 469.3h2M285.5 469.3h2M240.5 470.3h38M279.5 470.3h3M283.5 470.3h3M287.5 470.3h1M240.5 471.3h4M245.5 471.3h5M251.5 471.3h27M280.5 471.3h2M283.5 471.3h2M287.5 471.3h1M240.5 472.3h7M248.5 472.3h29M278.5 472.3h12M239.5 473.3h2M242.5 473.3h7M250.5 473.3h31M282.5 473.3h6M240.5 474.3h3M245.5 474.3h41M287.5 474.3h1M289.5 474.3h1M244.5 475.3h8M253.5 475.3h21M275.5 475.3h2M278.5 475.3h5M284.5 475.3h5M242.5 476.3h1M244.5 476.3h7M252.5 476.3h34M287.5 476.3h1M245.5 477.3h7M253.5 477.3h25M279.5 477.3h4M285.5 477.3h5" stroke="#888888" fill="none" shape-rendering="crispEdges"/>
<rect x="230.5" y="393.8" width="84" height="84.7" fill="none" stroke="#000" stroke-width="1.1"/>
<line x1="266.9" y1="393.8" x2="266.9" y2="478.5" stroke="#111" stroke-width="1"/>
<line x1="230.5" y1="440.7" x2="314.5" y2="440.7" stroke="#111" stroke-width="1"/>
<path d="M230.5 478.5L230.5 482.1M236.82 478.5L236.82 480.8M240.52 478.5L240.52 480.8M243.14 478.5L243.14 480.8M245.18 478.5L245.18 480.8M246.84 478.5L246.84 480.8M248.25 478.5L248.25 480.8M249.46 478.5L249.46 480.8M250.54 478.5L250.54 480.8M251.5 478.5L251.5 482.1M257.82 478.5L257.82 480.8M261.52 478.5L261.52 480.8M264.14 478.5L264.14 480.8M266.18 478.5L266.18 480.8M267.84 478.5L267.84 480.8M269.25 478.5L269.25 480.8M270.46 478.5L270.46 480.8M271.54 478.5L271.54 480.8M272.5 478.5L272.5 482.1M278.82 478.5L278.82 480.8M282.52 478.5L282.52 480.8M285.14 478.5L285.14 480.8M287.18 478.5L287.18 480.8M288.84 478.5L288.84 480.8M290.25 478.5L290.25 480.8M291.46 478.5L291.46 480.8M292.54 478.5L292.54 480.8M293.5 478.5L293.5 482.1M299.82 478.5L299.82 480.8M303.52 478.5L303.52 480.8M306.14 478.5L306.14 480.8M308.18 478.5L308.18 480.8M309.84 478.5L309.84 480.8M311.25 478.5L311.25 480.8M312.46 478.5L312.46 480.8M313.54 478.5L313.54 480.8M314.5 478.5L314.5 482.1M226.9 478.5L230.5 478.5M228.2 472.13L230.5 472.13M228.2 468.4L230.5 468.4M228.2 465.75L230.5 465.75M228.2 463.7L230.5 463.7M228.2 462.02L230.5 462.02M228.2 460.61L230.5 460.61M228.2 459.38L230.5 459.38M228.2 458.29L230.5 458.29M226.9 457.32L230.5 457.32M228.2 450.95L230.5 450.95M228.2 447.22L230.5 447.22M228.2 444.58L230.5 444.58M228.2 442.52L230.5 442.52M228.2 440.85L230.5 440.85M228.2 439.43L230.5 439.43M228.2 438.2L230.5 438.2M228.2 437.12L230.5 437.12M226.9 436.15L230.5 436.15M228.2 429.78L230.5 429.78M228.2 426.05L230.5 426.05M228.2 423.4L230.5 423.4M228.2 421.35L230.5 421.35M228.2 419.67L230.5 419.67M228.2 418.26L230.5 418.26M228.2 417.03L230.5 417.03M228.2 415.94L230.5 415.94M226.9 414.98L230.5 414.98M228.2 408.6L230.5 408.6M228.2 404.87L230.5 404.87M228.2 402.23L230.5 402.23M228.2 400.17L230.5 400.17M228.2 398.5L230.5 398.5M228.2 397.08L230.5 397.08M228.2 395.85L230.5 395.85M228.2 394.77L230.5 394.77M226.9 393.8L230.5 393.8" stroke="#000" stroke-width="0.85" fill="none"/>
<text transform="translate(226.3 488.9) scale(0.8 1)" font-size="6.9" stroke="#000" stroke-width="0.15">10<tspan dy="-2.4" dx="0.6" font-size="6.3">0</tspan></text>
<text transform="translate(224.9 482.7) rotate(-90) scale(0.72 1)" font-size="6.9" stroke="#000" stroke-width="0.15">10<tspan dy="-3.5" dx="0.8" font-size="6.1">0</tspan></text>
<text transform="translate(247.3 488.9) scale(0.8 1)" font-size="6.9" stroke="#000" stroke-width="0.15">10<tspan dy="-2.4" dx="0.6" font-size="6.3">1</tspan></text>
<text transform="translate(224.9 461.52) rotate(-90) scale(0.72 1)" font-size="6.9" stroke="#000" stroke-width="0.15">10<tspan dy="-3.5" dx="0.8" font-size="6.1">1</tspan></text>
<text transform="translate(268.3 488.9) scale(0.8 1)" font-size="6.9" stroke="#000" stroke-width="0.15">10<tspan dy="-2.4" dx="0.6" font-size="6.3">2</tspan></text>
<text transform="translate(224.9 440.35) rotate(-90) scale(0.72 1)" font-size="6.9" stroke="#000" stroke-width="0.15">10<tspan dy="-3.5" dx="0.8" font-size="6.1">2</tspan></text>
<text transform="translate(289.3 488.9) scale(0.8 1)" font-size="6.9" stroke="#000" stroke-width="0.15">10<tspan dy="-2.4" dx="0.6" font-size="6.3">3</tspan></text>
<text transform="translate(224.9 419.18) rotate(-90) scale(0.72 1)" font-size="6.9" stroke="#000" stroke-width="0.15">10<tspan dy="-3.5" dx="0.8" font-size="6.1">3</tspan></text>
<text transform="translate(310.3 488.9) scale(0.8 1)" font-size="6.9" stroke="#000" stroke-width="0.15">10<tspan dy="-2.4" dx="0.6" font-size="6.3">4</tspan></text>
<text transform="translate(224.9 398) rotate(-90) scale(0.72 1)" font-size="6.9" stroke="#000" stroke-width="0.15">10</text>
<text x="271.5" y="495.8" font-size="6.7" text-anchor="middle" fill="#111" stroke="#111" stroke-width="0.15">Annexin FITC</text>
<text x="215.4" y="437.2" font-size="6" text-anchor="middle" fill="#111" transform="rotate(-90 215.4 437.2)" stroke="#111" stroke-width="0.2">PI</text>
<line x1="240.5" y1="390.8" x2="292.5" y2="390.8" stroke="#a5a5a5" stroke-width="0.9" stroke-dasharray="1 1.6 2 1.2 1 2.2"/>
<path d="M275.5 519.3h1M279.5 519.3h1M270.5 524.3h1M276.5 524.3h1M281.5 541.3h1M270.5 546.3h1M276.5 548.3h1M273.5 549.3h1M271.5 554.3h1M270.5 556.3h1M276.5 557.3h1M257.5 559.3h1M270.5 560.3h1M248.5 562.3h1M257.5 562.3h1M258.5 564.3h1M262.5 565.3h1M277.5 565.3h1M241.5 566.3h1M247.5 566.3h1M251.5 566.3h1M256.5 566.3h1M263.5 566.3h1M273.5 566.3h1M247.5 567.3h1M258.5 567.3h3M267.5 567.3h1M270.5 567.3h2M242.5 568.3h1M248.5 568.3h1M252.5 568.3h2M255.5 568.3h3M262.5 568.3h1M265.5 568.3h1M233.5 569.3h1M242.5 569.3h1M259.5 569.3h1M268.5 569.3h1M272.5 569.3h1M244.5 570.3h1M246.5 570.3h1M259.5 570.3h1M262.5 570.3h1M265.5 570.3h1M273.5 570.3h1M240.5 571.3h1M271.5 571.3h2M279.5 571.3h1M297.5 571.3h1M241.5 572.3h1M269.5 572.3h1M271.5 572.3h1M240.5 573.3h1M242.5 573.3h2M272.5 573.3h2M232.5 574.3h1M239.5 574.3h1M241.5 574.3h1M285.5 574.3h1M235.5 575.3h1M237.5 575.3h3M274.5 575.3h1M239.5 576.3h1M237.5 577.3h1M277.5 577.3h1M279.5 577.3h1M307.5 577.3h1M232.5 578.3h2M276.5 578.3h1M280.5 578.3h1M277.5 579.3h2M291.5 579.3h1M296.5 579.3h1M278.5 580.3h1M284.5 580.3h1M233.5 582.3h1M235.5 582.3h1M278.5 582.3h2M281.5 582.3h1M234.5 583.3h2M237.5 583.3h1M284.5 583.3h1M231.5 584.3h1M233.5 584.3h1M279.5 584.3h1M284.5 584.3h1M237.5 585.3h1M280.5 585.3h2M233.5 586.3h1M236.5 586.3h1M279.5 586.3h1M236.5 587.3h1M278.5 587.3h1M286.5 587.3h1M237.5 588.3h1M278.5 588.3h1M288.5 588.3h1M277.5 589.3h1M233.5 590.3h2M277.5 590.3h1M280.5 590.3h1M236.5 591.3h1M277.5 591.3h1M279.5 591.3h1M285.5 591.3h1M235.5 592.3h1M277.5 592.3h2M233.5 593.3h2M277.5 593.3h1M282.5 593.3h1M284.5 593.3h1M234.5 594.3h1M278.5 594.3h2M281.5 594.3h1M234.5 595.3h2M237.5 595.3h1M232.5 596.3h2M236.5 596.3h1M281.5 596.3h1M286.5 596.3h1M236.5 597.3h1M238.5 597.3h2M277.5 597.3h1M236.5 598.3h1M240.5 598.3h1M277.5 598.3h1" stroke="#acacac" fill="none" shape-rendering="crispEdges"/>
<path d="M249.5 569.3h2M255.5 569.3h1M248.5 570.3h2M252.5 570.3h2M255.5 570.3h1M267.5 570.3h1M249.5 571.3h5M255.5 571.3h1M257.5 571.3h2M260.5 571.3h1M262.5 571.3h1M264.5 571.3h1M266.5 571.3h3M248.5 572.3h9M258.5 572.3h1M260.5 572.3h1M262.5 572.3h1M266.5 572.3h1M268.5 572.3h1M245.5 573.3h2M249.5 573.3h2M252.5 573.3h1M254.5 573.3h1M258.5 573.3h7M269.5 573.3h1M244.5 574.3h4M249.5 574.3h1M251.5 574.3h1M253.5 574.3h8M263.5 574.3h3M270.5 574.3h2M243.5 575.3h2M246.5 575.3h1M249.5 575.3h2M252.5 575.3h6M261.5 575.3h7M269.5 575.3h2M242.5 576.3h1M244.5 576.3h2M247.5 576.3h2M250.5 576.3h3M254.5 576.3h1M256.5 576.3h3M260.5 576.3h5M266.5 576.3h1M268.5 576.3h1M270.5 576.3h1M272.5 576.3h1M239.5 577.3h1M242.5 577.3h4M247.5 577.3h1M249.5 577.3h1M251.5 577.3h1M253.5 577.3h6M260.5 577.3h1M262.5 577.3h5M269.5 577.3h2M237.5 578.3h3M241.5 578.3h2M244.5 578.3h3M249.5 578.3h8M258.5 578.3h5M264.5 578.3h2M267.5 578.3h7M238.5 579.3h2M241.5 579.3h4M246.5 579.3h1M248.5 579.3h19M268.5 579.3h2M272.5 579.3h1M274.5 579.3h2M237.5 580.3h2M240.5 580.3h4M247.5 580.3h19M267.5 580.3h1M269.5 580.3h3M274.5 580.3h2M277.5 580.3h1M238.5 581.3h4M244.5 581.3h1M246.5 581.3h1M248.5 581.3h17M267.5 581.3h2M270.5 581.3h2M273.5 581.3h1M276.5 581.3h2M239.5 582.3h2M244.5 582.3h22M267.5 582.3h1M269.5 582.3h6M276.5 582.3h2M239.5 583.3h1M242.5 583.3h25M268.5 583.3h4M273.5 583.3h3M277.5 583.3h1M240.5 584.3h6M247.5 584.3h26M274.5 584.3h4M240.5 585.3h29M270.5 585.3h9M238.5 586.3h1M240.5 586.3h2M243.5 586.3h30M275.5 586.3h2M278.5 586.3h1M238.5 587.3h36M275.5 587.3h1M238.5 588.3h2M241.5 588.3h37M238.5 589.3h2M241.5 589.3h31M273.5 589.3h3M238.5 590.3h3M242.5 590.3h32M238.5 591.3h7M246.5 591.3h27M274.5 591.3h3M239.5 592.3h2M242.5 592.3h34M237.5 593.3h1M239.5 593.3h33M273.5 593.3h1M237.5 594.3h1M239.5 594.3h5M245.5 594.3h28M274.5 594.3h1M238.5 595.3h1M241.5 595.3h1M243.5 595.3h27M271.5 595.3h1M273.5 595.3h4M240.5 596.3h5M246.5 596.3h24M271.5 596.3h6M242.5 597.3h4M248.5 597.3h22M271.5 597.3h1M273.5 597.3h2M276.5 597.3h1M241.5 598.3h2M244.5 598.3h13M258.5 598.3h6M265.5 598.3h9" stroke="#888888" fill="none" shape-rendering="crispEdges"/>
<rect x="230.5" y="514.8" width="84" height="84.7" fill="none" stroke="#000" stroke-width="1.1"/>
<line x1="266.9" y1="514.8" x2="266.9" y2="599.5" stroke="#111" stroke-width="1"/>
<line x1="230.5" y1="561.7" x2="314.5" y2="561.7" stroke="#111" stroke-width="1"/>
<path d="M230.5 599.5L230.5 603.1M236.82 599.5L236.82 601.8M240.52 599.5L240.52 601.8M243.14 599.5L243.14 601.8M245.18 599.5L245.18 601.8M246.84 599.5L246.84 601.8M248.25 599.5L248.25 601.8M249.46 599.5L249.46 601.8M250.54 599.5L250.54 601.8M251.5 599.5L251.5 603.1M257.82 599.5L257.82 601.8M261.52 599.5L261.52 601.8M264.14 599.5L264.14 601.8M266.18 599.5L266.18 601.8M267.84 599.5L267.84 601.8M269.25 599.5L269.25 601.8M270.46 599.5L270.46 601.8M271.54 599.5L271.54 601.8M272.5 599.5L272.5 603.1M278.82 599.5L278.82 601.8M282.52 599.5L282.52 601.8M285.14 599.5L285.14 601.8M287.18 599.5L287.18 601.8M288.84 599.5L288.84 601.8M290.25 599.5L290.25 601.8M291.46 599.5L291.46 601.8M292.54 599.5L292.54 601.8M293.5 599.5L293.5 603.1M299.82 599.5L299.82 601.8M303.52 599.5L303.52 601.8M306.14 599.5L306.14 601.8M308.18 599.5L308.18 601.8M309.84 599.5L309.84 601.8M311.25 599.5L311.25 601.8M312.46 599.5L312.46 601.8M313.54 599.5L313.54 601.8M314.5 599.5L314.5 603.1M226.9 599.5L230.5 599.5M228.2 593.13L230.5 593.13M228.2 589.4L230.5 589.4M228.2 586.75L230.5 586.75M228.2 584.7L230.5 584.7M228.2 583.02L230.5 583.02M228.2 581.61L230.5 581.61M228.2 580.38L230.5 580.38M228.2 579.29L230.5 579.29M226.9 578.33L230.5 578.33M228.2 571.95L230.5 571.95M228.2 568.22L230.5 568.22M228.2 565.58L230.5 565.58M228.2 563.52L230.5 563.52M228.2 561.85L230.5 561.85M228.2 560.43L230.5 560.43M228.2 559.2L230.5 559.2M228.2 558.12L230.5 558.12M226.9 557.15L230.5 557.15M228.2 550.78L230.5 550.78M228.2 547.05L230.5 547.05M228.2 544.4L230.5 544.4M228.2 542.35L230.5 542.35M228.2 540.67L230.5 540.67M228.2 539.26L230.5 539.26M228.2 538.03L230.5 538.03M228.2 536.94L230.5 536.94M226.9 535.98L230.5 535.98M228.2 529.6L230.5 529.6M228.2 525.87L230.5 525.87M228.2 523.23L230.5 523.23M228.2 521.17L230.5 521.17M228.2 519.5L230.5 519.5M228.2 518.08L230.5 518.08M228.2 516.85L230.5 516.85M228.2 515.77L230.5 515.77M226.9 514.8L230.5 514.8" stroke="#000" stroke-width="0.85" fill="none"/>
<text transform="translate(226.3 609.9) scale(0.8 1)" font-size="6.9" stroke="#000" stroke-width="0.15">10<tspan dy="-2.4" dx="0.6" font-size="6.3">0</tspan></text>
<text transform="translate(224.9 603.7) rotate(-90) scale(0.72 1)" font-size="6.9" stroke="#000" stroke-width="0.15">10<tspan dy="-3.5" dx="0.8" font-size="6.1">0</tspan></text>
<text transform="translate(247.3 609.9) scale(0.8 1)" font-size="6.9" stroke="#000" stroke-width="0.15">10<tspan dy="-2.4" dx="0.6" font-size="6.3">1</tspan></text>
<text transform="translate(224.9 582.53) rotate(-90) scale(0.72 1)" font-size="6.9" stroke="#000" stroke-width="0.15">10<tspan dy="-3.5" dx="0.8" font-size="6.1">1</tspan></text>
<text transform="translate(268.3 609.9) scale(0.8 1)" font-size="6.9" stroke="#000" stroke-width="0.15">10<tspan dy="-2.4" dx="0.6" font-size="6.3">2</tspan></text>
<text transform="translate(224.9 561.35) rotate(-90) scale(0.72 1)" font-size="6.9" stroke="#000" stroke-width="0.15">10<tspan dy="-3.5" dx="0.8" font-size="6.1">2</tspan></text>
<text transform="translate(289.3 609.9) scale(0.8 1)" font-size="6.9" stroke="#000" stroke-width="0.15">10<tspan dy="-2.4" dx="0.6" font-size="6.3">3</tspan></text>
<text transform="translate(224.9 540.18) rotate(-90) scale(0.72 1)" font-size="6.9" stroke="#000" stroke-width="0.15">10<tspan dy="-3.5" dx="0.8" font-size="6.1">3</tspan></text>
<text transform="translate(310.3 609.9) scale(0.8 1)" font-size="6.9" stroke="#000" stroke-width="0.15">10<tspan dy="-2.4" dx="0.6" font-size="6.3">4</tspan></text>
<text transform="translate(224.9 519) rotate(-90) scale(0.72 1)" font-size="6.9" stroke="#000" stroke-width="0.15">10</text>
<text x="271.5" y="616.8" font-size="6.7" text-anchor="middle" fill="#111" stroke="#111" stroke-width="0.15">Annexin FITC</text>
<text x="215.4" y="558.2" font-size="6" text-anchor="middle" fill="#111" transform="rotate(-90 215.4 558.2)" stroke="#111" stroke-width="0.2">PI</text>
<line x1="240.5" y1="511.8" x2="292.5" y2="511.8" stroke="#a5a5a5" stroke-width="0.9" stroke-dasharray="1 1.6 2 1.2 1 2.2"/>
<path d="M238.5 651.4h1M237.5 659.4h1M248.5 660.4h1M271.5 660.4h1M255.5 662.4h1M266.5 662.4h1M247.5 663.4h1M251.5 664.4h1M259.5 665.4h1M270.5 671.4h1M265.5 672.4h1M271.5 674.4h1M262.5 675.4h1M252.5 678.4h1M245.5 680.4h1M249.5 680.4h1M258.5 680.4h1M250.5 681.4h1M258.5 681.4h1M250.5 682.4h1M243.5 683.4h1M269.5 683.4h1M232.5 684.4h1M253.5 684.4h1M235.5 685.4h1M259.5 685.4h1M237.5 686.4h1M240.5 686.4h1M245.5 686.4h1M247.5 686.4h1M265.5 686.4h1M268.5 686.4h1M244.5 687.4h1M251.5 687.4h3M256.5 687.4h1M261.5 687.4h2M269.5 687.4h1M281.5 687.4h1M233.5 688.4h2M241.5 688.4h1M246.5 688.4h1M249.5 688.4h2M253.5 688.4h1M270.5 688.4h1M276.5 688.4h1M241.5 689.4h1M244.5 689.4h2M248.5 689.4h2M251.5 689.4h3M257.5 689.4h1M261.5 689.4h1M263.5 689.4h2M267.5 689.4h1M237.5 690.4h1M247.5 690.4h3M257.5 690.4h1M260.5 690.4h1M263.5 690.4h2M267.5 690.4h1M231.5 691.4h1M235.5 691.4h2M238.5 691.4h5M245.5 691.4h2M259.5 691.4h2M262.5 691.4h1M270.5 691.4h1M273.5 691.4h1M279.5 691.4h1M287.5 691.4h1M233.5 692.4h1M235.5 692.4h2M259.5 692.4h1M271.5 692.4h1M277.5 692.4h1M232.5 693.4h2M235.5 693.4h1M239.5 693.4h1M271.5 693.4h3M275.5 693.4h1M233.5 694.4h1M237.5 694.4h2M240.5 694.4h1M269.5 694.4h1M271.5 694.4h1M231.5 695.4h3M270.5 695.4h1M274.5 695.4h1M232.5 696.4h3M269.5 696.4h3M234.5 697.4h1M270.5 697.4h1M273.5 697.4h1M275.5 697.4h1M232.5 698.4h2M270.5 698.4h5M277.5 698.4h1M231.5 699.4h1M233.5 699.4h3M271.5 699.4h2M273.5 700.4h1M231.5 701.4h1M234.5 701.4h2M270.5 701.4h1M272.5 701.4h1M231.5 702.4h1M233.5 702.4h2M271.5 702.4h1M273.5 703.4h2M277.5 703.4h1M279.5 703.4h1M233.5 704.4h1M272.5 704.4h3M231.5 705.4h2M273.5 705.4h1M274.5 706.4h1M276.5 706.4h2M281.5 706.4h1M232.5 707.4h1M274.5 707.4h2M278.5 707.4h1M282.5 707.4h1M231.5 708.4h1M274.5 708.4h1M276.5 708.4h2M232.5 709.4h1M275.5 709.4h1M277.5 709.4h1M279.5 709.4h1M286.5 709.4h1M232.5 710.4h1M273.5 710.4h1M275.5 710.4h1M276.5 711.4h1M278.5 711.4h1M232.5 712.4h2M274.5 712.4h1M276.5 712.4h1M280.5 712.4h1M232.5 713.4h2M272.5 713.4h1M278.5 713.4h1M232.5 714.4h1M234.5 714.4h1M236.5 714.4h1M272.5 714.4h1M277.5 714.4h1M231.5 715.4h2M235.5 715.4h1M237.5 715.4h1M271.5 715.4h2M231.5 716.4h1M235.5 716.4h1M237.5 716.4h2M277.5 716.4h1M231.5 717.4h2M235.5 717.4h1M239.5 717.4h1M271.5 717.4h2M275.5 717.4h1M280.5 717.4h1M232.5 718.4h1M234.5 718.4h1M238.5 718.4h1M240.5 718.4h1M270.5 718.4h1M272.5 718.4h2M279.5 718.4h1M233.5 719.4h1M237.5 719.4h3M241.5 719.4h3M246.5 719.4h1M257.5 719.4h1M259.5 719.4h1M261.5 719.4h1M269.5 719.4h1M271.5 719.4h1M279.5 719.4h1" stroke="#acacac" fill="none" shape-rendering="crispEdges"/>
<path d="M248.5 691.4h3M252.5 691.4h3M256.5 691.4h2M265.5 691.4h2M237.5 692.4h2M241.5 692.4h6M248.5 692.4h3M252.5 692.4h2M255.5 692.4h4M262.5 692.4h7M242.5 693.4h2M245.5 693.4h1M248.5 693.4h6M258.5 693.4h2M261.5 693.4h3M265.5 693.4h5M241.5 694.4h5M250.5 694.4h10M261.5 694.4h1M263.5 694.4h4M239.5 695.4h2M242.5 695.4h2M245.5 695.4h3M249.5 695.4h4M254.5 695.4h5M260.5 695.4h8M236.5 696.4h11M248.5 696.4h3M252.5 696.4h5M258.5 696.4h3M262.5 696.4h2M267.5 696.4h2M236.5 697.4h6M243.5 697.4h2M246.5 697.4h3M250.5 697.4h1M252.5 697.4h4M257.5 697.4h5M263.5 697.4h1M265.5 697.4h2M235.5 698.4h2M238.5 698.4h6M245.5 698.4h7M253.5 698.4h15M237.5 699.4h6M244.5 699.4h8M253.5 699.4h1M255.5 699.4h15M238.5 700.4h15M254.5 700.4h13M268.5 700.4h2M236.5 701.4h7M244.5 701.4h1M246.5 701.4h1M248.5 701.4h10M259.5 701.4h8M268.5 701.4h1M236.5 702.4h1M238.5 702.4h7M246.5 702.4h25M234.5 703.4h1M237.5 703.4h10M248.5 703.4h1M250.5 703.4h21M234.5 704.4h14M249.5 704.4h20M270.5 704.4h2M233.5 705.4h35M269.5 705.4h4M233.5 706.4h6M240.5 706.4h9M250.5 706.4h9M260.5 706.4h12M235.5 707.4h2M239.5 707.4h6M246.5 707.4h9M256.5 707.4h3M260.5 707.4h4M265.5 707.4h5M271.5 707.4h2M233.5 708.4h1M235.5 708.4h8M244.5 708.4h10M255.5 708.4h3M259.5 708.4h8M268.5 708.4h6M233.5 709.4h3M237.5 709.4h2M240.5 709.4h4M245.5 709.4h13M260.5 709.4h1M262.5 709.4h7M271.5 709.4h1M234.5 710.4h7M242.5 710.4h14M257.5 710.4h1M259.5 710.4h4M264.5 710.4h8M234.5 711.4h4M239.5 711.4h34M235.5 712.4h13M250.5 712.4h7M258.5 712.4h8M267.5 712.4h1M269.5 712.4h4M236.5 713.4h1M239.5 713.4h5M245.5 713.4h2M248.5 713.4h21M270.5 713.4h1M237.5 714.4h3M241.5 714.4h1M243.5 714.4h3M247.5 714.4h6M254.5 714.4h4M259.5 714.4h9M269.5 714.4h3M239.5 715.4h2M242.5 715.4h4M247.5 715.4h8M256.5 715.4h13M270.5 715.4h1M240.5 716.4h3M244.5 716.4h12M257.5 716.4h3M261.5 716.4h5M268.5 716.4h1M241.5 717.4h17M259.5 717.4h1M261.5 717.4h6M268.5 717.4h3M241.5 718.4h2M244.5 718.4h1M247.5 718.4h17M265.5 718.4h1M267.5 718.4h3M245.5 719.4h1M249.5 719.4h7M262.5 719.4h6" stroke="#888888" fill="none" shape-rendering="crispEdges"/>
<rect x="230.5" y="635.9" width="84" height="84.7" fill="none" stroke="#000" stroke-width="1.1"/>
<line x1="266.9" y1="635.9" x2="266.9" y2="720.6" stroke="#111" stroke-width="1"/>
<line x1="230.5" y1="682.8" x2="314.5" y2="682.8" stroke="#111" stroke-width="1"/>
<path d="M230.5 720.6L230.5 724.2M236.82 720.6L236.82 722.9M240.52 720.6L240.52 722.9M243.14 720.6L243.14 722.9M245.18 720.6L245.18 722.9M246.84 720.6L246.84 722.9M248.25 720.6L248.25 722.9M249.46 720.6L249.46 722.9M250.54 720.6L250.54 722.9M251.5 720.6L251.5 724.2M257.82 720.6L257.82 722.9M261.52 720.6L261.52 722.9M264.14 720.6L264.14 722.9M266.18 720.6L266.18 722.9M267.84 720.6L267.84 722.9M269.25 720.6L269.25 722.9M270.46 720.6L270.46 722.9M271.54 720.6L271.54 722.9M272.5 720.6L272.5 724.2M278.82 720.6L278.82 722.9M282.52 720.6L282.52 722.9M285.14 720.6L285.14 722.9M287.18 720.6L287.18 722.9M288.84 720.6L288.84 722.9M290.25 720.6L290.25 722.9M291.46 720.6L291.46 722.9M292.54 720.6L292.54 722.9M293.5 720.6L293.5 724.2M299.82 720.6L299.82 722.9M303.52 720.6L303.52 722.9M306.14 720.6L306.14 722.9M308.18 720.6L308.18 722.9M309.84 720.6L309.84 722.9M311.25 720.6L311.25 722.9M312.46 720.6L312.46 722.9M313.54 720.6L313.54 722.9M314.5 720.6L314.5 724.2M226.9 720.6L230.5 720.6M228.2 714.23L230.5 714.23M228.2 710.5L230.5 710.5M228.2 707.85L230.5 707.85M228.2 705.8L230.5 705.8M228.2 704.12L230.5 704.12M228.2 702.71L230.5 702.71M228.2 701.48L230.5 701.48M228.2 700.39L230.5 700.39M226.9 699.43L230.5 699.43M228.2 693.05L230.5 693.05M228.2 689.32L230.5 689.32M228.2 686.68L230.5 686.68M228.2 684.62L230.5 684.62M228.2 682.95L230.5 682.95M228.2 681.53L230.5 681.53M228.2 680.3L230.5 680.3M228.2 679.22L230.5 679.22M226.9 678.25L230.5 678.25M228.2 671.88L230.5 671.88M228.2 668.15L230.5 668.15M228.2 665.5L230.5 665.5M228.2 663.45L230.5 663.45M228.2 661.77L230.5 661.77M228.2 660.36L230.5 660.36M228.2 659.13L230.5 659.13M228.2 658.04L230.5 658.04M226.9 657.08L230.5 657.08M228.2 650.7L230.5 650.7M228.2 646.97L230.5 646.97M228.2 644.33L230.5 644.33M228.2 642.27L230.5 642.27M228.2 640.6L230.5 640.6M228.2 639.18L230.5 639.18M228.2 637.95L230.5 637.95M228.2 636.87L230.5 636.87M226.9 635.9L230.5 635.9" stroke="#000" stroke-width="0.85" fill="none"/>
<text transform="translate(226.3 731) scale(0.8 1)" font-size="6.9" stroke="#000" stroke-width="0.15">10<tspan dy="-2.4" dx="0.6" font-size="6.3">0</tspan></text>
<text transform="translate(224.9 724.8) rotate(-90) scale(0.72 1)" font-size="6.9" stroke="#000" stroke-width="0.15">10<tspan dy="-3.5" dx="0.8" font-size="6.1">0</tspan></text>
<text transform="translate(247.3 731) scale(0.8 1)" font-size="6.9" stroke="#000" stroke-width="0.15">10<tspan dy="-2.4" dx="0.6" font-size="6.3">1</tspan></text>
<text transform="translate(224.9 703.63) rotate(-90) scale(0.72 1)" font-size="6.9" stroke="#000" stroke-width="0.15">10<tspan dy="-3.5" dx="0.8" font-size="6.1">1</tspan></text>
<text transform="translate(268.3 731) scale(0.8 1)" font-size="6.9" stroke="#000" stroke-width="0.15">10<tspan dy="-2.4" dx="0.6" font-size="6.3">2</tspan></text>
<text transform="translate(224.9 682.45) rotate(-90) scale(0.72 1)" font-size="6.9" stroke="#000" stroke-width="0.15">10<tspan dy="-3.5" dx="0.8" font-size="6.1">2</tspan></text>
<text transform="translate(289.3 731) scale(0.8 1)" font-size="6.9" stroke="#000" stroke-width="0.15">10<tspan dy="-2.4" dx="0.6" font-size="6.3">3</tspan></text>
<text transform="translate(224.9 661.28) rotate(-90) scale(0.72 1)" font-size="6.9" stroke="#000" stroke-width="0.15">10<tspan dy="-3.5" dx="0.8" font-size="6.1">3</tspan></text>
<text transform="translate(310.3 731) scale(0.8 1)" font-size="6.9" stroke="#000" stroke-width="0.15">10<tspan dy="-2.4" dx="0.6" font-size="6.3">4</tspan></text>
<text transform="translate(224.9 640.1) rotate(-90) scale(0.72 1)" font-size="6.9" stroke="#000" stroke-width="0.15">10</text>
<text x="271.5" y="737.9" font-size="6.7" text-anchor="middle" fill="#111" stroke="#111" stroke-width="0.15">AnnexinFITC</text>
<text x="215.4" y="679.3" font-size="6" text-anchor="middle" fill="#111" transform="rotate(-90 215.4 679.3)" stroke="#111" stroke-width="0.2">PI</text>
<line x1="240.5" y1="632.9" x2="292.5" y2="632.9" stroke="#a5a5a5" stroke-width="0.9" stroke-dasharray="1 1.6 2 1.2 1 2.2"/>
<path d="M419.9 275h1M421.9 275h3M426.9 275h1M428.9 275h1M430.9 275h2M414.9 276h1M420.9 276h1M424.9 276h3M428.9 276h1M431.9 276h2M416.9 277h1M427.9 277h1M429.9 277h1M417.9 278h1M428.9 278h1M431.9 278h1M417.9 279h1M428.9 279h1M415.9 280h1M432.9 280h2M411.9 281h1M414.9 281h1M416.9 281h1M430.9 281h3M415.9 282h1M430.9 282h1M413.9 283h1M432.9 283h1M416.9 284h1M430.9 284h1M433.9 284h1M413.9 285h1M416.9 285h1M430.9 285h1M420.9 286h1M428.9 286h1M433.9 286h1M394.9 287h1M416.9 287h4M421.9 287h1M428.9 287h1M431.9 287h2M421.9 288h2M429.9 288h2M421.9 289h1M424.9 289h2M391.9 290h1M422.9 290h1M424.9 290h2M427.9 290h2M418.9 291h1M422.9 291h2M424.9 292h2M425.9 293h1M422.9 294h1M425.9 294h1M424.9 295h1M421.9 296h1M425.9 296h1M424.9 297h2M425.9 298h1M428.9 298h1M431.9 299h1M418.9 300h1M427.9 302h1M429.9 302h2M427.9 303h2M426.9 304h1M420.9 305h1M422.9 306h1M424.9 306h2M427.9 306h1M422.9 307h1M424.9 307h1M421.9 308h3M425.9 308h1M405.9 309h1M419.9 309h1M428.9 309h1M422.9 310h2M426.9 310h4M423.9 311h1M425.9 311h2M421.9 312h1M423.9 313h2M430.9 313h1M423.9 315h2M421.9 316h1M423.9 316h1M425.9 316h1M422.9 317h1M423.9 318h2M427.9 318h1M422.9 319h1M425.9 319h1M412.9 320h1M431.9 320h1M424.9 321h1M429.9 321h1M420.9 322h1M422.9 322h1M426.9 322h1M428.9 322h1M425.9 323h1M419.9 324h2M422.9 324h1M424.9 324h1M426.9 324h1M428.9 324h1M412.9 325h2M420.9 325h2M423.9 325h1M426.9 325h1M432.9 325h1M414.9 326h1M420.9 326h1M423.9 326h1M425.9 326h2M421.9 327h1M424.9 327h1M430.9 327h2M420.9 328h1M426.9 328h3M415.9 329h1M422.9 329h1M430.9 329h2M433.9 329h1M416.9 330h1M420.9 330h4M425.9 330h1M419.9 331h1M429.9 331h2M426.9 332h2M401.9 333h1M418.9 333h1M423.9 333h2M427.9 333h1M414.9 334h1M418.9 334h3M422.9 334h1M425.9 334h1M418.9 335h2M421.9 335h2M424.9 335h2M427.9 335h1M429.9 335h1M415.9 336h1M420.9 336h2M423.9 336h3M430.9 336h1M421.9 337h2M425.9 337h1M413.9 338h2M418.9 338h1M421.9 338h1M424.9 338h2M417.9 339h1M420.9 339h1M425.9 339h1M430.9 339h1M416.9 340h2M420.9 340h1M423.9 340h1M426.9 340h2M416.9 341h1M419.9 341h1M421.9 341h1M423.9 341h1M413.9 342h1M418.9 342h1M420.9 342h2M423.9 342h4M428.9 342h2M418.9 343h1M425.9 343h1M428.9 343h1M430.9 343h1M416.9 344h1M426.9 344h2M416.9 345h1M426.9 345h1M412.9 346h1M415.9 346h2M426.9 346h1M429.9 346h2M406.9 347h1M416.9 347h2M422.9 347h1M426.9 347h1M420.9 348h1M423.9 348h6M430.9 348h1M417.9 349h3M423.9 349h2M426.9 349h2M413.9 350h1M416.9 350h2M419.9 350h4M424.9 350h1M426.9 350h1M413.9 351h1M415.9 351h2M418.9 351h1M424.9 351h1M412.9 352h1M425.9 352h1M398.9 353h1M417.9 353h1M426.9 353h1M414.9 354h1M416.9 354h1M425.9 354h1M427.9 354h3M431.9 354h1M408.9 355h1M413.9 355h1M417.9 355h2M420.9 355h1M425.9 355h1M432.9 355h1M414.9 356h1M416.9 356h1M418.9 356h1M420.9 356h4M425.9 356h2M412.9 357h1M417.9 357h1M419.9 357h2M422.9 357h1M424.9 357h5" stroke="#acacac" fill="none" shape-rendering="crispEdges"/>
<path d="M422.9 276h2M420.9 277h4M426.9 277h1M419.9 278h5M426.9 278h2M419.9 279h1M421.9 279h7M419.9 280h10M418.9 281h2M421.9 281h7M418.9 282h3M422.9 282h8M417.9 283h13M417.9 284h4M422.9 284h2M425.9 284h5M418.9 285h8M427.9 285h2M421.9 286h1M424.9 286h3M423.9 287h4M423.9 288h3M422.9 338h2M421.9 339h2M422.9 340h1M420.9 343h2M424.9 343h1M419.9 344h2M423.9 344h2M418.9 345h8M418.9 346h2M422.9 346h4M419.9 347h1M423.9 347h1M418.9 348h1M420.9 351h3M418.9 352h3M422.9 352h3M418.9 353h2M421.9 353h1M423.9 353h3M419.9 354h4M424.9 354h1M422.9 355h1" stroke="#888888" fill="none" shape-rendering="crispEdges"/>
<rect x="350.9" y="273.5" width="84" height="84.7" fill="none" stroke="#000" stroke-width="1.1"/>
<line x1="387.5" y1="273.5" x2="387.5" y2="358.2" stroke="#111" stroke-width="1"/>
<line x1="350.9" y1="320.4" x2="434.9" y2="320.4" stroke="#111" stroke-width="1"/>
<path d="M350.9 358.2L350.9 361.8M357.22 358.2L357.22 360.5M360.92 358.2L360.92 360.5M363.54 358.2L363.54 360.5M365.58 358.2L365.58 360.5M367.24 358.2L367.24 360.5M368.65 358.2L368.65 360.5M369.86 358.2L369.86 360.5M370.94 358.2L370.94 360.5M371.9 358.2L371.9 361.8M378.22 358.2L378.22 360.5M381.92 358.2L381.92 360.5M384.54 358.2L384.54 360.5M386.58 358.2L386.58 360.5M388.24 358.2L388.24 360.5M389.65 358.2L389.65 360.5M390.86 358.2L390.86 360.5M391.94 358.2L391.94 360.5M392.9 358.2L392.9 361.8M399.22 358.2L399.22 360.5M402.92 358.2L402.92 360.5M405.54 358.2L405.54 360.5M407.58 358.2L407.58 360.5M409.24 358.2L409.24 360.5M410.65 358.2L410.65 360.5M411.86 358.2L411.86 360.5M412.94 358.2L412.94 360.5M413.9 358.2L413.9 361.8M420.22 358.2L420.22 360.5M423.92 358.2L423.92 360.5M426.54 358.2L426.54 360.5M428.58 358.2L428.58 360.5M430.24 358.2L430.24 360.5M431.65 358.2L431.65 360.5M432.86 358.2L432.86 360.5M433.94 358.2L433.94 360.5M434.9 358.2L434.9 361.8M347.3 358.2L350.9 358.2M348.6 351.83L350.9 351.83M348.6 348.1L350.9 348.1M348.6 345.45L350.9 345.45M348.6 343.4L350.9 343.4M348.6 341.72L350.9 341.72M348.6 340.31L350.9 340.31M348.6 339.08L350.9 339.08M348.6 337.99L350.9 337.99M347.3 337.02L350.9 337.02M348.6 330.65L350.9 330.65M348.6 326.92L350.9 326.92M348.6 324.28L350.9 324.28M348.6 322.22L350.9 322.22M348.6 320.55L350.9 320.55M348.6 319.13L350.9 319.13M348.6 317.9L350.9 317.9M348.6 316.82L350.9 316.82M347.3 315.85L350.9 315.85M348.6 309.48L350.9 309.48M348.6 305.75L350.9 305.75M348.6 303.1L350.9 303.1M348.6 301.05L350.9 301.05M348.6 299.37L350.9 299.37M348.6 297.96L350.9 297.96M348.6 296.73L350.9 296.73M348.6 295.64L350.9 295.64M347.3 294.67L350.9 294.67M348.6 288.3L350.9 288.3M348.6 284.57L350.9 284.57M348.6 281.93L350.9 281.93M348.6 279.87L350.9 279.87M348.6 278.2L350.9 278.2M348.6 276.78L350.9 276.78M348.6 275.55L350.9 275.55M348.6 274.47L350.9 274.47M347.3 273.5L350.9 273.5" stroke="#000" stroke-width="0.85" fill="none"/>
<text transform="translate(347.1 368.5) scale(0.8 1)" font-size="6.9" stroke="#000" stroke-width="0.15">10<tspan dy="-2.4" dx="0.6" font-size="6.3">0</tspan></text>
<text transform="translate(345.3 362.4) rotate(-90) scale(0.72 1)" font-size="6.9" stroke="#000" stroke-width="0.15">10<tspan dy="-3.5" dx="0.8" font-size="6.1">0</tspan></text>
<text transform="translate(368.1 368.5) scale(0.8 1)" font-size="6.9" stroke="#000" stroke-width="0.15">10<tspan dy="-2.4" dx="0.6" font-size="6.3">1</tspan></text>
<text transform="translate(345.3 341.22) rotate(-90) scale(0.72 1)" font-size="6.9" stroke="#000" stroke-width="0.15">10<tspan dy="-3.5" dx="0.8" font-size="6.1">1</tspan></text>
<text transform="translate(389.1 368.5) scale(0.8 1)" font-size="6.9" stroke="#000" stroke-width="0.15">10<tspan dy="-2.4" dx="0.6" font-size="6.3">2</tspan></text>
<text transform="translate(345.3 320.05) rotate(-90) scale(0.72 1)" font-size="6.9" stroke="#000" stroke-width="0.15">10<tspan dy="-3.5" dx="0.8" font-size="6.1">2</tspan></text>
<text transform="translate(410.1 368.5) scale(0.8 1)" font-size="6.9" stroke="#000" stroke-width="0.15">10<tspan dy="-2.4" dx="0.6" font-size="6.3">3</tspan></text>
<text transform="translate(345.3 298.87) rotate(-90) scale(0.72 1)" font-size="6.9" stroke="#000" stroke-width="0.15">10<tspan dy="-3.5" dx="0.8" font-size="6.1">3</tspan></text>
<text transform="translate(431.1 368.5) scale(0.8 1)" font-size="6.9" stroke="#000" stroke-width="0.15">10<tspan dy="-2.4" dx="0.6" font-size="6.3">4</tspan></text>
<text transform="translate(345.3 277.7) rotate(-90) scale(0.72 1)" font-size="6.9" stroke="#000" stroke-width="0.15">10</text>
<text x="391.9" y="375.5" font-size="6.7" text-anchor="middle" fill="#111" stroke="#111" stroke-width="0.15">AnnexinV FITC</text>
<text x="335.9" y="316.9" font-size="6" text-anchor="middle" fill="#111" transform="rotate(-90 335.9 316.9)" stroke="#111" stroke-width="0.2">PI</text>
<line x1="360.9" y1="270.5" x2="412.9" y2="270.5" stroke="#a5a5a5" stroke-width="0.9" stroke-dasharray="1 1.6 2 1.2 1 2.2"/>
<path d="M421.9 395.3h1M431.9 397.3h1M419.9 398.3h1M419.9 399.3h1M421.9 399.3h2M427.9 399.3h1M414.9 400.3h1M418.9 400.3h1M421.9 400.3h1M423.9 400.3h4M428.9 400.3h1M433.9 400.3h1M414.9 401.3h1M417.9 401.3h3M421.9 401.3h1M423.9 401.3h1M418.9 402.3h2M422.9 402.3h2M425.9 402.3h2M428.9 402.3h1M430.9 402.3h2M415.9 403.3h3M421.9 403.3h4M426.9 403.3h2M430.9 403.3h2M429.9 404.3h1M432.9 404.3h1M412.9 405.3h1M415.9 405.3h2M409.9 406.3h1M411.9 406.3h1M414.9 406.3h2M432.9 406.3h1M409.9 407.3h1M413.9 407.3h2M432.9 407.3h1M414.9 408.3h1M432.9 408.3h2M413.9 409.3h1M433.9 409.3h1M404.9 410.3h1M414.9 410.3h1M432.9 410.3h2M414.9 411.3h1M431.9 411.3h1M412.9 412.3h1M415.9 412.3h2M431.9 412.3h3M409.9 413.3h1M417.9 413.3h3M430.9 413.3h3M413.9 414.3h1M415.9 414.3h2M420.9 414.3h1M431.9 414.3h1M414.9 415.3h1M416.9 415.3h1M420.9 415.3h1M422.9 415.3h1M431.9 415.3h1M409.9 416.3h1M416.9 416.3h1M420.9 416.3h2M424.9 416.3h1M427.9 416.3h5M411.9 417.3h1M417.9 417.3h1M423.9 417.3h2M429.9 417.3h1M431.9 417.3h1M417.9 418.3h1M421.9 418.3h1M424.9 418.3h1M428.9 418.3h1M431.9 418.3h1M417.9 419.3h2M421.9 419.3h1M425.9 419.3h2M415.9 420.3h1M421.9 420.3h1M424.9 420.3h2M430.9 420.3h1M412.9 421.3h1M414.9 421.3h1M425.9 421.3h1M431.9 421.3h1M413.9 422.3h1M424.9 422.3h1M430.9 422.3h1M425.9 424.3h1M431.9 425.3h1M415.9 426.3h1M423.9 426.3h1M425.9 426.3h1M407.9 427.3h1M427.9 427.3h1M430.9 427.3h1M423.9 428.3h1M425.9 428.3h1M428.9 428.3h1M430.9 428.3h1M421.9 429.3h1M427.9 429.3h1M429.9 429.3h1M425.9 430.3h1M427.9 430.3h1M430.9 430.3h1M425.9 431.3h1M430.9 431.3h1M418.9 432.3h1M423.9 432.3h1M429.9 432.3h2M421.9 433.3h1M426.9 433.3h1M430.9 433.3h1M424.9 434.3h1M429.9 434.3h3M423.9 435.3h1M425.9 435.3h1M430.9 435.3h2M424.9 436.3h2M429.9 436.3h2M433.9 436.3h1M426.9 437.3h1M429.9 437.3h1M423.9 438.3h1M427.9 438.3h1M429.9 439.3h1M428.9 440.3h2M423.9 441.3h1M424.9 442.3h1M428.9 442.3h1M404.9 444.3h1M414.9 444.3h1M417.9 444.3h1M419.9 444.3h1M423.9 444.3h1M425.9 444.3h1M433.9 444.3h1M413.9 445.3h1M421.9 445.3h1M425.9 445.3h1M430.9 445.3h1M420.9 446.3h1M422.9 446.3h1M428.9 446.3h1M416.9 447.3h1M419.9 447.3h2M424.9 447.3h1M427.9 447.3h1M430.9 447.3h1M416.9 448.3h1M419.9 448.3h2M423.9 448.3h1M426.9 448.3h1M413.9 449.3h1M415.9 449.3h1M418.9 449.3h1M421.9 449.3h2M425.9 449.3h2M412.9 450.3h1M417.9 450.3h2M420.9 450.3h1M422.9 450.3h1M424.9 450.3h2M407.9 451.3h1M414.9 451.3h2M417.9 451.3h2M420.9 451.3h1M423.9 451.3h1M426.9 451.3h1M415.9 452.3h1M418.9 452.3h1M423.9 452.3h1M425.9 452.3h1M407.9 453.3h1M424.9 453.3h1M417.9 454.3h1M419.9 454.3h3M427.9 454.3h1M410.9 455.3h1M420.9 455.3h1M427.9 455.3h1M429.9 455.3h1M431.9 455.3h1M409.9 456.3h1M414.9 456.3h1M423.9 456.3h1M415.9 457.3h1M420.9 457.3h2M423.9 457.3h1M427.9 457.3h1M411.9 458.3h1M415.9 458.3h1M417.9 458.3h2M420.9 458.3h1M427.9 458.3h1M407.9 459.3h1M412.9 459.3h1M417.9 459.3h1M420.9 459.3h1M422.9 459.3h2M412.9 460.3h2M420.9 460.3h1M425.9 460.3h1M427.9 460.3h1M413.9 461.3h1M416.9 461.3h1M419.9 461.3h1M422.9 461.3h1M426.9 461.3h3M413.9 462.3h1M416.9 462.3h1M418.9 462.3h2M422.9 462.3h4M405.9 463.3h1M412.9 463.3h5M420.9 463.3h1M422.9 463.3h1M425.9 463.3h1M428.9 464.3h1M433.9 464.3h1M410.9 465.3h4M421.9 465.3h1M426.9 465.3h3M412.9 466.3h1M423.9 466.3h1M426.9 466.3h1M429.9 466.3h1M412.9 467.3h1M424.9 467.3h2M407.9 468.3h1M413.9 468.3h1M417.9 468.3h2M425.9 468.3h1M408.9 469.3h1M416.9 469.3h1M419.9 469.3h1M411.9 470.3h1M414.9 470.3h1M417.9 470.3h1M426.9 470.3h1M411.9 471.3h1M413.9 471.3h2M426.9 471.3h1M428.9 471.3h1M431.9 471.3h1M403.9 472.3h1M412.9 472.3h2M415.9 472.3h1M424.9 472.3h1M427.9 472.3h4M410.9 473.3h1M412.9 473.3h1M414.9 473.3h1M406.9 474.3h1M408.9 474.3h1M410.9 474.3h1M413.9 474.3h1M415.9 474.3h1M423.9 474.3h3M427.9 474.3h1M410.9 475.3h6M422.9 475.3h4M430.9 475.3h1M412.9 476.3h1M414.9 476.3h1M416.9 476.3h1M421.9 476.3h1M426.9 476.3h1M429.9 476.3h1M412.9 477.3h3M416.9 477.3h1M418.9 477.3h5M425.9 477.3h2" stroke="#acacac" fill="none" shape-rendering="crispEdges"/>
<path d="M418.9 403.3h1M417.9 404.3h5M423.9 404.3h3M428.9 404.3h1M417.9 405.3h2M420.9 405.3h10M416.9 406.3h11M428.9 406.3h2M415.9 407.3h3M419.9 407.3h1M421.9 407.3h9M415.9 408.3h3M419.9 408.3h12M415.9 409.3h1M418.9 409.3h1M420.9 409.3h9M430.9 409.3h1M415.9 410.3h4M420.9 410.3h6M427.9 410.3h4M416.9 411.3h6M424.9 411.3h1M426.9 411.3h2M429.9 411.3h2M417.9 412.3h1M419.9 412.3h3M423.9 412.3h7M421.9 413.3h1M423.9 413.3h5M421.9 414.3h9M423.9 415.3h7M417.9 463.3h3M416.9 464.3h1M418.9 464.3h1M420.9 464.3h1M414.9 465.3h7M414.9 466.3h1M416.9 466.3h5M413.9 467.3h3M418.9 467.3h1M420.9 467.3h1M422.9 467.3h1M414.9 468.3h2M420.9 468.3h1M422.9 468.3h3M415.9 469.3h1M420.9 469.3h4M415.9 470.3h1M419.9 470.3h1M421.9 470.3h4M415.9 471.3h4M420.9 471.3h4M417.9 472.3h7M416.9 473.3h4M416.9 474.3h1M418.9 474.3h3M416.9 475.3h5M417.9 476.3h2" stroke="#888888" fill="none" shape-rendering="crispEdges"/>
<rect x="350.9" y="393.8" width="84" height="84.7" fill="none" stroke="#000" stroke-width="1.1"/>
<line x1="387.5" y1="393.8" x2="387.5" y2="478.5" stroke="#111" stroke-width="1"/>
<line x1="350.9" y1="440.7" x2="434.9" y2="440.7" stroke="#111" stroke-width="1"/>
<path d="M350.9 478.5L350.9 482.1M357.22 478.5L357.22 480.8M360.92 478.5L360.92 480.8M363.54 478.5L363.54 480.8M365.58 478.5L365.58 480.8M367.24 478.5L367.24 480.8M368.65 478.5L368.65 480.8M369.86 478.5L369.86 480.8M370.94 478.5L370.94 480.8M371.9 478.5L371.9 482.1M378.22 478.5L378.22 480.8M381.92 478.5L381.92 480.8M384.54 478.5L384.54 480.8M386.58 478.5L386.58 480.8M388.24 478.5L388.24 480.8M389.65 478.5L389.65 480.8M390.86 478.5L390.86 480.8M391.94 478.5L391.94 480.8M392.9 478.5L392.9 482.1M399.22 478.5L399.22 480.8M402.92 478.5L402.92 480.8M405.54 478.5L405.54 480.8M407.58 478.5L407.58 480.8M409.24 478.5L409.24 480.8M410.65 478.5L410.65 480.8M411.86 478.5L411.86 480.8M412.94 478.5L412.94 480.8M413.9 478.5L413.9 482.1M420.22 478.5L420.22 480.8M423.92 478.5L423.92 480.8M426.54 478.5L426.54 480.8M428.58 478.5L428.58 480.8M430.24 478.5L430.24 480.8M431.65 478.5L431.65 480.8M432.86 478.5L432.86 480.8M433.94 478.5L433.94 480.8M434.9 478.5L434.9 482.1M347.3 478.5L350.9 478.5M348.6 472.13L350.9 472.13M348.6 468.4L350.9 468.4M348.6 465.75L350.9 465.75M348.6 463.7L350.9 463.7M348.6 462.02L350.9 462.02M348.6 460.61L350.9 460.61M348.6 459.38L350.9 459.38M348.6 458.29L350.9 458.29M347.3 457.32L350.9 457.32M348.6 450.95L350.9 450.95M348.6 447.22L350.9 447.22M348.6 444.58L350.9 444.58M348.6 442.52L350.9 442.52M348.6 440.85L350.9 440.85M348.6 439.43L350.9 439.43M348.6 438.2L350.9 438.2M348.6 437.12L350.9 437.12M347.3 436.15L350.9 436.15M348.6 429.78L350.9 429.78M348.6 426.05L350.9 426.05M348.6 423.4L350.9 423.4M348.6 421.35L350.9 421.35M348.6 419.67L350.9 419.67M348.6 418.26L350.9 418.26M348.6 417.03L350.9 417.03M348.6 415.94L350.9 415.94M347.3 414.98L350.9 414.98M348.6 408.6L350.9 408.6M348.6 404.87L350.9 404.87M348.6 402.23L350.9 402.23M348.6 400.17L350.9 400.17M348.6 398.5L350.9 398.5M348.6 397.08L350.9 397.08M348.6 395.85L350.9 395.85M348.6 394.77L350.9 394.77M347.3 393.8L350.9 393.8" stroke="#000" stroke-width="0.85" fill="none"/>
<text transform="translate(347.1 488.8) scale(0.8 1)" font-size="6.9" stroke="#000" stroke-width="0.15">10<tspan dy="-2.4" dx="0.6" font-size="6.3">0</tspan></text>
<text transform="translate(345.3 482.7) rotate(-90) scale(0.72 1)" font-size="6.9" stroke="#000" stroke-width="0.15">10<tspan dy="-3.5" dx="0.8" font-size="6.1">0</tspan></text>
<text transform="translate(368.1 488.8) scale(0.8 1)" font-size="6.9" stroke="#000" stroke-width="0.15">10<tspan dy="-2.4" dx="0.6" font-size="6.3">1</tspan></text>
<text transform="translate(345.3 461.52) rotate(-90) scale(0.72 1)" font-size="6.9" stroke="#000" stroke-width="0.15">10<tspan dy="-3.5" dx="0.8" font-size="6.1">1</tspan></text>
<text transform="translate(389.1 488.8) scale(0.8 1)" font-size="6.9" stroke="#000" stroke-width="0.15">10<tspan dy="-2.4" dx="0.6" font-size="6.3">2</tspan></text>
<text transform="translate(345.3 440.35) rotate(-90) scale(0.72 1)" font-size="6.9" stroke="#000" stroke-width="0.15">10<tspan dy="-3.5" dx="0.8" font-size="6.1">2</tspan></text>
<text transform="translate(410.1 488.8) scale(0.8 1)" font-size="6.9" stroke="#000" stroke-width="0.15">10<tspan dy="-2.4" dx="0.6" font-size="6.3">3</tspan></text>
<text transform="translate(345.3 419.18) rotate(-90) scale(0.72 1)" font-size="6.9" stroke="#000" stroke-width="0.15">10<tspan dy="-3.5" dx="0.8" font-size="6.1">3</tspan></text>
<text transform="translate(431.1 488.8) scale(0.8 1)" font-size="6.9" stroke="#000" stroke-width="0.15">10<tspan dy="-2.4" dx="0.6" font-size="6.3">4</tspan></text>
<text transform="translate(345.3 398) rotate(-90) scale(0.72 1)" font-size="6.9" stroke="#000" stroke-width="0.15">10</text>
<text x="391.9" y="495.8" font-size="6.7" text-anchor="middle" fill="#111" stroke="#111" stroke-width="0.15">Annexin FITC</text>
<text x="335.9" y="437.2" font-size="6" text-anchor="middle" fill="#111" transform="rotate(-90 335.9 437.2)" stroke="#111" stroke-width="0.2">PI</text>
<line x1="360.9" y1="390.8" x2="412.9" y2="390.8" stroke="#a5a5a5" stroke-width="0.9" stroke-dasharray="1 1.6 2 1.2 1 2.2"/>
<path d="M426.9 516.3h1M419.9 517.3h1M415.9 519.3h1M426.9 519.3h2M410.9 520.3h1M420.9 520.3h1M433.9 520.3h1M420.9 521.3h1M432.9 521.3h1M416.9 522.3h1M418.9 522.3h1M422.9 522.3h2M428.9 522.3h1M413.9 523.3h1M416.9 523.3h1M426.9 523.3h1M428.9 523.3h2M415.9 524.3h1M414.9 525.3h1M409.9 526.3h1M411.9 526.3h1M413.9 526.3h1M406.9 527.3h1M410.9 527.3h1M412.9 528.3h1M408.9 529.3h1M412.9 529.3h1M411.9 530.3h1M413.9 530.3h1M409.9 531.3h1M414.9 531.3h1M408.9 532.3h1M410.9 532.3h1M414.9 532.3h2M411.9 533.3h1M414.9 533.3h1M416.9 533.3h1M432.9 533.3h1M412.9 534.3h1M416.9 534.3h2M419.9 534.3h1M421.9 534.3h2M425.9 534.3h1M429.9 534.3h1M431.9 534.3h1M433.9 534.3h1M413.9 535.3h1M417.9 535.3h1M420.9 535.3h1M422.9 535.3h1M425.9 535.3h1M427.9 535.3h1M416.9 536.3h1M419.9 536.3h3M423.9 536.3h1M425.9 536.3h1M429.9 536.3h2M421.9 537.3h4M426.9 537.3h1M432.9 537.3h1M424.9 538.3h1M426.9 538.3h1M422.9 539.3h1M427.9 539.3h2M420.9 540.3h1M423.9 540.3h2M426.9 540.3h1M428.9 540.3h1M416.9 541.3h1M419.9 541.3h3M425.9 541.3h1M429.9 541.3h1M414.9 542.3h1M419.9 542.3h3M409.9 543.3h1M415.9 543.3h1M419.9 543.3h1M421.9 543.3h3M425.9 543.3h1M419.9 544.3h1M425.9 544.3h1M411.9 545.3h1M423.9 545.3h1M433.9 545.3h1M419.9 546.3h2M422.9 546.3h2M426.9 546.3h1M418.9 547.3h1M423.9 547.3h1M426.9 547.3h2M431.9 547.3h1M412.9 548.3h1M418.9 548.3h1M425.9 548.3h2M428.9 548.3h2M421.9 549.3h2M425.9 549.3h1M428.9 549.3h2M410.9 550.3h1M416.9 550.3h1M420.9 550.3h2M423.9 550.3h3M396.9 551.3h1M420.9 551.3h2M425.9 551.3h2M431.9 551.3h1M423.9 552.3h4M429.9 552.3h1M417.9 553.3h3M422.9 553.3h2M428.9 553.3h1M430.9 553.3h1M417.9 554.3h1M425.9 554.3h2M416.9 555.3h1M423.9 555.3h1M414.9 556.3h3M424.9 556.3h2M409.9 557.3h1M417.9 557.3h2M420.9 558.3h1M422.9 558.3h1M414.9 559.3h1M421.9 559.3h1M425.9 559.3h2M413.9 560.3h1M419.9 560.3h1M422.9 560.3h1M429.9 560.3h1M420.9 561.3h1M424.9 561.3h2M430.9 562.3h1M410.9 563.3h1M413.9 563.3h1M415.9 563.3h1M418.9 563.3h1M422.9 563.3h1M426.9 563.3h3M430.9 563.3h1M408.9 564.3h1M410.9 564.3h2M414.9 564.3h4M420.9 564.3h1M422.9 564.3h1M424.9 564.3h1M410.9 565.3h2M413.9 565.3h2M417.9 565.3h1M420.9 565.3h6M429.9 565.3h2M410.9 566.3h2M415.9 566.3h2M418.9 566.3h1M421.9 566.3h1M424.9 566.3h1M428.9 566.3h1M430.9 566.3h1M406.9 567.3h1M410.9 567.3h6M417.9 567.3h2M420.9 567.3h3M424.9 567.3h6M424.9 568.3h2M427.9 568.3h1M429.9 568.3h1M431.9 568.3h1M411.9 569.3h1M415.9 569.3h3M419.9 569.3h1M421.9 569.3h3M425.9 569.3h2M432.9 569.3h1M404.9 570.3h1M413.9 570.3h1M415.9 570.3h2M418.9 570.3h1M421.9 570.3h4M404.9 571.3h2M413.9 571.3h2M416.9 571.3h1M418.9 571.3h4M423.9 571.3h1M425.9 571.3h2M428.9 571.3h2M431.9 571.3h1M410.9 572.3h2M413.9 572.3h2M419.9 572.3h2M422.9 572.3h2M425.9 572.3h2M413.9 573.3h1M415.9 573.3h1M417.9 573.3h2M427.9 573.3h1M433.9 573.3h1M408.9 574.3h2M412.9 574.3h3M417.9 574.3h1M419.9 574.3h1M423.9 574.3h2M427.9 574.3h2M412.9 575.3h1M415.9 575.3h1M417.9 575.3h2M423.9 575.3h3M427.9 575.3h1M430.9 575.3h1M405.9 576.3h1M409.9 576.3h1M412.9 576.3h2M418.9 576.3h1M423.9 576.3h3M429.9 576.3h1M403.9 577.3h1M411.9 577.3h1M413.9 577.3h1M416.9 577.3h2M423.9 577.3h1M425.9 577.3h1M407.9 578.3h1M409.9 578.3h1M414.9 578.3h1M416.9 578.3h2M425.9 578.3h1M427.9 578.3h1M405.9 579.3h1M408.9 579.3h1M412.9 579.3h1M415.9 579.3h1M420.9 579.3h1M422.9 579.3h2M426.9 579.3h1M428.9 579.3h1M430.9 579.3h1M433.9 579.3h1M412.9 580.3h1M415.9 580.3h1M417.9 580.3h2M420.9 580.3h1M423.9 580.3h1M425.9 580.3h1M427.9 580.3h1M429.9 580.3h1M408.9 581.3h2M411.9 581.3h1M415.9 581.3h1M417.9 581.3h1M419.9 581.3h5M425.9 581.3h2M430.9 581.3h1M415.9 582.3h1M417.9 582.3h2M422.9 582.3h3M426.9 582.3h1M432.9 582.3h1M406.9 583.3h1M412.9 583.3h1M415.9 583.3h7M424.9 583.3h1M426.9 583.3h1M428.9 583.3h1M410.9 584.3h1M412.9 584.3h1M414.9 584.3h1M419.9 584.3h1M423.9 584.3h5M429.9 584.3h3M415.9 585.3h1M425.9 585.3h2M428.9 585.3h1M414.9 586.3h1M424.9 586.3h2M428.9 586.3h1M432.9 586.3h1M409.9 587.3h1M425.9 587.3h5M409.9 588.3h1M412.9 588.3h3M424.9 588.3h1M426.9 588.3h1M404.9 589.3h1M411.9 589.3h1M413.9 589.3h2M424.9 589.3h1M426.9 589.3h1M428.9 589.3h2M432.9 589.3h1M408.9 590.3h3M423.9 590.3h4M431.9 590.3h1M410.9 591.3h4M423.9 591.3h1M427.9 591.3h1M407.9 592.3h2M410.9 592.3h1M412.9 592.3h2M423.9 592.3h2M427.9 592.3h1M409.9 593.3h2M424.9 593.3h4M429.9 593.3h1M431.9 593.3h1M408.9 594.3h1M410.9 594.3h1M412.9 594.3h1M414.9 594.3h1M423.9 594.3h1M425.9 594.3h1M428.9 594.3h1M430.9 594.3h2M433.9 594.3h1M405.9 595.3h1M407.9 595.3h1M411.9 595.3h4M422.9 595.3h1M425.9 595.3h1M430.9 595.3h1M432.9 595.3h1M405.9 596.3h1M410.9 596.3h1M413.9 596.3h1M426.9 596.3h1M430.9 596.3h1M406.9 597.3h1M413.9 597.3h2M416.9 597.3h2M423.9 597.3h3M428.9 597.3h1M405.9 598.3h1M407.9 598.3h1M410.9 598.3h1M412.9 598.3h1M415.9 598.3h1M418.9 598.3h1M421.9 598.3h1M424.9 598.3h3M428.9 598.3h1M430.9 598.3h1" stroke="#acacac" fill="none" shape-rendering="crispEdges"/>
<path d="M417.9 523.3h1M419.9 523.3h1M421.9 523.3h5M416.9 524.3h5M422.9 524.3h3M426.9 524.3h2M429.9 524.3h3M418.9 525.3h8M427.9 525.3h7M414.9 526.3h3M418.9 526.3h16M413.9 527.3h17M431.9 527.3h3M413.9 528.3h20M414.9 529.3h20M415.9 530.3h5M421.9 530.3h13M417.9 531.3h17M416.9 532.3h7M424.9 532.3h9M419.9 533.3h1M421.9 533.3h2M426.9 533.3h4M426.9 534.3h1M428.9 534.3h1M422.9 566.3h2M422.9 571.3h1M420.9 573.3h2M420.9 574.3h3M419.9 575.3h2M419.9 576.3h4M418.9 577.3h3M422.9 577.3h1M418.9 578.3h4M421.9 580.3h1M417.9 584.3h1M416.9 585.3h8M415.9 586.3h3M419.9 586.3h1M421.9 586.3h3M415.9 587.3h4M420.9 587.3h3M415.9 588.3h9M415.9 589.3h4M420.9 589.3h2M423.9 589.3h1M415.9 590.3h5M421.9 590.3h1M414.9 591.3h4M419.9 591.3h4M414.9 592.3h2M418.9 592.3h3M422.9 592.3h1M414.9 593.3h9M416.9 594.3h3M421.9 594.3h2M415.9 595.3h7M417.9 596.3h3M421.9 596.3h1M419.9 597.3h4M419.9 598.3h1" stroke="#888888" fill="none" shape-rendering="crispEdges"/>
<rect x="350.9" y="514.8" width="84" height="84.7" fill="none" stroke="#000" stroke-width="1.1"/>
<line x1="387.5" y1="514.8" x2="387.5" y2="599.5" stroke="#111" stroke-width="1"/>
<line x1="350.9" y1="561.7" x2="434.9" y2="561.7" stroke="#111" stroke-width="1"/>
<path d="M350.9 599.5L350.9 603.1M357.22 599.5L357.22 601.8M360.92 599.5L360.92 601.8M363.54 599.5L363.54 601.8M365.58 599.5L365.58 601.8M367.24 599.5L367.24 601.8M368.65 599.5L368.65 601.8M369.86 599.5L369.86 601.8M370.94 599.5L370.94 601.8M371.9 599.5L371.9 603.1M378.22 599.5L378.22 601.8M381.92 599.5L381.92 601.8M384.54 599.5L384.54 601.8M386.58 599.5L386.58 601.8M388.24 599.5L388.24 601.8M389.65 599.5L389.65 601.8M390.86 599.5L390.86 601.8M391.94 599.5L391.94 601.8M392.9 599.5L392.9 603.1M399.22 599.5L399.22 601.8M402.92 599.5L402.92 601.8M405.54 599.5L405.54 601.8M407.58 599.5L407.58 601.8M409.24 599.5L409.24 601.8M410.65 599.5L410.65 601.8M411.86 599.5L411.86 601.8M412.94 599.5L412.94 601.8M413.9 599.5L413.9 603.1M420.22 599.5L420.22 601.8M423.92 599.5L423.92 601.8M426.54 599.5L426.54 601.8M428.58 599.5L428.58 601.8M430.24 599.5L430.24 601.8M431.65 599.5L431.65 601.8M432.86 599.5L432.86 601.8M433.94 599.5L433.94 601.8M434.9 599.5L434.9 603.1M347.3 599.5L350.9 599.5M348.6 593.13L350.9 593.13M348.6 589.4L350.9 589.4M348.6 586.75L350.9 586.75M348.6 584.7L350.9 584.7M348.6 583.02L350.9 583.02M348.6 581.61L350.9 581.61M348.6 580.38L350.9 580.38M348.6 579.29L350.9 579.29M347.3 578.33L350.9 578.33M348.6 571.95L350.9 571.95M348.6 568.22L350.9 568.22M348.6 565.58L350.9 565.58M348.6 563.52L350.9 563.52M348.6 561.85L350.9 561.85M348.6 560.43L350.9 560.43M348.6 559.2L350.9 559.2M348.6 558.12L350.9 558.12M347.3 557.15L350.9 557.15M348.6 550.78L350.9 550.78M348.6 547.05L350.9 547.05M348.6 544.4L350.9 544.4M348.6 542.35L350.9 542.35M348.6 540.67L350.9 540.67M348.6 539.26L350.9 539.26M348.6 538.03L350.9 538.03M348.6 536.94L350.9 536.94M347.3 535.98L350.9 535.98M348.6 529.6L350.9 529.6M348.6 525.87L350.9 525.87M348.6 523.23L350.9 523.23M348.6 521.17L350.9 521.17M348.6 519.5L350.9 519.5M348.6 518.08L350.9 518.08M348.6 516.85L350.9 516.85M348.6 515.77L350.9 515.77M347.3 514.8L350.9 514.8" stroke="#000" stroke-width="0.85" fill="none"/>
<text transform="translate(347.1 609.8) scale(0.8 1)" font-size="6.9" stroke="#000" stroke-width="0.15">10<tspan dy="-2.4" dx="0.6" font-size="6.3">0</tspan></text>
<text transform="translate(345.3 603.7) rotate(-90) scale(0.72 1)" font-size="6.9" stroke="#000" stroke-width="0.15">10<tspan dy="-3.5" dx="0.8" font-size="6.1">0</tspan></text>
<text transform="translate(368.1 609.8) scale(0.8 1)" font-size="6.9" stroke="#000" stroke-width="0.15">10<tspan dy="-2.4" dx="0.6" font-size="6.3">1</tspan></text>
<text transform="translate(345.3 582.53) rotate(-90) scale(0.72 1)" font-size="6.9" stroke="#000" stroke-width="0.15">10<tspan dy="-3.5" dx="0.8" font-size="6.1">1</tspan></text>
<text transform="translate(389.1 609.8) scale(0.8 1)" font-size="6.9" stroke="#000" stroke-width="0.15">10<tspan dy="-2.4" dx="0.6" font-size="6.3">2</tspan></text>
<text transform="translate(345.3 561.35) rotate(-90) scale(0.72 1)" font-size="6.9" stroke="#000" stroke-width="0.15">10<tspan dy="-3.5" dx="0.8" font-size="6.1">2</tspan></text>
<text transform="translate(410.1 609.8) scale(0.8 1)" font-size="6.9" stroke="#000" stroke-width="0.15">10<tspan dy="-2.4" dx="0.6" font-size="6.3">3</tspan></text>
<text transform="translate(345.3 540.18) rotate(-90) scale(0.72 1)" font-size="6.9" stroke="#000" stroke-width="0.15">10<tspan dy="-3.5" dx="0.8" font-size="6.1">3</tspan></text>
<text transform="translate(431.1 609.8) scale(0.8 1)" font-size="6.9" stroke="#000" stroke-width="0.15">10<tspan dy="-2.4" dx="0.6" font-size="6.3">4</tspan></text>
<text transform="translate(345.3 519) rotate(-90) scale(0.72 1)" font-size="6.9" stroke="#000" stroke-width="0.15">10</text>
<text x="391.9" y="616.8" font-size="6.7" text-anchor="middle" fill="#111" stroke="#111" stroke-width="0.15">Annexin FITC</text>
<text x="335.9" y="558.2" font-size="6" text-anchor="middle" fill="#111" transform="rotate(-90 335.9 558.2)" stroke="#111" stroke-width="0.2">PI</text>
<line x1="360.9" y1="511.8" x2="412.9" y2="511.8" stroke="#a5a5a5" stroke-width="0.9" stroke-dasharray="1 1.6 2 1.2 1 2.2"/>
<path d="M414.9 637.4h1M417.9 639.4h2M425.9 639.4h2M419.9 640.4h2M422.9 640.4h1M417.9 641.4h2M421.9 641.4h2M427.9 641.4h2M430.9 641.4h1M412.9 642.4h4M422.9 642.4h3M407.9 643.4h1M414.9 643.4h1M417.9 643.4h1M421.9 643.4h3M426.9 643.4h1M430.9 643.4h2M412.9 644.4h1M415.9 644.4h2M423.9 644.4h1M425.9 644.4h1M427.9 644.4h4M414.9 645.4h1M428.9 645.4h1M432.9 645.4h1M410.9 646.4h3M412.9 647.4h1M430.9 647.4h1M432.9 647.4h2M409.9 648.4h1M411.9 648.4h1M431.9 648.4h1M433.9 648.4h1M406.9 649.4h1M412.9 649.4h1M431.9 649.4h1M433.9 650.4h1M412.9 651.4h1M431.9 651.4h1M407.9 652.4h1M412.9 652.4h2M431.9 652.4h1M433.9 652.4h1M402.9 653.4h1M410.9 653.4h1M429.9 653.4h1M405.9 654.4h1M412.9 654.4h1M428.9 654.4h1M430.9 654.4h2M408.9 655.4h1M412.9 655.4h1M414.9 655.4h1M416.9 655.4h1M427.9 655.4h1M429.9 655.4h1M431.9 655.4h2M412.9 656.4h5M427.9 656.4h3M412.9 657.4h2M415.9 657.4h1M417.9 657.4h1M419.9 657.4h1M421.9 657.4h2M424.9 657.4h1M431.9 657.4h1M412.9 658.4h1M414.9 658.4h1M417.9 658.4h2M423.9 658.4h1M426.9 658.4h1M428.9 658.4h1M412.9 659.4h1M423.9 659.4h1M413.9 660.4h1M415.9 660.4h1M424.9 660.4h1M433.9 660.4h1M413.9 661.4h1M415.9 661.4h1M424.9 661.4h1M426.9 661.4h2M413.9 662.4h1M415.9 662.4h1M420.9 662.4h1M429.9 662.4h1M411.9 663.4h1M414.9 663.4h1M419.9 663.4h1M421.9 663.4h1M426.9 663.4h1M408.9 664.4h1M410.9 664.4h1M417.9 664.4h1M419.9 664.4h3M427.9 664.4h1M433.9 664.4h1M410.9 665.4h2M416.9 665.4h1M400.9 666.4h1M408.9 666.4h1M411.9 666.4h1M416.9 666.4h1M425.9 666.4h3M398.9 667.4h1M414.9 668.4h3M420.9 668.4h4M412.9 669.4h3M416.9 669.4h1M418.9 669.4h1M420.9 669.4h2M423.9 669.4h1M411.9 670.4h1M414.9 670.4h2M418.9 670.4h1M423.9 670.4h1M406.9 671.4h1M422.9 671.4h1M429.9 671.4h2M401.9 672.4h1M417.9 672.4h2M422.9 672.4h3M418.9 673.4h1M420.9 673.4h1M422.9 673.4h1M425.9 673.4h1M428.9 673.4h1M414.9 674.4h1M420.9 674.4h1M419.9 675.4h1M421.9 675.4h2M424.9 675.4h3M409.9 676.4h2M412.9 676.4h1M415.9 676.4h1M418.9 676.4h3M423.9 676.4h1M415.9 677.4h2M420.9 677.4h1M422.9 677.4h1M406.9 678.4h1M413.9 678.4h1M417.9 678.4h1M420.9 678.4h1M423.9 678.4h1M410.9 679.4h1M421.9 679.4h1M409.9 680.4h2M413.9 680.4h2M423.9 680.4h1M418.9 681.4h2M422.9 681.4h2M412.9 682.4h1M414.9 682.4h1M417.9 682.4h1M422.9 682.4h1M427.9 682.4h3M416.9 683.4h1M405.9 684.4h1M409.9 684.4h2M415.9 684.4h2M418.9 684.4h1M422.9 684.4h2M425.9 684.4h1M427.9 684.4h1M429.9 684.4h1M402.9 685.4h1M406.9 685.4h2M409.9 685.4h1M411.9 685.4h2M415.9 685.4h4M420.9 685.4h4M428.9 685.4h1M430.9 685.4h1M410.9 686.4h1M413.9 686.4h3M417.9 686.4h2M423.9 686.4h2M426.9 686.4h1M431.9 686.4h1M405.9 687.4h1M409.9 687.4h1M411.9 687.4h3M415.9 687.4h1M417.9 687.4h1M422.9 687.4h3M426.9 687.4h1M410.9 688.4h1M414.9 688.4h1M419.9 688.4h1M422.9 688.4h1M426.9 688.4h1M429.9 688.4h2M404.9 689.4h1M408.9 689.4h1M410.9 689.4h2M419.9 689.4h2M422.9 689.4h1M425.9 689.4h1M427.9 689.4h1M432.9 689.4h1M405.9 690.4h1M412.9 690.4h2M423.9 690.4h1M431.9 690.4h1M411.9 691.4h3M422.9 691.4h2M425.9 691.4h1M429.9 691.4h1M404.9 692.4h2M407.9 692.4h3M413.9 692.4h1M417.9 692.4h1M424.9 692.4h1M426.9 692.4h1M428.9 692.4h1M405.9 693.4h1M409.9 693.4h1M411.9 693.4h2M415.9 693.4h1M423.9 693.4h1M425.9 693.4h2M428.9 693.4h1M411.9 694.4h2M416.9 694.4h1M423.9 694.4h1M425.9 694.4h2M428.9 694.4h1M405.9 695.4h1M408.9 695.4h1M410.9 695.4h3M422.9 695.4h1M424.9 695.4h2M427.9 695.4h1M402.9 696.4h1M408.9 696.4h1M411.9 696.4h3M422.9 696.4h1M425.9 696.4h1M408.9 697.4h3M413.9 697.4h1M415.9 697.4h2M422.9 697.4h3M427.9 697.4h1M429.9 697.4h1M412.9 698.4h1M414.9 698.4h2M418.9 698.4h1M423.9 698.4h1M426.9 698.4h1M403.9 699.4h1M407.9 699.4h1M411.9 699.4h1M417.9 699.4h1M424.9 699.4h2M397.9 700.4h2M408.9 700.4h1M410.9 700.4h4M415.9 700.4h1M425.9 700.4h1M428.9 700.4h1M430.9 700.4h1M404.9 701.4h1M406.9 701.4h1M408.9 701.4h3M424.9 701.4h2M427.9 701.4h1M431.9 701.4h1M398.9 702.4h1M404.9 702.4h1M406.9 702.4h1M409.9 702.4h2M412.9 702.4h1M426.9 702.4h1M428.9 702.4h1M406.9 703.4h1M408.9 703.4h3M424.9 703.4h1M426.9 703.4h3M432.9 703.4h1M403.9 704.4h2M407.9 704.4h2M428.9 704.4h1M393.9 705.4h1M409.9 705.4h1M428.9 705.4h1M405.9 706.4h3M426.9 706.4h1M428.9 706.4h2M390.9 707.4h1M404.9 707.4h1M428.9 707.4h1M404.9 708.4h2M407.9 708.4h2M423.9 708.4h2M427.9 708.4h1M429.9 708.4h1M396.9 709.4h1M405.9 709.4h1M426.9 709.4h2M429.9 709.4h1M431.9 709.4h1M403.9 710.4h1M406.9 710.4h2M423.9 710.4h1M426.9 710.4h2M429.9 710.4h1M399.9 711.4h1M402.9 711.4h1M406.9 711.4h1M425.9 711.4h2M403.9 712.4h5M426.9 712.4h1M424.9 713.4h1M426.9 713.4h2M431.9 713.4h1M403.9 714.4h1M405.9 714.4h2M424.9 714.4h1M427.9 714.4h1M430.9 714.4h1M406.9 715.4h3M423.9 715.4h1M426.9 715.4h1M404.9 716.4h1M406.9 716.4h1M408.9 716.4h1M424.9 716.4h1M428.9 716.4h1M431.9 716.4h1M408.9 717.4h1M425.9 717.4h1M427.9 717.4h2M405.9 718.4h3M409.9 718.4h1M424.9 718.4h1M427.9 718.4h1M429.9 718.4h2M404.9 719.4h1M409.9 719.4h2M423.9 719.4h4M429.9 719.4h2" stroke="#acacac" fill="none" shape-rendering="crispEdges"/>
<path d="M419.9 643.4h2M417.9 644.4h5M415.9 645.4h1M417.9 645.4h2M420.9 645.4h3M425.9 645.4h3M414.9 646.4h2M417.9 646.4h11M413.9 647.4h1M415.9 647.4h2M418.9 647.4h11M414.9 648.4h16M414.9 649.4h14M429.9 649.4h1M417.9 650.4h9M427.9 650.4h4M414.9 651.4h16M415.9 652.4h12M428.9 652.4h2M415.9 653.4h2M418.9 653.4h10M416.9 654.4h8M426.9 654.4h2M418.9 655.4h9M418.9 656.4h3M422.9 656.4h4M416.9 688.4h2M415.9 689.4h4M414.9 690.4h1M416.9 690.4h4M417.9 691.4h1M420.9 691.4h1M418.9 692.4h4M414.9 693.4h1M418.9 693.4h5M413.9 694.4h3M418.9 694.4h3M413.9 695.4h4M418.9 695.4h2M421.9 695.4h1M414.9 696.4h8M418.9 697.4h3M419.9 698.4h3M420.9 699.4h3M417.9 700.4h3M421.9 700.4h3M414.9 701.4h1M416.9 701.4h3M420.9 701.4h3M413.9 702.4h1M415.9 702.4h4M420.9 702.4h2M423.9 702.4h1M412.9 703.4h1M414.9 703.4h8M423.9 703.4h1M410.9 704.4h2M413.9 704.4h11M414.9 705.4h1M416.9 705.4h4M422.9 705.4h4M409.9 706.4h2M412.9 706.4h5M418.9 706.4h3M422.9 706.4h2M425.9 706.4h1M409.9 707.4h4M414.9 707.4h2M417.9 707.4h3M421.9 707.4h2M424.9 707.4h1M426.9 707.4h1M410.9 708.4h4M415.9 708.4h5M421.9 708.4h2M425.9 708.4h2M409.9 709.4h14M408.9 710.4h1M411.9 710.4h5M417.9 710.4h1M419.9 710.4h3M408.9 711.4h11M420.9 711.4h3M408.9 712.4h5M414.9 712.4h4M419.9 712.4h1M421.9 712.4h2M425.9 712.4h1M409.9 713.4h5M415.9 713.4h6M422.9 713.4h1M409.9 714.4h14M411.9 715.4h12M409.9 716.4h2M412.9 716.4h2M415.9 716.4h8M410.9 717.4h3M414.9 717.4h6M422.9 717.4h2M410.9 718.4h5M416.9 718.4h8M411.9 719.4h1M413.9 719.4h6M421.9 719.4h1" stroke="#888888" fill="none" shape-rendering="crispEdges"/>
<rect x="350.9" y="635.9" width="84" height="84.7" fill="none" stroke="#000" stroke-width="1.1"/>
<line x1="387.5" y1="635.9" x2="387.5" y2="720.6" stroke="#111" stroke-width="1"/>
<line x1="350.9" y1="682.8" x2="434.9" y2="682.8" stroke="#111" stroke-width="1"/>
<path d="M350.9 720.6L350.9 724.2M357.22 720.6L357.22 722.9M360.92 720.6L360.92 722.9M363.54 720.6L363.54 722.9M365.58 720.6L365.58 722.9M367.24 720.6L367.24 722.9M368.65 720.6L368.65 722.9M369.86 720.6L369.86 722.9M370.94 720.6L370.94 722.9M371.9 720.6L371.9 724.2M378.22 720.6L378.22 722.9M381.92 720.6L381.92 722.9M384.54 720.6L384.54 722.9M386.58 720.6L386.58 722.9M388.24 720.6L388.24 722.9M389.65 720.6L389.65 722.9M390.86 720.6L390.86 722.9M391.94 720.6L391.94 722.9M392.9 720.6L392.9 724.2M399.22 720.6L399.22 722.9M402.92 720.6L402.92 722.9M405.54 720.6L405.54 722.9M407.58 720.6L407.58 722.9M409.24 720.6L409.24 722.9M410.65 720.6L410.65 722.9M411.86 720.6L411.86 722.9M412.94 720.6L412.94 722.9M413.9 720.6L413.9 724.2M420.22 720.6L420.22 722.9M423.92 720.6L423.92 722.9M426.54 720.6L426.54 722.9M428.58 720.6L428.58 722.9M430.24 720.6L430.24 722.9M431.65 720.6L431.65 722.9M432.86 720.6L432.86 722.9M433.94 720.6L433.94 722.9M434.9 720.6L434.9 724.2M347.3 720.6L350.9 720.6M348.6 714.23L350.9 714.23M348.6 710.5L350.9 710.5M348.6 707.85L350.9 707.85M348.6 705.8L350.9 705.8M348.6 704.12L350.9 704.12M348.6 702.71L350.9 702.71M348.6 701.48L350.9 701.48M348.6 700.39L350.9 700.39M347.3 699.43L350.9 699.43M348.6 693.05L350.9 693.05M348.6 689.32L350.9 689.32M348.6 686.68L350.9 686.68M348.6 684.62L350.9 684.62M348.6 682.95L350.9 682.95M348.6 681.53L350.9 681.53M348.6 680.3L350.9 680.3M348.6 679.22L350.9 679.22M347.3 678.25L350.9 678.25M348.6 671.88L350.9 671.88M348.6 668.15L350.9 668.15M348.6 665.5L350.9 665.5M348.6 663.45L350.9 663.45M348.6 661.77L350.9 661.77M348.6 660.36L350.9 660.36M348.6 659.13L350.9 659.13M348.6 658.04L350.9 658.04M347.3 657.08L350.9 657.08M348.6 650.7L350.9 650.7M348.6 646.97L350.9 646.97M348.6 644.33L350.9 644.33M348.6 642.27L350.9 642.27M348.6 640.6L350.9 640.6M348.6 639.18L350.9 639.18M348.6 637.95L350.9 637.95M348.6 636.87L350.9 636.87M347.3 635.9L350.9 635.9" stroke="#000" stroke-width="0.85" fill="none"/>
<text transform="translate(347.1 730.9) scale(0.8 1)" font-size="6.9" stroke="#000" stroke-width="0.15">10<tspan dy="-2.4" dx="0.6" font-size="6.3">0</tspan></text>
<text transform="translate(345.3 724.8) rotate(-90) scale(0.72 1)" font-size="6.9" stroke="#000" stroke-width="0.15">10<tspan dy="-3.5" dx="0.8" font-size="6.1">0</tspan></text>
<text transform="translate(368.1 730.9) scale(0.8 1)" font-size="6.9" stroke="#000" stroke-width="0.15">10<tspan dy="-2.4" dx="0.6" font-size="6.3">1</tspan></text>
<text transform="translate(345.3 703.63) rotate(-90) scale(0.72 1)" font-size="6.9" stroke="#000" stroke-width="0.15">10<tspan dy="-3.5" dx="0.8" font-size="6.1">1</tspan></text>
<text transform="translate(389.1 730.9) scale(0.8 1)" font-size="6.9" stroke="#000" stroke-width="0.15">10<tspan dy="-2.4" dx="0.6" font-size="6.3">2</tspan></text>
<text transform="translate(345.3 682.45) rotate(-90) scale(0.72 1)" font-size="6.9" stroke="#000" stroke-width="0.15">10<tspan dy="-3.5" dx="0.8" font-size="6.1">2</tspan></text>
<text transform="translate(410.1 730.9) scale(0.8 1)" font-size="6.9" stroke="#000" stroke-width="0.15">10<tspan dy="-2.4" dx="0.6" font-size="6.3">3</tspan></text>
<text transform="translate(345.3 661.28) rotate(-90) scale(0.72 1)" font-size="6.9" stroke="#000" stroke-width="0.15">10<tspan dy="-3.5" dx="0.8" font-size="6.1">3</tspan></text>
<text transform="translate(431.1 730.9) scale(0.8 1)" font-size="6.9" stroke="#000" stroke-width="0.15">10<tspan dy="-2.4" dx="0.6" font-size="6.3">4</tspan></text>
<text transform="translate(345.3 640.1) rotate(-90) scale(0.72 1)" font-size="6.9" stroke="#000" stroke-width="0.15">10</text>
<text x="391.9" y="737.9" font-size="6.7" text-anchor="middle" fill="#111" stroke="#111" stroke-width="0.15">AnnexinFITC</text>
<text x="335.9" y="679.3" font-size="6" text-anchor="middle" fill="#111" transform="rotate(-90 335.9 679.3)" stroke="#111" stroke-width="0.2">PI</text>
<line x1="360.9" y1="632.9" x2="412.9" y2="632.9" stroke="#a5a5a5" stroke-width="0.9" stroke-dasharray="1 1.6 2 1.2 1 2.2"/>
<line x1="60.8" y1="355" x2="60.8" y2="469" stroke="#333" stroke-width="1.3"/>
<path d="M60.8 350.8L64.3 357.8L57.3 357.8Z" fill="#000"/>
<text x="66.2" y="570.2" font-size="14.3" font-weight="bold" transform="rotate(-90 66.2 570.2)">PKH-26+ CTL</text>
<line x1="60.8" y1="576" x2="60.8" y2="611.3" stroke="#333" stroke-width="1.3"/>
<line x1="199.6" y1="355" x2="199.6" y2="446" stroke="#333" stroke-width="1.3"/>
<path d="M199.6 351L203.1 358L196.1 358Z" fill="#000"/>
<text x="202.6" y="566.4" font-size="13.5" font-weight="bold" transform="rotate(-90 202.6 566.4)">propidium iodide</text>
<line x1="199.6" y1="575" x2="199.6" y2="611.3" stroke="#333" stroke-width="1.3"/>
<line x1="94.3" y1="755" x2="208" y2="755" stroke="#333" stroke-width="1.3"/>
<text x="217.3" y="760.4" font-size="13.5" font-weight="bold">annV-FITC</text>
<line x1="292.7" y1="755.3" x2="423" y2="755.3" stroke="#333" stroke-width="1.3"/>
<path d="M428.4 755.3L421.4 751.9L421.4 758.7Z" fill="#000"/>
<text x="1.6" y="793.8" font-size="23.5" font-weight="bold">C</text>
<text x="35.2" y="791.3" font-size="21.7" font-weight="bold">annV<tspan dy="-7.4" dx="0.6" font-size="12.7">neg</tspan></text>
<text x="35.6" y="952.8" font-size="21.7" font-weight="bold">annV<tspan dy="-7.4" dx="0.6" font-size="12.7">int</tspan></text>
<text x="35.6" y="1127.8" font-size="21.7" font-weight="bold">annV<tspan dy="-7.4" dx="0.6" font-size="12.7">high</tspan></text>
<text x="16" y="886.8" font-size="14.25" font-weight="bold" transform="rotate(-90 16 886.8)">Fl-3-area</text>
<text x="16" y="1053.4" font-size="14.25" font-weight="bold" transform="rotate(-90 16 1053.4)">Fl-3-area</text>
<text x="13.4" y="1230.2" font-size="14.25" font-weight="bold" transform="rotate(-90 13.4 1230.2)">Fl-3-area</text>
<text x="161.2" y="893.4" font-size="14.1" font-weight="bold" transform="rotate(-90 161.2 893.4)">FITC-dUTP</text>
<text x="161.2" y="1059.4" font-size="14.1" font-weight="bold" transform="rotate(-90 161.2 1059.4)">FITC-dUTP</text>
<text x="160.6" y="1231.8" font-size="14.1" font-weight="bold" transform="rotate(-90 160.6 1231.8)">FITC-dUTP</text>
<text x="309.3" y="889.4" font-size="13.9" font-weight="bold" transform="rotate(-90 309.3 889.4)">counts</text>
<text x="309.3" y="1055.2" font-size="13.9" font-weight="bold" transform="rotate(-90 309.3 1055.2)">counts</text>
<text x="309.3" y="1227.4" font-size="13.9" font-weight="bold" transform="rotate(-90 309.3 1227.4)">counts</text>
<text x="46.6" y="1275.3" font-size="14.1" font-weight="bold">Fl-3-width</text>
<text x="194" y="1275.3" font-size="14.3" font-weight="bold">Fl-3-area</text>
<text x="335.3" y="1275.3" font-size="14.2" font-weight="bold">FITC-dUTP</text>
<path d="M51.3 819.5h1M116.3 823.5h1M132.3 825.5h1M68.3 828.5h1M78.3 828.5h1M60.3 829.5h1M85.3 830.5h1M130.3 830.5h1M99.3 832.5h1M94.3 833.5h1M55.3 834.5h1M60.3 834.5h1M85.3 834.5h1M98.3 834.5h1M65.3 835.5h1M94.3 835.5h1M124.3 835.5h1M55.3 836.5h1M58.3 836.5h1M61.3 836.5h1M86.3 836.5h1M121.3 836.5h1M54.3 837.5h1M65.3 838.5h1M79.3 838.5h1M79.3 839.5h1M111.3 840.5h1M52.3 841.5h1M61.3 841.5h1M67.3 841.5h1M88.3 841.5h1M111.3 841.5h1M57.3 842.5h1M54.3 843.5h2M58.3 843.5h1M65.3 843.5h1M71.3 843.5h1M90.3 843.5h1M96.3 843.5h1M109.3 843.5h1M55.3 844.5h1M57.3 844.5h2M60.3 844.5h1M102.3 844.5h1M121.3 844.5h1M126.3 844.5h2M51.3 845.5h1M53.3 845.5h1M56.3 845.5h1M62.3 845.5h1M58.3 846.5h1M65.3 846.5h1M97.3 846.5h1M102.3 846.5h1M62.3 847.5h1M85.3 847.5h1M126.3 847.5h1M130.3 847.5h1M52.3 848.5h1M59.3 848.5h1M70.3 848.5h1M51.3 849.5h1M56.3 849.5h1M58.3 849.5h1M64.3 849.5h1M67.3 849.5h1M120.3 849.5h1M52.3 850.5h1M61.3 850.5h1M81.3 850.5h1M120.3 850.5h1M125.3 851.5h1M57.3 852.5h1M93.3 852.5h1M54.3 853.5h1M56.3 853.5h2M65.3 853.5h1M121.3 853.5h1M126.3 853.5h1M50.3 854.5h1M55.3 854.5h1M58.3 854.5h1M79.3 854.5h1M50.3 855.5h1M58.3 855.5h1M71.3 855.5h1M82.3 855.5h1M48.3 856.5h1M53.3 856.5h1M63.3 856.5h1M79.3 856.5h1M106.3 856.5h1M111.3 856.5h1M124.3 856.5h1M67.3 857.5h1M55.3 858.5h2M58.3 858.5h1M51.3 859.5h1M91.3 859.5h1M112.3 859.5h1M135.3 859.5h1M46.3 860.5h1M50.3 860.5h1M63.3 860.5h1M76.3 860.5h1M90.3 860.5h1M52.3 861.5h1M56.3 861.5h1M58.3 861.5h1M63.3 861.5h1M66.3 861.5h1M113.3 861.5h1M48.3 862.5h2M63.3 862.5h1M67.3 862.5h1M72.3 862.5h1M99.3 862.5h1M116.3 862.5h1M47.3 863.5h1M49.3 863.5h1M91.3 863.5h1M51.3 864.5h1M54.3 864.5h2M59.3 864.5h1M114.3 864.5h1M51.3 865.5h1M53.3 865.5h1M63.3 865.5h1M132.3 865.5h2M55.3 866.5h3M66.3 866.5h1M97.3 866.5h1M47.3 867.5h1M98.3 867.5h1M128.3 867.5h1M52.3 868.5h1M48.3 870.5h3M49.3 878.5h1M53.3 878.5h1M120.3 885.5h1" stroke="#808080" fill="none" shape-rendering="crispEdges"/>
<line x1="38.6" y1="894.5" x2="50" y2="849" stroke="#6e6e6e" stroke-width="2.5" stroke-linecap="round"/>
<line x1="39" y1="892.5" x2="49.6" y2="853" stroke="#484848" stroke-width="1.3" stroke-dasharray="4 1 6 0.8"/>
<path d="M36 891.7 L37.3 896.7 L41.7 893.3 L53.3 870 L58.3 853.3 L58.3 836.7 L53.3 834.3 L46.7 836.7 L45 856.7 L40 876.7Z" fill="none" stroke="#111" stroke-width="0.9"/>
<path d="M38 893 L42.5 888 L51 868 L54.5 851 L53.5 840 L50 840 L47.5 858 L42 878Z" fill="none" stroke="#222" stroke-width="0.7"/>
<text x="50" y="872.5" font-size="7" fill="#111" stroke="#111" stroke-width="0.25">R1</text>
<rect x="35.3" y="804" width="103" height="101.7" fill="none" stroke="#000" stroke-width="0.95"/>
<path d="M36.5 905.7L36.5 908.7M40.48 905.7L40.48 907.2M44.45 905.7L44.45 907.2M48.43 905.7L48.43 907.2M52.41 905.7L52.41 907.2M56.38 905.7L56.38 908.7M60.36 905.7L60.36 907.2M64.34 905.7L64.34 907.2M68.31 905.7L68.31 907.2M72.29 905.7L72.29 907.2M76.27 905.7L76.27 908.7M80.24 905.7L80.24 907.2M84.22 905.7L84.22 907.2M88.2 905.7L88.2 907.2M92.17 905.7L92.17 907.2M96.15 905.7L96.15 908.7M100.12 905.7L100.12 907.2M104.1 905.7L104.1 907.2M108.08 905.7L108.08 907.2M112.05 905.7L112.05 907.2M116.03 905.7L116.03 908.7M120.01 905.7L120.01 907.2M123.98 905.7L123.98 907.2M127.96 905.7L127.96 907.2M131.94 905.7L131.94 907.2M135.91 905.7L135.91 908.7M32.3 904.9L35.3 904.9M33.8 900.96L35.3 900.96M33.8 897.02L35.3 897.02M33.8 893.08L35.3 893.08M33.8 889.13L35.3 889.13M32.3 885.19L35.3 885.19M33.8 881.25L35.3 881.25M33.8 877.31L35.3 877.31M33.8 873.37L35.3 873.37M33.8 869.43L35.3 869.43M32.3 865.49L35.3 865.49M33.8 861.54L35.3 861.54M33.8 857.6L35.3 857.6M33.8 853.66L35.3 853.66M33.8 849.72L35.3 849.72M32.3 845.78L35.3 845.78M33.8 841.84L35.3 841.84M33.8 837.9L35.3 837.9M33.8 833.95L35.3 833.95M33.8 830.01L35.3 830.01M32.3 826.07L35.3 826.07M33.8 822.13L35.3 822.13M33.8 818.19L35.3 818.19M33.8 814.25L35.3 814.25M33.8 810.31L35.3 810.31M32.3 806.36L35.3 806.36" stroke="#000" stroke-width="0.7" fill="none"/>
<text transform="translate(37.5 917.2) scale(0.86 1)" font-size="8.9" text-anchor="middle" stroke="#000" stroke-width="0.18">0</text>
<text transform="translate(56.68 917.2) scale(0.86 1)" font-size="8.9" text-anchor="middle" stroke="#000" stroke-width="0.18">50</text>
<text transform="translate(76.57 917.2) scale(0.86 1)" font-size="8.9" text-anchor="middle" stroke="#000" stroke-width="0.18">100</text>
<text transform="translate(96.45 917.2) scale(0.86 1)" font-size="8.9" text-anchor="middle" stroke="#000" stroke-width="0.18">150</text>
<text transform="translate(116.33 917.2) scale(0.86 1)" font-size="8.9" text-anchor="middle" stroke="#000" stroke-width="0.18">200</text>
<text transform="translate(136.21 917.2) scale(0.86 1)" font-size="8.9" text-anchor="middle" stroke="#000" stroke-width="0.18">250</text>
<text transform="translate(30.5 905.2) rotate(-90) scale(0.86 1)" font-size="8.9" text-anchor="middle" stroke="#000" stroke-width="0.18">0</text>
<text transform="translate(30.5 885.49) rotate(-90) scale(0.86 1)" font-size="8.9" text-anchor="middle" stroke="#000" stroke-width="0.18">50</text>
<text transform="translate(30.5 865.79) rotate(-90) scale(0.86 1)" font-size="8.9" text-anchor="middle" stroke="#000" stroke-width="0.18">100</text>
<text transform="translate(30.5 846.08) rotate(-90) scale(0.86 1)" font-size="8.9" text-anchor="middle" stroke="#000" stroke-width="0.18">150</text>
<text transform="translate(30.5 826.37) rotate(-90) scale(0.86 1)" font-size="8.9" text-anchor="middle" stroke="#000" stroke-width="0.18">200</text>
<text transform="translate(30.5 806.66) rotate(-90) scale(0.86 1)" font-size="8.9" text-anchor="middle" stroke="#000" stroke-width="0.18">250</text>
<path d="M49.3 971.5h1M53.3 971.5h1M55.3 971.5h3M60.3 971.5h1M65.3 971.5h1M69.3 971.5h2M95.3 971.5h1M100.3 971.5h1M102.3 971.5h1M114.3 971.5h1M123.3 971.5h1M126.3 971.5h1M128.3 971.5h1M130.3 971.5h1M134.3 971.5h1M51.3 972.5h1M56.3 972.5h1M58.3 972.5h2M62.3 972.5h1M64.3 972.5h1M71.3 972.5h1M73.3 972.5h1M81.3 972.5h1M86.3 972.5h2M104.3 972.5h2M108.3 972.5h2M118.3 972.5h1M122.3 972.5h1M124.3 972.5h1M84.3 975.5h1M57.3 976.5h1M70.3 978.5h1M78.3 979.5h1M81.3 980.5h1M51.3 982.5h1M70.3 983.5h1M56.3 984.5h1M81.3 984.5h1M59.3 985.5h2M58.3 987.5h1M71.3 987.5h1M56.3 988.5h1M58.3 988.5h2M63.3 989.5h1M58.3 990.5h2M50.3 991.5h1M117.3 991.5h1M56.3 992.5h1M58.3 992.5h1M60.3 992.5h1M64.3 992.5h1M56.3 993.5h1M54.3 994.5h1M56.3 994.5h1M56.3 995.5h2M60.3 995.5h1M71.3 995.5h1M58.3 996.5h1M57.3 997.5h2M60.3 997.5h1M77.3 997.5h1M128.3 997.5h1M78.3 998.5h1M54.3 999.5h4M63.3 999.5h1M55.3 1000.5h2M60.3 1000.5h1M57.3 1001.5h1M59.3 1001.5h1M66.3 1001.5h1M84.3 1001.5h1M59.3 1002.5h2M53.3 1003.5h1M55.3 1003.5h1M57.3 1003.5h2M85.3 1003.5h1M57.3 1004.5h1M62.3 1004.5h1M52.3 1005.5h1M54.3 1005.5h2M61.3 1005.5h1M56.3 1006.5h1M55.3 1007.5h1M57.3 1007.5h2M79.3 1008.5h1M53.3 1009.5h1M66.3 1009.5h1M76.3 1009.5h1M113.3 1009.5h1M53.3 1010.5h2M53.3 1011.5h2M58.3 1011.5h1M51.3 1012.5h1M53.3 1012.5h1M56.3 1012.5h1M61.3 1012.5h1M51.3 1013.5h1M58.3 1013.5h1M49.3 1014.5h1M49.3 1015.5h1M58.3 1015.5h1M65.3 1015.5h1M50.3 1016.5h1M56.3 1016.5h2M51.3 1017.5h4M57.3 1017.5h2M57.3 1018.5h2M49.3 1019.5h2M58.3 1019.5h1M49.3 1020.5h1M52.3 1020.5h1M55.3 1020.5h1M63.3 1020.5h1M49.3 1021.5h1M51.3 1021.5h3M55.3 1021.5h1M75.3 1021.5h1M53.3 1022.5h1M56.3 1022.5h1M50.3 1023.5h2M58.3 1023.5h1M50.3 1024.5h1M52.3 1024.5h1M50.3 1025.5h2M50.3 1026.5h1M52.3 1026.5h1M62.3 1026.5h1M49.3 1027.5h1M54.3 1027.5h1M47.3 1028.5h2M50.3 1028.5h1M53.3 1028.5h1M53.3 1029.5h1M47.3 1030.5h1M49.3 1030.5h1M57.3 1030.5h2M129.3 1031.5h1M47.3 1032.5h1M60.3 1032.5h1M48.3 1033.5h1M49.3 1034.5h1M47.3 1035.5h1M57.3 1035.5h1M49.3 1036.5h1M87.3 1037.5h1M44.3 1038.5h1M46.3 1038.5h1M51.3 1038.5h2M54.3 1038.5h1M61.3 1038.5h1M47.3 1039.5h1M58.3 1039.5h1M45.3 1040.5h1M48.3 1040.5h2M52.3 1040.5h2M44.3 1041.5h1M46.3 1041.5h1M48.3 1041.5h1M53.3 1041.5h1M43.3 1042.5h2M47.3 1042.5h1M43.3 1043.5h1M45.3 1043.5h1M50.3 1043.5h1M43.3 1044.5h1M45.3 1044.5h2M57.3 1044.5h1M60.3 1044.5h1M65.3 1044.5h1M42.3 1045.5h2M45.3 1045.5h1M48.3 1046.5h1M53.3 1046.5h1M49.3 1047.5h1M112.3 1047.5h1M44.3 1048.5h1M48.3 1048.5h1M50.3 1048.5h1M53.3 1048.5h1M44.3 1049.5h1M57.3 1049.5h1M44.3 1050.5h1M54.3 1050.5h1M43.3 1051.5h1M41.3 1052.5h1M43.3 1052.5h1M53.3 1052.5h1M47.3 1053.5h1M52.3 1053.5h1M46.3 1054.5h1M48.3 1054.5h1M60.3 1054.5h1M59.3 1055.5h1M43.3 1057.5h1M48.3 1057.5h1" stroke="#808080" fill="none" shape-rendering="crispEdges"/>
<line x1="37.6" y1="1063" x2="52" y2="1004" stroke="#6e6e6e" stroke-width="2.5" stroke-linecap="round"/>
<line x1="38" y1="1061" x2="51.6" y2="1008" stroke="#484848" stroke-width="1.3" stroke-dasharray="4 1 6 0.8"/>
<path d="M35.5 1063.3 L37.3 1065 L41.7 1061.7 L50 1043.3 L57.3 1016.7 L58.3 999.3 L48.3 1000 L45 1026.7 L39.3 1046.7 L35.5 1058.3Z" fill="none" stroke="#111" stroke-width="0.9"/>
<path d="M37.5 1062 L41.5 1057 L49 1040 L55 1016 L55.5 1003 L51 1003 L48 1026 L42 1046Z" fill="none" stroke="#222" stroke-width="0.7"/>
<text x="48" y="1041" font-size="7" fill="#111" stroke="#111" stroke-width="0.25">R1</text>
<rect x="35.3" y="969" width="103" height="101" fill="none" stroke="#000" stroke-width="0.95"/>
<path d="M36.5 1070L36.5 1073M40.48 1070L40.48 1071.5M44.45 1070L44.45 1071.5M48.43 1070L48.43 1071.5M52.41 1070L52.41 1071.5M56.38 1070L56.38 1073M60.36 1070L60.36 1071.5M64.34 1070L64.34 1071.5M68.31 1070L68.31 1071.5M72.29 1070L72.29 1071.5M76.27 1070L76.27 1073M80.24 1070L80.24 1071.5M84.22 1070L84.22 1071.5M88.2 1070L88.2 1071.5M92.17 1070L92.17 1071.5M96.15 1070L96.15 1073M100.12 1070L100.12 1071.5M104.1 1070L104.1 1071.5M108.08 1070L108.08 1071.5M112.05 1070L112.05 1071.5M116.03 1070L116.03 1073M120.01 1070L120.01 1071.5M123.98 1070L123.98 1071.5M127.96 1070L127.96 1071.5M131.94 1070L131.94 1071.5M135.91 1070L135.91 1073M32.3 1069.2L35.3 1069.2M33.8 1065.29L35.3 1065.29M33.8 1061.37L35.3 1061.37M33.8 1057.46L35.3 1057.46M33.8 1053.54L35.3 1053.54M32.3 1049.63L35.3 1049.63M33.8 1045.72L35.3 1045.72M33.8 1041.8L35.3 1041.8M33.8 1037.89L35.3 1037.89M33.8 1033.97L35.3 1033.97M32.3 1030.06L35.3 1030.06M33.8 1026.15L35.3 1026.15M33.8 1022.23L35.3 1022.23M33.8 1018.32L35.3 1018.32M33.8 1014.4L35.3 1014.4M32.3 1010.49L35.3 1010.49M33.8 1006.58L35.3 1006.58M33.8 1002.66L35.3 1002.66M33.8 998.75L35.3 998.75M33.8 994.83L35.3 994.83M32.3 990.92L35.3 990.92M33.8 987L35.3 987M33.8 983.09L35.3 983.09M33.8 979.18L35.3 979.18M33.8 975.26L35.3 975.26M32.3 971.35L35.3 971.35" stroke="#000" stroke-width="0.7" fill="none"/>
<text transform="translate(37.5 1082.4) scale(0.86 1)" font-size="8.9" text-anchor="middle" stroke="#000" stroke-width="0.18">0</text>
<text transform="translate(56.68 1082.4) scale(0.86 1)" font-size="8.9" text-anchor="middle" stroke="#000" stroke-width="0.18">50</text>
<text transform="translate(76.57 1082.4) scale(0.86 1)" font-size="8.9" text-anchor="middle" stroke="#000" stroke-width="0.18">100</text>
<text transform="translate(96.45 1082.4) scale(0.86 1)" font-size="8.9" text-anchor="middle" stroke="#000" stroke-width="0.18">150</text>
<text transform="translate(116.33 1082.4) scale(0.86 1)" font-size="8.9" text-anchor="middle" stroke="#000" stroke-width="0.18">200</text>
<text transform="translate(136.21 1082.4) scale(0.86 1)" font-size="8.9" text-anchor="middle" stroke="#000" stroke-width="0.18">250</text>
<text transform="translate(30.5 1069.5) rotate(-90) scale(0.86 1)" font-size="8.9" text-anchor="middle" stroke="#000" stroke-width="0.18">0</text>
<text transform="translate(30.5 1049.93) rotate(-90) scale(0.86 1)" font-size="8.9" text-anchor="middle" stroke="#000" stroke-width="0.18">50</text>
<text transform="translate(30.5 1030.36) rotate(-90) scale(0.86 1)" font-size="8.9" text-anchor="middle" stroke="#000" stroke-width="0.18">100</text>
<text transform="translate(30.5 1010.79) rotate(-90) scale(0.86 1)" font-size="8.9" text-anchor="middle" stroke="#000" stroke-width="0.18">150</text>
<text transform="translate(30.5 991.22) rotate(-90) scale(0.86 1)" font-size="8.9" text-anchor="middle" stroke="#000" stroke-width="0.18">200</text>
<text transform="translate(30.5 971.65) rotate(-90) scale(0.86 1)" font-size="8.9" text-anchor="middle" stroke="#000" stroke-width="0.18">250</text>
<path d="M58.4 1164.2h1M61.4 1173.2h1M70.4 1173.2h1M56.4 1174.2h1M63.4 1174.2h1M61.4 1176.2h1M51.4 1179.2h1M57.4 1182.2h1M55.4 1183.2h1M54.4 1185.2h1M57.4 1185.2h1M54.4 1186.2h1M90.4 1186.2h1M55.4 1187.2h1M136.4 1187.2h1M54.4 1188.2h1M58.4 1188.2h1M60.4 1188.2h1M54.4 1190.2h1M107.4 1191.2h1M52.4 1194.2h1M56.4 1194.2h1M51.4 1198.2h1M61.4 1199.2h1M50.4 1201.2h1M50.4 1202.2h1M50.4 1203.2h1M59.4 1203.2h1M49.4 1204.2h1M50.4 1206.2h1M51.4 1207.2h1M50.4 1212.2h1M57.4 1213.2h1M50.4 1214.2h1M53.4 1214.2h1M49.4 1215.2h1M54.4 1216.2h1M87.4 1217.2h1M53.4 1218.2h1M59.4 1218.2h1M45.4 1219.2h2M57.4 1219.2h1M47.4 1220.2h2M56.4 1220.2h1M59.4 1221.2h1M65.4 1221.2h1M46.4 1222.2h1M58.4 1222.2h1M61.4 1222.2h2M50.4 1223.2h1M61.4 1225.2h1M98.4 1227.2h1M128.4 1227.2h1" stroke="#808080" fill="none" shape-rendering="crispEdges"/>
<line x1="43" y1="1228" x2="54.2" y2="1179" stroke="#8a8a8a" stroke-width="1.4" stroke-dasharray="1.2 2.2 2 1.6 1 2.6"/>
<path d="M37.9 1235.7 L40 1227.8 L47.1 1205.7 L49.4 1173.9 L58.1 1172.9 L59.4 1183.7 L57.3 1202.6 L50.2 1218.4 L41.6 1235.7Z" fill="none" stroke="#111" stroke-width="0.9"/>
<path d="M40.8 1229.4 L47.1 1210.5 L54.2 1207.3 L51 1217.6 L42.4 1234.9Z" fill="none" stroke="#222" stroke-width="0.7"/>
<text x="50.2" y="1213.8" font-size="7" fill="#111" stroke="#111" stroke-width="0.25">R1</text>
<rect x="37.4" y="1142.7" width="103" height="101.3" fill="none" stroke="#000" stroke-width="0.95"/>
<path d="M38.6 1244L38.6 1247M42.58 1244L42.58 1245.5M46.55 1244L46.55 1245.5M50.53 1244L50.53 1245.5M54.51 1244L54.51 1245.5M58.48 1244L58.48 1247M62.46 1244L62.46 1245.5M66.44 1244L66.44 1245.5M70.41 1244L70.41 1245.5M74.39 1244L74.39 1245.5M78.37 1244L78.37 1247M82.34 1244L82.34 1245.5M86.32 1244L86.32 1245.5M90.3 1244L90.3 1245.5M94.27 1244L94.27 1245.5M98.25 1244L98.25 1247M102.22 1244L102.22 1245.5M106.2 1244L106.2 1245.5M110.18 1244L110.18 1245.5M114.15 1244L114.15 1245.5M118.13 1244L118.13 1247M122.11 1244L122.11 1245.5M126.08 1244L126.08 1245.5M130.06 1244L130.06 1245.5M134.04 1244L134.04 1245.5M138.01 1244L138.01 1247M34.4 1243.2L37.4 1243.2M35.9 1239.27L37.4 1239.27M35.9 1235.35L37.4 1235.35M35.9 1231.42L37.4 1231.42M35.9 1227.5L37.4 1227.5M34.4 1223.57L37.4 1223.57M35.9 1219.65L37.4 1219.65M35.9 1215.72L37.4 1215.72M35.9 1211.79L37.4 1211.79M35.9 1207.87L37.4 1207.87M34.4 1203.94L37.4 1203.94M35.9 1200.02L37.4 1200.02M35.9 1196.09L37.4 1196.09M35.9 1192.16L37.4 1192.16M35.9 1188.24L37.4 1188.24M34.4 1184.31L37.4 1184.31M35.9 1180.39L37.4 1180.39M35.9 1176.46L37.4 1176.46M35.9 1172.54L37.4 1172.54M35.9 1168.61L37.4 1168.61M34.4 1164.68L37.4 1164.68M35.9 1160.76L37.4 1160.76M35.9 1156.83L37.4 1156.83M35.9 1152.91L37.4 1152.91M35.9 1148.98L37.4 1148.98M34.4 1145.06L37.4 1145.06" stroke="#000" stroke-width="0.7" fill="none"/>
<text transform="translate(39.6 1256.4) scale(0.86 1)" font-size="8.9" text-anchor="middle" stroke="#000" stroke-width="0.18">0</text>
<text transform="translate(58.78 1256.4) scale(0.86 1)" font-size="8.9" text-anchor="middle" stroke="#000" stroke-width="0.18">50</text>
<text transform="translate(78.67 1256.4) scale(0.86 1)" font-size="8.9" text-anchor="middle" stroke="#000" stroke-width="0.18">100</text>
<text transform="translate(98.55 1256.4) scale(0.86 1)" font-size="8.9" text-anchor="middle" stroke="#000" stroke-width="0.18">150</text>
<text transform="translate(118.43 1256.4) scale(0.86 1)" font-size="8.9" text-anchor="middle" stroke="#000" stroke-width="0.18">200</text>
<text transform="translate(138.31 1256.4) scale(0.86 1)" font-size="8.9" text-anchor="middle" stroke="#000" stroke-width="0.18">250</text>
<text transform="translate(32.6 1243.5) rotate(-90) scale(0.86 1)" font-size="8.9" text-anchor="middle" stroke="#000" stroke-width="0.18">0</text>
<text transform="translate(32.6 1223.87) rotate(-90) scale(0.86 1)" font-size="8.9" text-anchor="middle" stroke="#000" stroke-width="0.18">50</text>
<text transform="translate(32.6 1204.24) rotate(-90) scale(0.86 1)" font-size="8.9" text-anchor="middle" stroke="#000" stroke-width="0.18">100</text>
<text transform="translate(32.6 1184.61) rotate(-90) scale(0.86 1)" font-size="8.9" text-anchor="middle" stroke="#000" stroke-width="0.18">150</text>
<text transform="translate(32.6 1164.98) rotate(-90) scale(0.86 1)" font-size="8.9" text-anchor="middle" stroke="#000" stroke-width="0.18">200</text>
<text transform="translate(32.6 1145.36) rotate(-90) scale(0.86 1)" font-size="8.9" text-anchor="middle" stroke="#000" stroke-width="0.18">250</text>
<path d="M221.93 858.88L221.88 858.82L221.93 858.77L221.99 858.82L221.93 858.88M218.75 860.47L218.7 860.41L218.75 860.36L218.81 860.41L218.75 860.47M215.58 863.65L215.52 863.59L215.58 863.53L215.63 863.59L215.58 863.65M210.81 865.23L210.75 865.18L210.81 865.12L210.86 865.18L210.81 865.23M212.4 879.54L212.34 879.48L212.4 879.42L212.45 879.48L212.4 879.54M191.74 881.13L191.68 881.07L191.74 881.01L191.8 881.07L191.74 881.13M210.81 884.3L210.75 884.25L210.81 884.19L210.86 884.25L210.81 884.3M218.75 884.63L217.16 884.53L216.9 884.25L217.16 883.98L218.75 883.98L219.02 884.25L218.75 884.63M226.7 885.91L226.64 885.84L226.7 885.78L226.76 885.84L226.7 885.91M209.22 887.56L209.13 887.43L209.22 887.34L209.32 887.43L209.22 887.56M220.34 889.4L219.91 889.01L218.75 888.51L217.74 887.43L218.75 886.33L220.34 886.86L220.96 887.43L220.67 889.01L220.34 889.4M223.52 887.53L223.41 887.43L223.52 887.34L223.63 887.43L223.52 887.53M233.06 905.2L231.47 905.2L229.88 905.2L228.29 905.2L226.7 905.2L225.11 905.2L223.52 905.2L221.93 905.2L220.34 905.2L218.75 905.2L217.16 905.2L215.58 905.2L213.99 905.2L212.4 905.2L210.81 905.2L209.22 905.2L207.63 905.2L206.04 905.2L204.45 905.2L202.86 905.2L201.27 905.2L199.69 905.2L198.1 905.2L196.51 905.2L194.92 905.2L193.33 905.2L192.06 904.91L191.91 903.32L191.74 902.41L191.2 901.73L191.74 901.07L192.29 900.14L193.33 898.93L193.41 898.55L194.37 896.96L193.33 896.52L192.18 895.37L193.33 894.09L193.77 893.78L194.44 892.19L194.92 891.73L196.51 891.62L197.18 892.19L198.1 893.2L199.11 892.19L199.41 890.6L199.69 890.34L199.96 890.6L200.74 892.19L201.27 892.26L201.55 892.19L202.86 891.38L204.45 890.86L204.6 890.6L204.73 889.01L206.04 887.72L207.37 889.01L207.47 890.6L207.63 890.85L208.58 890.6L209.22 890.16L210.38 889.01L210.81 888.66L211.13 889.01L211.69 890.6L212.4 890.76L213.68 890.6L213.99 890.42L214.19 890.6L215.58 891.27L217.16 890.79L218.75 891.09L220.34 890.89L221.93 890.78L223.52 891.26L225.11 890.96L226.7 890.97L228.29 890.9L229.88 891.12L231.47 891.83L233.06 891.89L233.41 892.19L234.64 892.62L236.23 892.45L237.82 892.37L239.41 892.42L241 892.34L242.45 893.78L242.52 895.37L242.59 895.56L243.64 896.96L242.59 898.21L242 898.55L242.59 899.61L242.88 900.14L242.59 900.43L241 900.67L240.09 900.14L239.41 899.56L239.17 900.14L237.82 901.62L237.77 901.73L237.43 903.32L236.23 904.5L234.64 904.82L234.52 904.91L233.06 905.2M215.58 889.13L215.47 889.01L215.58 888.93L215.67 889.01L215.58 889.13M226.7 889.35L225.11 889.36L224.78 889.01L225.11 888.67L226.7 888.7L226.96 889.01L226.7 889.35M191.74 893.95L191.62 893.78L191.74 893.66L191.99 893.78L191.74 893.95M247.36 895.43L247.3 895.37L247.36 895.31L247.42 895.37L247.36 895.43M252.12 895.64L250.54 895.64L250.23 895.37L250.54 895.1L252.12 895.1L252.39 895.37L252.12 895.64M188.56 897.07L188.47 896.96L188.56 896.87L188.67 896.96L188.56 897.07M190.15 901.23L189.14 900.14L189.63 898.55L190.15 898.05L190.61 898.55L191.35 900.14L190.15 901.23M239.41 901.88L238.68 901.73L239.41 901.32L239.59 901.73L239.41 901.88M188.56 903.37L188.51 903.32L188.56 903.26L188.62 903.32L188.56 903.37M233.06 905.2L231.47 905.2L229.88 905.2L228.29 905.2L226.7 905.2L225.11 905.2L223.52 905.2L221.93 905.2L220.34 905.2L218.75 905.2L217.16 905.2L215.58 905.2L213.99 905.2L212.4 905.2L210.81 905.2L209.22 905.2L207.63 905.2L206.04 905.2L204.45 905.2L202.86 905.2L201.27 905.2L199.69 905.2L198.1 905.2L196.51 905.2L194.92 905.2L193.33 905.2L192.84 904.91L192.6 903.32L193.33 901.82L193.37 901.73L193.66 900.14L193.91 898.55L194.92 897.41L196.47 896.96L194.92 896.22L193.33 895.39L193.31 895.37L193.33 895.35L194.92 894.23L195.92 893.78L196.51 893.41L196.85 893.78L198.1 894.11L199.69 893.96L199.85 893.78L201.27 892.78L202.86 892.36L204.23 892.19L204.45 892.11L205.33 890.6L205.51 889.01L206.04 888.49L206.58 889.01L206.75 890.6L207.63 891.99L209.22 891.41L210.81 891.58L212.4 891.36L213.99 891.92L214.51 892.19L215.58 892.26L215.86 892.19L217.16 891.29L218.75 891.9L220.34 891.53L221.93 891.28L223.4 892.19L223.52 892.21L223.85 892.19L225.11 891.75L226.7 891.83L228.29 891.56L229.88 892.05L230.12 892.19L231.47 892.38L233.06 892.4L234.64 893.41L236.23 893.05L237.82 892.9L239.41 893.01L241 892.88L241.91 893.78L241.99 895.37L242.4 896.96L241 897.61L239.78 896.96L239.41 896.93L239.3 896.96L237.82 898.24L236.23 897.95L235.55 898.55L235.63 900.14L236.23 900.47L236.98 901.73L236.5 903.32L236.23 903.58L234.64 904.1L233.5 904.91L233.06 905.2M233.43 900.14L233.06 900.03L232.99 900.14L233.06 900.21L233.43 900.14M231.86 903.32L231.47 903.2L231.34 903.32L231.47 903.53L231.86 903.32M229.88 905.2L228.29 905.2L226.7 905.2L225.11 905.2L223.52 905.2L221.93 905.2L220.34 905.2L218.75 905.2L217.16 905.2L215.58 905.2L213.99 905.2L212.4 905.2L210.81 905.2L209.22 905.2L207.63 905.2L206.04 905.2L204.45 905.2L202.86 905.2L201.27 905.2L199.69 905.2L198.1 905.2L196.6 904.91L196.51 904.39L196.07 904.91L194.92 905.14L194.35 904.91L194.6 903.32L194.51 901.73L194.8 900.14L194.74 898.55L194.92 898.35L196.51 897.6L198.1 897.4L198.69 896.96L198.1 896.15L197.13 895.37L198.1 894.82L199.69 895.25L201.09 893.78L201.27 893.65L202.86 893.04L204.45 892.68L205.9 892.19L206.04 891.9L206.2 892.19L207.63 892.37L209.22 892.27L210.81 892.4L212.4 892.23L213.99 892.36L215.58 892.53L217.08 892.19L217.16 892.13L217.3 892.19L218.75 892.34L220.34 892.26L221.61 892.19L221.93 892.11L222.06 892.19L223.52 892.47L225.11 892.34L226.7 892.4L228.29 892.33L229.88 892.49L231.47 892.77L233.06 892.81L234.28 893.78L234.64 894.05L236.23 893.89L237.8 893.78L237.82 893.78L237.85 893.78L239.41 893.9L241 893.81L241.1 895.37L241 895.57L239.41 896.48L237.82 896.93L236.23 896.91L235.82 896.96L234.64 897.84L233.46 898.55L233.06 898.68L232.25 898.55L231.47 898.51L231.41 898.55L231.47 898.7L232.2 900.14L233.06 901.13L234.03 901.73L233.06 902.59L231.47 902.42L230.48 903.32L231.42 904.91L229.88 905.2M228.29 905.2L226.7 905.2L225.11 905.2L223.52 905.2L221.93 905.2L220.34 905.2L218.75 905.2L217.16 905.2L215.58 905.2L213.99 905.2L212.4 905.2L210.81 905.2L209.22 905.2L207.63 905.2L206.04 905.2L204.45 905.2L202.86 905.2L201.27 905.2L200.24 904.91L199.69 904.69L198.39 904.91L198.1 904.95L198.02 904.91L197.78 903.32L197.08 901.73L198.1 900.32L198.2 900.14L198.1 898.92L197.91 898.55L198.1 898.51L199.69 897.51L200.14 896.96L200.61 895.37L201.27 894.7L202.86 894.08L204.22 893.78L204.45 893.7L206.04 892.95L207.63 892.77L209.22 892.57L210.81 892.94L212.4 892.65L213.99 892.74L215.58 893.07L217.16 892.67L218.75 892.7L220.34 892.63L221.93 892.62L223.52 892.97L225.11 892.8L226.7 892.94L228.29 892.95L229.88 893.13L231.47 893.55L233.06 893.62L233.26 893.78L234.64 894.79L236.23 894.67L237.82 895.11L239.41 895.09L239.73 895.37L239.41 895.58L237.82 895.62L236.23 896.09L234.64 896.15L233.74 896.96L233.06 897.59L231.47 897.69L230.21 898.55L230.25 900.14L229.88 900.57L229.6 901.73L229.45 903.32L229.69 904.91L228.29 905.2M226.7 905.02L225.11 905.2L223.52 905.12L221.93 905.2L220.34 905.2L218.75 905.2L217.16 905.2L215.58 905.2L213.99 905.2L212.4 905.2L210.81 905.2L209.22 905.2L207.63 905.2L206.04 905.2L204.45 905.2L202.86 905.2L201.83 904.91L201.27 903.89L199.69 903.5L199.44 903.32L198.93 901.73L199.42 900.14L199.69 899.68L201.27 898.93L201.47 898.55L202.41 896.96L202.1 895.37L202.86 894.97L204.45 894.36L206.04 893.96L206.35 893.78L207.63 893.31L209.22 892.98L210.81 893.67L212.4 893.22L213.99 893.25L215.54 893.78L215.58 893.79L215.63 893.78L217.16 893.32L218.75 893.19L220.34 893.13L221.93 893.22L223.52 893.63L225.11 893.4L226.7 893.67L228.29 893.78L228.31 893.78L229.88 893.89L231.47 894.37L233.06 895.34L233.11 895.37L233.06 895.42L231.47 896.64L230.72 896.96L229.88 897.47L228.29 897.03L226.7 898.51L225.11 897.91L223.9 898.55L225.11 899.06L226.7 898.65L227.44 900.14L228.29 900.84L228.78 901.73L228.56 903.32L228.29 904.02L226.83 903.32L226.7 903.21L226.67 903.32L226.7 903.52L227.22 904.91L226.7 905.02M221.93 905.2L220.34 905.2L218.75 905.2L217.16 905.2L215.58 905.2L213.99 905.2L212.4 905.2L210.81 905.2L209.22 905.2L207.63 905.2L206.04 905.2L204.45 905.2L203.19 904.91L203.32 903.32L202.86 902.7L201.68 901.73L201.82 900.14L202.63 898.55L202.86 898.25L203.99 896.96L204.26 895.37L204.45 895.28L206.04 895.18L207.63 894.03L208.51 893.78L209.22 893.58L209.65 893.78L210.81 894.31L212.4 894.01L213.99 893.95L215.58 894.33L217.16 894.1L218.75 893.88L220.34 893.85L221.93 893.94L223.52 894.3L225.11 894.28L226.7 894.36L228.29 894.53L229.88 894.62L231.29 895.37L229.88 896.29L228.29 896.22L226.7 896.81L225.11 896.63L223.52 896.96L223.5 896.96L221.93 897.61L220.47 896.96L220.34 896.94L220.26 896.96L220.34 897.06L221.12 898.55L221.93 898.91L223.52 899.78L224.85 900.14L225.11 900.24L225.88 901.73L225.2 903.32L225.11 903.48L223.52 903.91L222.65 904.91L221.93 905.2M218.75 905.2L217.16 905.2L215.58 905.2L213.99 905.2L212.4 905.2L210.81 905.2L209.22 905.2L207.63 905.06L206.45 904.91L206.04 904.71L204.45 903.36L204.44 903.32L203.39 901.73L203.3 900.14L204.45 898.85L204.63 898.55L206.04 897.21L206.65 896.96L206.93 895.37L207.63 894.82L209.22 894.98L210.81 895.09L212.4 894.88L213.99 894.7L215.58 895.04L217.16 894.92L218.75 894.62L220.34 894.66L221.93 894.48L223.52 895.1L224.98 895.37L223.52 895.77L221.93 896.46L220.34 896.11L218.75 896.36L217.16 896.4L215.58 896.23L213.99 896.86L212.4 896.78L212.1 896.96L212.4 897.43L213.99 897.18L215.58 897.96L216.04 898.55L217.16 898.93L218.75 898.71L220.34 899.3L221.93 899.94L222.23 900.14L221.93 901.21L221.81 901.73L220.99 903.32L220.34 904.17L219.87 904.91L218.75 905.2M226.7 895.59L225.34 895.37L226.7 895.22L227.53 895.37L226.7 895.59M223.52 901.78L223.2 901.73L223.52 901.68L223.59 901.73L223.52 901.78" stroke="#000" stroke-width="0.85" fill="none" stroke-linejoin="round"/>
<path d="" stroke="#111" stroke-width="1.3" fill="none"/>
<rect x="183" y="804" width="101.7" height="101.7" fill="none" stroke="#000" stroke-width="0.95"/>
<path d="M184.2 905.7L184.2 908.7M188.13 905.7L188.13 907.2M192.05 905.7L192.05 907.2M195.98 905.7L195.98 907.2M199.9 905.7L199.9 907.2M203.83 905.7L203.83 908.7M207.75 905.7L207.75 907.2M211.68 905.7L211.68 907.2M215.61 905.7L215.61 907.2M219.53 905.7L219.53 907.2M223.46 905.7L223.46 908.7M227.38 905.7L227.38 907.2M231.31 905.7L231.31 907.2M235.24 905.7L235.24 907.2M239.16 905.7L239.16 907.2M243.09 905.7L243.09 908.7M247.01 905.7L247.01 907.2M250.94 905.7L250.94 907.2M254.86 905.7L254.86 907.2M258.79 905.7L258.79 907.2M262.72 905.7L262.72 908.7M266.64 905.7L266.64 907.2M270.57 905.7L270.57 907.2M274.49 905.7L274.49 907.2M278.42 905.7L278.42 907.2M282.34 905.7L282.34 908.7M180 905.7L183 905.7M181.5 898.05L183 898.05M181.5 893.57L183 893.57M181.5 890.39L183 890.39M181.5 887.93L183 887.93M181.5 885.92L183 885.92M181.5 884.21L183 884.21M181.5 882.74L183 882.74M181.5 881.44L183 881.44M180 880.28L183 880.28M181.5 872.62L183 872.62M181.5 868.14L183 868.14M181.5 864.97L183 864.97M181.5 862.5L183 862.5M181.5 860.49L183 860.49M181.5 858.79L183 858.79M181.5 857.31L183 857.31M181.5 856.01L183 856.01M180 854.85L183 854.85M181.5 847.2L183 847.2M181.5 842.72L183 842.72M181.5 839.54L183 839.54M181.5 837.08L183 837.08M181.5 835.07L183 835.07M181.5 833.36L183 833.36M181.5 831.89L183 831.89M181.5 830.59L183 830.59M180 829.43L183 829.43M181.5 821.77L183 821.77M181.5 817.29L183 817.29M181.5 814.12L183 814.12M181.5 811.65L183 811.65M181.5 809.64L183 809.64M181.5 807.94L183 807.94M181.5 806.46L183 806.46M181.5 805.16L183 805.16M180 804L183 804" stroke="#000" stroke-width="0.7" fill="none"/>
<text transform="translate(185.2 917.2) scale(0.86 1)" font-size="8.9" text-anchor="middle" stroke="#000" stroke-width="0.18">0</text>
<text transform="translate(204.13 917.2) scale(0.86 1)" font-size="8.9" text-anchor="middle" stroke="#000" stroke-width="0.18">50</text>
<text transform="translate(223.76 917.2) scale(0.86 1)" font-size="8.9" text-anchor="middle" stroke="#000" stroke-width="0.18">100</text>
<text transform="translate(243.39 917.2) scale(0.86 1)" font-size="8.9" text-anchor="middle" stroke="#000" stroke-width="0.18">150</text>
<text transform="translate(263.02 917.2) scale(0.86 1)" font-size="8.9" text-anchor="middle" stroke="#000" stroke-width="0.18">200</text>
<text transform="translate(282.64 917.2) scale(0.86 1)" font-size="8.9" text-anchor="middle" stroke="#000" stroke-width="0.18">250</text>
<text transform="translate(178 909.7) rotate(-90) scale(0.86 1)" font-size="8.9" stroke="#000" stroke-width="0.18">10<tspan dy="-3" dx="0.4" font-size="7.6">0</tspan></text>
<text transform="translate(178 884.28) rotate(-90) scale(0.86 1)" font-size="8.9" stroke="#000" stroke-width="0.18">10<tspan dy="-3" dx="0.4" font-size="7.6">1</tspan></text>
<text transform="translate(178 858.85) rotate(-90) scale(0.86 1)" font-size="8.9" stroke="#000" stroke-width="0.18">10<tspan dy="-3" dx="0.4" font-size="7.6">2</tspan></text>
<text transform="translate(178 833.43) rotate(-90) scale(0.86 1)" font-size="8.9" stroke="#000" stroke-width="0.18">10<tspan dy="-3" dx="0.4" font-size="7.6">3</tspan></text>
<text transform="translate(178 808) rotate(-90) scale(0.86 1)" font-size="8.9" stroke="#000" stroke-width="0.18">10</text>
<path d="M223.52 1001.43L223.44 1001.35L223.52 1001.27L223.6 1001.35L223.52 1001.43M233.06 1003.04L232.97 1002.93L233.06 1002.85L233.14 1002.93L233.06 1003.04M252.12 1004.59L252.05 1004.51L252.12 1004.43L252.2 1004.51L252.12 1004.59M207.63 1006.27L207.43 1006.09L207.63 1005.94L207.78 1006.09L207.63 1006.27M233.06 1006.17L232.97 1006.09L233.06 1005.98L233.14 1006.09L233.06 1006.17M245.77 1006.16L245.69 1006.09L245.77 1006.01L245.85 1006.09L245.77 1006.16M206.04 1008.09L204.45 1008.04L204.08 1007.66L204.45 1007.28L206.04 1007.14L206.55 1007.66L206.04 1008.09M218.75 1007.75L218.67 1007.66L218.75 1007.59L218.83 1007.66L218.75 1007.75M225.11 1008.68L224.09 1007.66L225.11 1006.65L226.13 1007.66L225.11 1008.68M234.64 1009.32L234.57 1009.24L234.64 1009.16L234.72 1009.24L234.64 1009.32M221.93 1011.2L220.34 1011.2L219.96 1010.82L220.34 1010.43L221.93 1010.44L222.3 1010.82L221.93 1011.2M217.16 1012.48L217.09 1012.4L217.16 1012.32L217.25 1012.4L217.16 1012.48M236.23 1014.05L236.16 1013.98L236.23 1013.9L236.31 1013.98L236.23 1014.05M241 1014.05L240.92 1013.98L241 1013.9L241.08 1013.98L241 1014.05M209.22 1015.95L207.63 1016.03L207.26 1015.55L207.63 1015.17L209.22 1015.18L209.59 1015.55L209.22 1015.95M218.75 1015.63L218.67 1015.55L218.75 1015.47L218.83 1015.55L218.75 1015.63M247.36 1015.63L247.28 1015.55L247.36 1015.48L247.44 1015.55L247.36 1015.63M196.51 1017.21L196.43 1017.13L196.51 1017.05L196.59 1017.13L196.51 1017.21M199.69 1018.79L199.6 1018.71L199.69 1018.63L199.76 1018.71L199.69 1018.79M207.63 1018.91L207.48 1018.71L207.63 1018.51L207.82 1018.71L207.63 1018.91M209.22 1020.49L209.02 1020.29L209.22 1020.1L209.37 1020.29L209.22 1020.49M215.58 1020.37L215.5 1020.29L215.58 1020.21L215.65 1020.29L215.58 1020.37M220.34 1020.37L220.26 1020.29L220.34 1020.21L220.42 1020.29L220.34 1020.37M206.04 1021.97L205.96 1021.87L206.04 1021.78L206.13 1021.87L206.04 1021.97M228.29 1021.95L228.21 1021.87L228.29 1021.79L228.37 1021.87L228.29 1021.95M237.82 1021.95L237.74 1021.87L237.82 1021.79L237.9 1021.87L237.82 1021.95M210.81 1023.83L209.22 1023.84L208.82 1023.45L209.22 1022.97L210.81 1023.05L211.18 1023.45L210.81 1023.83M223.52 1025.4L223.14 1025.02L223.14 1023.45L223.52 1023.08L223.9 1023.45L223.9 1025.02L223.52 1025.4M244.18 1023.82L242.59 1023.82L242.22 1023.45L242.59 1023.07L244.18 1023.07L244.55 1023.45L244.18 1023.82M194.92 1025.1L194.84 1025.02L194.92 1024.94L195 1025.02L194.92 1025.1M206.04 1025.21L205.89 1025.02L206.04 1024.83L206.24 1025.02L206.04 1025.21M199.69 1030.22L198.1 1030.5L196.51 1030.18L196.09 1029.76L196.51 1029.21L197.31 1028.18L197.7 1026.6L198.1 1026.23L198.5 1026.6L199.07 1028.18L199.69 1028.98L200.24 1029.76L199.69 1030.22M207.63 1027.46L207.24 1026.6L207.63 1026.19L208.41 1026.6L207.63 1027.46M231.47 1026.71L231.39 1026.6L231.47 1026.52L231.55 1026.6L231.47 1026.71M201.27 1028.37L200.95 1028.18L201.27 1028.03L201.43 1028.18L201.27 1028.37M209.22 1032.12L207.63 1031.8L207.1 1031.34L207.63 1030.72L209.1 1029.76L207.74 1028.18L209.22 1026.73L210.68 1028.18L210.81 1028.97L211.2 1029.76L210.81 1030.55L210.24 1031.34L209.22 1032.12M218.75 1028.54L218.39 1028.18L218.75 1027.98L218.96 1028.18L218.75 1028.54M225.11 1028.26L225.03 1028.18L225.11 1028.1L225.19 1028.18L225.11 1028.26M206.04 1030.29L204.45 1030.14L204.07 1029.76L204.45 1029.38L206.04 1029.31L206.66 1029.76L206.04 1030.29M213.99 1030.04L213.79 1029.76L213.99 1029.61L214.46 1029.76L213.99 1030.04M217.16 1030.96L215.81 1029.76L217.16 1028.58L218.35 1029.76L217.16 1030.96M231.47 1029.84L231.38 1029.76L231.47 1029.65L231.55 1029.76L231.47 1029.84M215.58 1031.72L215.06 1031.34L215.58 1030.56L216.13 1031.34L215.58 1031.72M221.93 1031.42L221.85 1031.34L221.93 1031.26L222.01 1031.34L221.93 1031.42M228.29 1031.42L228.21 1031.34L228.29 1031.26L228.37 1031.34L228.29 1031.42M252.12 1032.35L251.1 1031.34L252.12 1030.32L253.15 1031.34L252.12 1032.35M210.81 1034.08L209.61 1032.91L210.81 1031.57L211.98 1032.91L210.81 1034.08M213.99 1033.06L213.71 1032.91L213.99 1032.64L214.18 1032.91L213.99 1033.06M218.75 1033.07L218.66 1032.91L218.75 1032.82L218.84 1032.91L218.75 1033.07M234.64 1032.99L234.57 1032.91L234.64 1032.84L234.72 1032.91L234.64 1032.99M202.86 1035.51L201.84 1034.49L202.86 1033.48L204.2 1034.49L202.86 1035.51M206.04 1035.66L204.69 1034.49L206.04 1033.44L207.21 1034.49L206.04 1035.66M223.52 1036.77L222.9 1036.07L222.42 1034.49L223.52 1033.39L224.63 1034.49L224.15 1036.07L223.52 1036.77M229.88 1034.57L229.8 1034.49L229.88 1034.41L229.96 1034.49L229.88 1034.57M207.63 1036.78L207.18 1036.07L207.63 1035.62L208.09 1036.07L207.63 1036.78M210.81 1036.28L210.53 1036.07L210.81 1035.79L210.98 1036.07L210.81 1036.28M215.58 1069.5L213.99 1069.43L212.4 1069.5L210.81 1069.5L209.22 1069.5L207.63 1069.5L206.04 1069.5L204.45 1069.5L202.86 1069.5L201.27 1069.5L199.69 1069.5L198.1 1069.5L196.51 1069.5L194.92 1069.21L194.92 1069.2L193.86 1067.63L193.33 1066.44L193.11 1066.05L193.33 1065.74L193.77 1064.48L193.64 1062.9L193.83 1061.32L193.88 1059.74L194.2 1058.16L194.44 1056.59L194.92 1055.86L195.16 1055.01L196.26 1053.43L194.92 1052.51L194.3 1051.85L194.3 1050.27L194.92 1049.66L196.51 1049.58L198.1 1049.33L198.27 1048.7L198.43 1047.12L199.69 1045.76L199.99 1045.54L200.46 1043.96L201.27 1043.01L202.04 1042.38L202.86 1041.73L204.45 1041.62L204.91 1040.8L206.04 1039.51L206.3 1039.23L207.63 1037.82L209.11 1039.23L209.22 1039.32L210.81 1040.8L211.86 1039.23L212.4 1038.39L212.66 1037.65L213.99 1036.48L215.58 1036.67L217.16 1036.64L217.54 1036.07L218.75 1034.9L219.94 1036.07L220.34 1036.9L220.89 1037.65L221.26 1039.23L221.93 1040.49L222.72 1039.23L223.52 1038.49L225.11 1038.44L225.88 1039.23L226.37 1040.8L226.7 1040.91L228.29 1040.82L228.38 1040.8L229.88 1040.12L230.74 1040.8L231.47 1041.1L233.06 1041.42L234.64 1040.98L235.13 1040.8L236.23 1040.03L237.82 1040.07L239.41 1039.85L241 1039.88L242.59 1039.69L243.84 1040.8L244.18 1042.12L244.6 1042.38L245.77 1042.48L247.36 1042.75L248.08 1042.38L248.95 1041.6L249.98 1040.8L250.54 1040.39L251.06 1040.8L251.17 1042.38L250.54 1043.11L249.77 1043.96L249.71 1045.54L250.54 1046.03L252.12 1046.61L252.75 1047.12L252.12 1048.21L252 1048.7L250.54 1050.04L250.13 1050.27L248.95 1051.16L247.42 1051.85L247.36 1051.92L245.77 1053.15L244.18 1053.28L243.97 1053.43L242.59 1054.59L241.28 1055.01L241 1055.22L240.59 1055.01L239.41 1054.36L238.57 1055.01L237.82 1055.46L236.97 1055.01L236.23 1054.76L235.88 1055.01L234.64 1055.91L233.06 1056.34L232.31 1056.59L231.47 1057.42L230.67 1058.16L229.88 1058.76L228.99 1058.16L228.29 1057.66L227.98 1058.16L227.4 1059.74L226.7 1060.43L225.11 1060.71L223.52 1060.95L223.17 1061.32L223.06 1062.9L221.93 1064.18L220.39 1062.9L220.34 1062.83L219.91 1062.9L220.34 1063.02L221.33 1064.48L221.32 1066.05L221.93 1066.85L222.48 1067.63L221.93 1068.1L220.34 1068.22L219.46 1067.63L219.41 1066.05L218.75 1065.52L217.55 1066.05L218.42 1067.63L217.16 1068.91L216.63 1069.21L215.58 1069.5M209.22 1038.64L208.43 1037.65L209.22 1037.13L209.63 1037.65L209.22 1038.64M226.7 1037.85L226.49 1037.65L226.7 1037.5L226.84 1037.65L226.7 1037.85M245.77 1041.73L245.06 1040.8L245.15 1039.23L245.77 1038.65L247.36 1038.8L247.79 1039.23L247.36 1039.78L246.33 1040.8L245.77 1041.73M219.01 1040.8L218.75 1040.52L218.5 1040.8L218.75 1040.89L219.01 1040.8M253.71 1040.89L253.6 1040.8L253.71 1040.72L253.79 1040.8L253.71 1040.89M256.89 1046.06L255.3 1045.94L254.92 1045.54L255.3 1045.16L256.89 1045.12L257.4 1045.54L256.89 1046.06M258.48 1047.26L258.28 1047.12L258.48 1046.93L258.63 1047.12L258.48 1047.26M253.71 1048.85L253.17 1048.7L253.71 1048.49L253.86 1048.7L253.71 1048.85M255.3 1051.93L255.22 1051.85L255.3 1051.77L255.38 1051.85L255.3 1051.93M247.36 1055.09L247.28 1055.01L247.36 1054.92L247.44 1055.01L247.36 1055.09M186.97 1059.82L186.89 1059.74L186.97 1059.66L187.05 1059.74L186.97 1059.82M231.47 1059.89L231.28 1059.74L231.47 1059.45L231.61 1059.74L231.47 1059.89M228.29 1063.1L228.1 1062.9L228.29 1062.75L228.43 1062.9L228.29 1063.1M226.7 1064.62L226.55 1064.48L226.7 1064.29L226.9 1064.48L226.7 1064.62M223.52 1066.25L223.2 1066.05L223.52 1065.89L223.68 1066.05L223.52 1066.25M229.88 1066.13L229.79 1066.05L229.88 1065.97L229.96 1066.05L229.88 1066.13M193.33 1069.5L192.9 1069.21L193.33 1068.55L194.9 1069.21L193.33 1069.5M209.22 1028.91L208.55 1028.18L209.22 1027.52L209.88 1028.18L209.22 1028.91M223.52 1034.65L223.45 1034.49L223.52 1034.42L223.59 1034.49L223.52 1034.65M210.81 1069.5L209.22 1069.5L207.63 1069.3L206.04 1069.5L204.45 1069.5L202.86 1069.5L201.27 1069.5L199.69 1069.5L198.1 1069.5L196.51 1069.5L195.68 1069.21L195.18 1067.63L195.03 1066.05L194.92 1064.93L194.78 1064.48L194.36 1062.9L194.71 1061.32L194.79 1059.74L194.92 1059.4L196.51 1058.37L196.69 1058.16L196.53 1056.59L196.51 1056.39L195.89 1055.01L196.51 1054.25L196.93 1053.43L196.54 1051.85L198.1 1050.52L198.37 1050.27L198.79 1048.7L199.2 1047.12L199.69 1046.59L201.15 1045.54L201.27 1045.16L201.62 1043.96L202.86 1042.86L204.45 1042.81L204.68 1042.38L205.83 1040.8L206.04 1040.56L207.29 1039.23L207.63 1038.87L208.01 1039.23L209.22 1040.33L209.73 1040.8L210.81 1041.19L212.4 1041.02L213.27 1040.8L213.78 1039.23L213.66 1037.65L213.99 1037.36L215.31 1037.65L215.58 1037.79L216.78 1039.23L216.66 1040.8L217.16 1040.96L218.75 1041.74L220.34 1041.37L221.93 1041.4L223.52 1042.28L225.11 1041.47L226.7 1041.53L228.29 1041.27L229.88 1041.11L231.47 1041.8L233.06 1042.27L234.64 1041.65L236.23 1041.24L237.28 1042.38L237.82 1043.11L238.16 1042.38L239.41 1040.87L241 1041.11L241.87 1042.38L242.59 1042.77L244.18 1042.79L245.77 1043.06L247.36 1043.76L247.81 1043.96L248.64 1045.54L248.95 1045.9L250.54 1047.02L250.73 1047.12L251.06 1048.7L250.54 1049.18L248.95 1050L248.68 1050.27L247.36 1051.12L246.58 1051.85L245.77 1052.51L244.18 1052.56L242.96 1053.43L242.59 1053.74L241.99 1053.43L241 1053.15L239.41 1051.95L237.82 1053.41L237.68 1053.43L236.23 1053.71L234.64 1054.83L234.24 1055.01L233.06 1055.49L232.3 1055.01L231.47 1054.66L229.88 1054.97L228.29 1054.75L227.56 1055.01L226.7 1056.38L226.58 1056.59L226.67 1058.16L225.11 1059.68L223.57 1059.74L223.52 1059.74L222.01 1061.32L222.07 1062.9L221.93 1063.05L221.75 1062.9L221.53 1061.32L220.34 1060.38L220.16 1061.32L218.75 1062.31L217.82 1062.9L218.06 1064.48L217.16 1065.05L215.58 1065.32L214.02 1066.05L215.58 1066.79L217.16 1067.42L217.32 1067.63L217.16 1067.79L215.58 1068.16L213.99 1068.6L212.4 1068.73L212.05 1069.21L210.81 1069.5M242.59 1041.02L242.03 1040.8L242.59 1040.7L242.71 1040.8L242.59 1041.02M213.98 1066.05L212.4 1065.42L211.44 1066.05L212.4 1067.08L213.98 1066.05M208.28 1067.63L207.63 1067.35L207.36 1067.63L207.63 1068.97L208.28 1067.63M204.45 1069.5L202.86 1069.5L201.27 1069.5L199.69 1069.5L198.1 1069.23L198.03 1069.21L198.1 1068.67L198.22 1067.63L198.1 1067.6L196.51 1067.57L195.67 1066.05L195.68 1064.48L196.19 1062.9L195.77 1061.32L195.82 1059.74L196.51 1059.18L197.44 1058.16L196.94 1056.59L196.88 1055.01L197.81 1053.43L197.6 1051.85L198.1 1051.42L199.35 1050.27L199.69 1048.95L199.72 1048.7L201.27 1047.24L201.41 1047.12L202.26 1045.54L202.86 1044.55L204.45 1044.11L204.7 1043.96L205.46 1042.38L206.04 1041.66L207.63 1040.91L209.22 1041.27L210.81 1041.91L212.4 1041.69L213.99 1041.32L215.58 1041.03L217.16 1041.58L218.26 1042.38L218.75 1042.93L220.34 1042.79L221.93 1043.71L223.52 1043.03L225.11 1042.88L226.7 1042.58L227.38 1042.38L228.29 1042.11L229.88 1042.23L230.19 1042.38L231.47 1042.62L233.06 1042.75L234.64 1042.68L236.23 1042.9L237.15 1043.96L237.82 1044.34L238.36 1043.96L239.31 1042.38L239.41 1042.25L239.64 1042.38L241 1042.83L242.59 1043.84L244.18 1043.58L245.36 1043.96L245.77 1044.22L247.36 1045.25L247.57 1045.54L247.36 1046.4L246.81 1047.12L246.46 1048.7L246.98 1050.27L245.77 1051.43L244.18 1050.48L243.9 1051.85L242.59 1053L241 1052.32L240.42 1051.85L239.41 1051.18L237.86 1051.85L237.82 1051.89L236.23 1052.52L234.64 1053.28L234.24 1053.43L233.06 1054.09L231.47 1053.66L229.88 1053.94L228.29 1053.89L226.7 1054.43L225.82 1055.01L225.11 1055.92L224.72 1056.59L223.52 1057.62L221.93 1057.75L221.16 1058.16L220.34 1058.87L219.61 1059.74L218.75 1061.1L218.57 1061.32L217.16 1062.39L215.71 1062.9L215.58 1063L213.99 1064L212.4 1064.36L210.81 1064.41L210.7 1064.48L209.65 1066.05L209.22 1066.56L207.63 1066.48L206.53 1067.63L206.04 1068.64L205.89 1069.21L204.45 1069.5M210.81 1068.25L210.15 1067.63L210.81 1067.07L211.35 1067.63L210.81 1068.25M209.22 1069.27L209.1 1069.21L209.22 1069.02L209.39 1069.21L209.22 1069.27M204.45 1069.5L202.86 1069.5L201.27 1069.36L200.56 1069.21L200.3 1067.63L199.69 1066.7L198.38 1066.05L198.1 1065.9L196.93 1064.48L198.1 1063.24L198.69 1062.9L198.1 1062.3L197.35 1061.32L197.88 1059.74L198.1 1059.48L198.25 1058.16L198.1 1057.56L197.6 1056.59L198.01 1055.01L198.1 1054.87L198.47 1053.43L198.68 1051.85L199.69 1050.89L200.4 1050.27L200.73 1048.7L201.27 1048.19L202.44 1047.12L202.86 1046.5L203.89 1045.54L204.45 1045.17L206.04 1044.16L206.17 1043.96L207.01 1042.38L207.63 1042L209.22 1042.29L209.43 1042.38L210.81 1042.81L212.4 1043.1L213.99 1042.82L214.19 1042.38L215.58 1041.88L216.75 1042.38L217.16 1042.81L218.17 1043.96L218.75 1044.51L220.34 1044.07L221.37 1045.54L221.93 1045.99L222.83 1045.54L223.52 1044.41L225.11 1044L225.88 1043.96L226.7 1043.9L228.29 1043.33L229.88 1043.07L231.47 1043.32L233.06 1043.4L234.64 1043.91L234.78 1043.96L236.23 1044.35L237.82 1045.28L239.41 1044.38L240.24 1045.54L240.84 1047.12L241 1047.31L241.86 1048.7L241 1050.25L239.41 1050.08L239.06 1050.27L237.82 1050.92L236.23 1051.08L234.64 1051.84L234.63 1051.85L233.06 1052.97L231.47 1052.71L229.88 1052.51L228.29 1052.14L226.7 1052.86L225.61 1051.85L225.11 1051.65L224.97 1051.85L223.87 1053.43L223.9 1055.01L223.52 1055.69L222.6 1056.59L221.93 1056.78L220.34 1057.34L219.61 1058.16L218.75 1059.18L218.39 1059.74L217.16 1061.13L215.91 1061.32L215.58 1061.39L213.99 1062.76L213.94 1062.9L212.4 1063.77L210.81 1063.71L209.43 1064.48L209.22 1064.74L207.63 1065.71L206.77 1066.05L206.04 1066.82L205.63 1067.63L205.11 1069.21L204.45 1069.5M244.18 1048.93L243.87 1048.7L244.18 1048.02L244.56 1048.7L244.18 1048.93M242.59 1052.12L242.09 1051.85L242.59 1051.21L242.89 1051.85L242.59 1052.12M204.45 1067.9L202.86 1067.83L202.53 1067.63L201.27 1066.84L200.8 1066.05L200.16 1064.48L201.27 1063.33L201.44 1062.9L201.27 1062.61L200.01 1061.32L199.69 1061L198.88 1059.74L198.81 1058.16L198.57 1056.59L199.26 1055.01L199.24 1053.43L199.69 1052.34L200.12 1051.85L201.27 1050.88L201.46 1050.27L202.02 1048.7L202.86 1047.9L203.33 1047.12L204.45 1046.02L205.8 1045.54L206.04 1045.37L206.95 1043.96L207.63 1043.13L209.2 1043.96L209.22 1043.97L210.81 1043.99L212.4 1045.22L213.99 1045.39L214.21 1045.54L215.58 1046.27L217.16 1046.12L218.75 1045.99L220.34 1046.3L221.36 1047.12L221.93 1047.54L222.55 1047.12L223.52 1046.52L225.11 1045.61L225.21 1045.54L226.7 1044.76L228.29 1044.49L229.88 1044.22L231.47 1044.94L232.7 1045.54L233.06 1045.77L233.33 1045.54L234.64 1045.11L235.76 1045.54L235.15 1047.12L236.23 1047.9L237.82 1047.94L238.63 1048.7L237.82 1049.09L236.23 1049.4L234.64 1050.01L234.46 1050.27L233.08 1051.85L233.06 1051.87L232.99 1051.85L231.47 1050.94L229.88 1051.22L228.29 1051.09L226.7 1051.21L225.11 1050.34L224.05 1051.85L223.52 1052.46L222.41 1053.43L221.93 1054.1L220.34 1054.15L218.75 1054.58L217.82 1055.01L217.44 1056.59L217.5 1058.16L217.16 1058.75L215.58 1059.25L214.8 1059.74L213.99 1060.12L212.4 1061.04L211.52 1061.32L210.81 1061.77L210.05 1062.9L209.22 1063.32L208.21 1064.48L207.63 1064.9L206.04 1065.21L204.49 1064.48L204.45 1064.46L204.43 1064.48L204.45 1065.15L204.5 1066.05L204.56 1067.63L204.45 1067.9M202.86 1063.56L202.65 1062.9L201.95 1061.32L201.27 1060.58L200.43 1059.74L199.75 1058.16L200.41 1056.59L201.01 1055.01L200.57 1053.43L201.27 1052.69L201.73 1051.85L202.17 1050.27L202.86 1049.25L203.31 1048.7L204.37 1047.12L204.45 1047.03L206.04 1046.64L207.45 1045.54L207.63 1045.23L209.22 1045.01L210.6 1045.54L210.81 1045.63L212.4 1046.86L212.92 1047.12L213.4 1048.7L213.99 1049.12L215.58 1049.34L217.16 1049.95L217.74 1048.7L218.75 1047.37L219.31 1048.7L220.34 1049.93L220.95 1050.27L220.52 1051.85L220.34 1051.99L218.75 1052.16L217.67 1051.85L217.16 1050.83L216.92 1051.85L215.58 1052.85L214.5 1053.43L215.58 1054.25L215.88 1055.01L215.58 1056.04L215.35 1056.59L213.99 1057.74L213.02 1058.16L212.4 1058.51L210.81 1059.38L210.17 1059.74L209.22 1060.49L208.4 1061.32L207.63 1062.15L206.04 1062.27L204.45 1062.75L204.02 1062.9L202.86 1063.56M228.29 1049.72L226.7 1048.83L226.43 1048.7L225.78 1047.12L226.7 1046.49L228.29 1045.87L229.52 1047.12L229.81 1048.7L228.29 1049.72M223.52 1049.88L223.04 1048.7L223.52 1048.33L224.37 1048.7L223.52 1049.88M233.06 1048.93L232.83 1048.7L233.06 1048.51L233.25 1048.7L233.06 1048.93M206.04 1060.43L204.89 1059.74L204.45 1059.56L202.86 1059.48L201.27 1058.64L200.96 1058.16L201.27 1057.77L201.82 1056.59L201.9 1055.01L201.74 1053.43L202.66 1051.85L202.86 1050.99L203.06 1050.27L204.32 1048.7L204.45 1048.5L206.04 1047.63L207.63 1047.32L208.85 1047.12L209.22 1046.91L210.81 1046.98L210.97 1047.12L211.89 1048.7L212.4 1049.9L213.06 1050.27L213.5 1051.85L212.52 1053.43L212.4 1053.64L211.88 1055.01L210.81 1056.45L210.73 1056.59L210.56 1058.16L209.22 1059.14L207.63 1059.41L206.9 1059.74L206.04 1060.43" stroke="#000" stroke-width="0.85" fill="none" stroke-linejoin="round"/>
<path d="" stroke="#111" stroke-width="1.3" fill="none"/>
<rect x="183" y="969" width="101.7" height="101" fill="none" stroke="#000" stroke-width="0.95"/>
<path d="M184.2 1070L184.2 1073M188.13 1070L188.13 1071.5M192.05 1070L192.05 1071.5M195.98 1070L195.98 1071.5M199.9 1070L199.9 1071.5M203.83 1070L203.83 1073M207.75 1070L207.75 1071.5M211.68 1070L211.68 1071.5M215.61 1070L215.61 1071.5M219.53 1070L219.53 1071.5M223.46 1070L223.46 1073M227.38 1070L227.38 1071.5M231.31 1070L231.31 1071.5M235.24 1070L235.24 1071.5M239.16 1070L239.16 1071.5M243.09 1070L243.09 1073M247.01 1070L247.01 1071.5M250.94 1070L250.94 1071.5M254.86 1070L254.86 1071.5M258.79 1070L258.79 1071.5M262.72 1070L262.72 1073M266.64 1070L266.64 1071.5M270.57 1070L270.57 1071.5M274.49 1070L274.49 1071.5M278.42 1070L278.42 1071.5M282.34 1070L282.34 1073M180 1070L183 1070M181.5 1062.4L183 1062.4M181.5 1057.95L183 1057.95M181.5 1054.8L183 1054.8M181.5 1052.35L183 1052.35M181.5 1050.35L183 1050.35M181.5 1048.66L183 1048.66M181.5 1047.2L183 1047.2M181.5 1045.91L183 1045.91M180 1044.75L183 1044.75M181.5 1037.15L183 1037.15M181.5 1032.7L183 1032.7M181.5 1029.55L183 1029.55M181.5 1027.1L183 1027.1M181.5 1025.1L183 1025.1M181.5 1023.41L183 1023.41M181.5 1021.95L183 1021.95M181.5 1020.66L183 1020.66M180 1019.5L183 1019.5M181.5 1011.9L183 1011.9M181.5 1007.45L183 1007.45M181.5 1004.3L183 1004.3M181.5 1001.85L183 1001.85M181.5 999.85L183 999.85M181.5 998.16L183 998.16M181.5 996.7L183 996.7M181.5 995.41L183 995.41M180 994.25L183 994.25M181.5 986.65L183 986.65M181.5 982.2L183 982.2M181.5 979.05L183 979.05M181.5 976.6L183 976.6M181.5 974.6L183 974.6M181.5 972.91L183 972.91M181.5 971.45L183 971.45M181.5 970.16L183 970.16M180 969L183 969" stroke="#000" stroke-width="0.7" fill="none"/>
<text transform="translate(185.2 1082.4) scale(0.86 1)" font-size="8.9" text-anchor="middle" stroke="#000" stroke-width="0.18">0</text>
<text transform="translate(204.13 1082.4) scale(0.86 1)" font-size="8.9" text-anchor="middle" stroke="#000" stroke-width="0.18">50</text>
<text transform="translate(223.76 1082.4) scale(0.86 1)" font-size="8.9" text-anchor="middle" stroke="#000" stroke-width="0.18">100</text>
<text transform="translate(243.39 1082.4) scale(0.86 1)" font-size="8.9" text-anchor="middle" stroke="#000" stroke-width="0.18">150</text>
<text transform="translate(263.02 1082.4) scale(0.86 1)" font-size="8.9" text-anchor="middle" stroke="#000" stroke-width="0.18">200</text>
<text transform="translate(282.64 1082.4) scale(0.86 1)" font-size="8.9" text-anchor="middle" stroke="#000" stroke-width="0.18">250</text>
<text transform="translate(178 1074) rotate(-90) scale(0.86 1)" font-size="8.9" stroke="#000" stroke-width="0.18">10<tspan dy="-3" dx="0.4" font-size="7.6">0</tspan></text>
<text transform="translate(178 1048.75) rotate(-90) scale(0.86 1)" font-size="8.9" stroke="#000" stroke-width="0.18">10<tspan dy="-3" dx="0.4" font-size="7.6">1</tspan></text>
<text transform="translate(178 1023.5) rotate(-90) scale(0.86 1)" font-size="8.9" stroke="#000" stroke-width="0.18">10<tspan dy="-3" dx="0.4" font-size="7.6">2</tspan></text>
<text transform="translate(178 998.25) rotate(-90) scale(0.86 1)" font-size="8.9" stroke="#000" stroke-width="0.18">10<tspan dy="-3" dx="0.4" font-size="7.6">3</tspan></text>
<text transform="translate(178 973) rotate(-90) scale(0.86 1)" font-size="8.9" stroke="#000" stroke-width="0.18">10</text>
<path d="M238.82 1173.15L238.51 1171.98L237.82 1170.4L237.23 1169L236.24 1168.82L237.23 1168.68L238.82 1168.31L240.41 1167.95L241.34 1168.82L242 1170.23L242.13 1170.4L242 1171.39L240.41 1171.06L239.18 1171.98L238.82 1173.15M234.06 1179.11L233.24 1178.31L233.69 1176.73L233.84 1175.15L234.06 1174.97L235.5 1173.56L235.64 1172.65L235.77 1173.56L235.76 1175.15L235.64 1175.27L234.36 1176.73L234.85 1178.31L234.06 1179.11M230.88 1177.62L229.88 1176.73L229.29 1175.39L229.12 1175.15L229.29 1174.99L230.88 1174.19L231.93 1175.15L231.83 1176.73L230.88 1177.62M200.69 1202.32L199.1 1202.85L198.29 1202.06L199.1 1201.18L200.3 1200.47L200.55 1198.89L200.69 1198.72L202.04 1197.31L202.27 1196.96L202.75 1195.72L202.27 1194.45L200.69 1195.09L200.6 1194.14L200.69 1194.06L202.27 1193.98L203.86 1193.6L205.45 1193L205.69 1192.56L206.21 1190.98L206.84 1189.39L207.04 1189.17L208.16 1187.81L208.63 1187.38L210.22 1186.57L211.77 1186.23L211.81 1186.2L213.17 1184.64L213.4 1184.35L213.79 1183.06L214.99 1181.88L216.19 1183.06L216.58 1184.6L216.64 1184.64L218.16 1185.35L218.37 1184.64L218.67 1183.06L219.75 1181.86L220.13 1181.48L221.34 1180.32L222.29 1179.9L222.12 1178.31L222.93 1178.23L223.02 1178.31L223.64 1179.9L224.52 1180.38L224.87 1179.9L226.11 1178.84L227.7 1178.72L229.29 1178.47L230.7 1179.9L229.29 1181.36L228.88 1181.48L227.72 1183.06L227.7 1183.09L227.58 1183.06L226.11 1182.99L225.83 1183.06L225.18 1184.64L224.84 1186.23L224.52 1186.55L222.93 1187.32L221.34 1187.61L220.96 1187.81L219.75 1188.83L218.16 1188.81L217.78 1189.39L216.58 1190.75L216.43 1190.98L215.46 1192.56L214.99 1193.07L213.4 1193.16L213.26 1194.14L213.13 1195.72L211.81 1195.74L210.22 1197.04L208.63 1196.89L207.47 1197.31L207.15 1198.89L207.04 1199.03L205.62 1200.47L205.45 1200.62L203.86 1200.61L202.27 1200.8L200.99 1202.06L200.69 1202.32M232.47 1182.2L231.7 1181.48L232.47 1180.74L233.19 1181.48L232.47 1182.2M205.2 1198.89L205.45 1198.67L206.63 1197.31L205.75 1195.72L205.45 1195.38L205.1 1195.72L204.25 1197.31L203.86 1197.74L202.73 1198.89L203.86 1200.26L205.2 1198.89M195.92 1205.33L195.79 1205.22L194.33 1203.76L194.22 1203.64L194.33 1203.53L195.92 1202.79L196.78 1203.64L196.03 1205.22L195.92 1205.33M214.99 1210.94L214.11 1209.97L214.99 1209.23L215.74 1209.97L214.99 1210.94M213.4 1230.65L213.27 1230.55L211.81 1229.55L210.22 1229.47L208.78 1230.55L208.63 1230.68L207.04 1230.72L206.84 1230.55L205.45 1229.17L203.86 1229.27L202.27 1230.3L200.69 1229.28L199.1 1229.91L197.81 1228.96L199.1 1227.91L200.69 1228.65L202.27 1228.65L203.7 1227.38L203.27 1225.8L202.54 1224.21L203.86 1222.89L205.45 1223.12L206.73 1222.63L206.52 1221.05L205.78 1219.47L206.01 1217.88L205.95 1216.3L205.52 1214.72L207.04 1213.25L208.63 1213.97L209.71 1213.14L210.22 1212.73L211.81 1212.1L212.42 1211.55L213.4 1210.6L214.45 1211.55L214.99 1212.52L215.41 1213.14L216.58 1214.54L216.75 1214.72L216.58 1214.98L215.8 1216.3L216.58 1217.36L218.16 1216.57L218.42 1217.88L218.62 1219.47L219.39 1221.05L219.75 1222.63L218.4 1224.21L219.75 1225.65L219.86 1225.8L219.75 1226.84L218.16 1226.14L216.58 1226.04L215.89 1227.38L214.99 1228.34L213.67 1227.38L213.4 1226.99L213.2 1227.38L213.4 1227.63L214.41 1228.96L213.51 1230.55L213.4 1230.65M208.87 1217.88L210.22 1216.37L210.25 1216.3L210.22 1216.26L210.2 1216.3L208.63 1217.8L208.5 1217.88L208.63 1218.12L208.87 1217.88M216.6 1221.05L217.5 1219.47L216.58 1218.47L216.29 1219.47L216.56 1221.05L216.58 1221.27L216.6 1221.05M208.71 1222.63L208.63 1222.42L207.99 1222.63L208.63 1222.7L208.71 1222.63M217.87 1224.21L216.58 1223.07L215.78 1224.21L216.58 1225.51L217.87 1224.21M235.64 1224.94L234.92 1224.21L235.64 1223.49L236.37 1224.21L235.64 1224.94M206.34 1227.38L205.77 1225.8L205.45 1225.47L204.74 1225.8L204.05 1227.38L205.45 1228.74L206.34 1227.38M194.33 1234.03L192.74 1233.87L191.15 1233.8L191.07 1233.71L191.02 1232.13L191.04 1230.55L191.15 1230.42L192.59 1228.96L192.74 1228.81L193.99 1227.38L194.33 1226.1L195.92 1226.81L197.51 1226.49L198.57 1227.38L197.51 1228.67L197.27 1228.96L197.51 1230.1L197.7 1230.55L197.51 1230.85L197.34 1232.13L195.92 1233.5L194.88 1233.71L194.33 1234.03M193.12 1232.13L194.33 1230.88L194.87 1230.55L194.33 1229.73L193.13 1230.55L192.74 1230.89L191.42 1232.13L192.74 1233.41L193.12 1232.13M238.82 1170.46L238.79 1170.4L238.82 1170.32L238.9 1170.4L238.82 1170.46M230.88 1175.15L230.88 1175.15L230.88 1175.15L230.88 1175.15L230.88 1175.15M226.11 1182.57L224.55 1181.48L225.72 1179.9L226.11 1179.56L227.7 1179.45L229.29 1178.89L230.28 1179.9L229.29 1180.92L227.7 1181.13L227.6 1181.48L226.11 1182.57M219.75 1187.95L218.75 1187.81L218.58 1186.23L218.93 1184.64L219.5 1183.06L219.75 1182.78L221.04 1181.48L221.34 1181.19L222.93 1180.38L224.47 1181.48L224.43 1183.06L224.31 1184.64L223.63 1186.23L222.93 1186.64L221.34 1187.06L219.92 1187.81L219.75 1187.95M214.99 1183.95L214.53 1183.06L214.99 1182.61L215.45 1183.06L214.99 1183.95M210.22 1196.54L208.63 1196.15L207.04 1195.99L206.86 1195.72L207.04 1194.73L207.28 1194.14L207.04 1194.02L206.32 1192.56L207.04 1191.23L207.17 1190.98L208.63 1189.48L208.78 1189.39L209.31 1187.81L210.22 1187.22L211.07 1187.81L211.81 1188.12L213.4 1187.94L213.48 1187.81L214.99 1186.43L216.58 1186.53L218.13 1187.81L217.07 1189.39L216.58 1189.94L215.92 1190.98L214.99 1192.12L213.4 1191.38L213.18 1192.56L212.81 1194.14L211.81 1195.24L210.38 1194.14L210.22 1194.02L209.7 1194.14L210.22 1194.36L211.2 1195.72L210.22 1196.54M214.99 1215.48L213.4 1216.26L212.31 1214.72L213.4 1213.25L214.99 1214.11L215.52 1214.72L214.99 1215.48M207.04 1220.43L206.43 1219.47L206.82 1217.88L206.76 1216.3L207.04 1215.7L208.63 1215.24L209.37 1216.3L208.63 1217.01L207.35 1217.88L208.17 1219.47L207.04 1220.43M211.81 1227.75L210.22 1227.99L208.63 1228.14L207.86 1227.38L207.04 1226.38L206.74 1225.8L207.04 1224.89L207.29 1224.21L208.63 1223.37L209.59 1222.63L208.86 1221.05L209.15 1219.47L210.22 1218.39L210.44 1217.88L211.41 1216.3L211.81 1215.84L213.21 1216.3L213.4 1216.37L214.99 1217.18L215.53 1217.88L215.59 1219.47L216.05 1221.05L215.05 1222.63L214.99 1222.73L214.62 1224.21L213.4 1225.45L211.81 1225.69L210.22 1225.61L210.1 1225.8L210.22 1226.14L211.81 1226.59L212.01 1227.38L211.81 1227.75M218.16 1221.99L217.51 1221.05L218.16 1220.25L218.68 1221.05L218.16 1221.99M205.45 1224.48L203.86 1225.38L203.04 1224.21L203.86 1223.4L205.45 1223.98L206.3 1224.21L205.45 1224.48M195.92 1229.15L195.81 1228.96L195.92 1228.85L195.98 1228.96L195.92 1229.15M195.92 1232.99L194.33 1232.52L194.08 1232.13L194.33 1231.88L195.92 1230.82L196.81 1232.13L195.92 1232.99M229.29 1180.29L228.47 1179.9L229.29 1179.52L229.67 1179.9L229.29 1180.29M221.34 1186.25L219.75 1186.31L219.7 1186.23L219.75 1184.76L219.77 1184.64L221.34 1183.66L221.58 1183.06L222.85 1181.48L222.93 1181.43L222.99 1181.48L223.77 1183.06L223.54 1184.64L222.93 1185.56L221.41 1186.23L221.34 1186.25M226.11 1181.96L225.42 1181.48L226.11 1180.63L226.77 1181.48L226.11 1181.96M216.58 1188.99L214.99 1189.09L214.36 1187.81L214.99 1187.24L216.58 1187.03L217.53 1187.81L216.58 1188.99M211.81 1194.51L211.32 1194.14L210.22 1193.35L208.63 1193.15L207.6 1192.56L208 1190.98L208.63 1190.33L210.22 1189.46L210.31 1189.39L211.81 1188.69L213.4 1189.22L214.11 1189.39L213.4 1189.62L212.8 1190.98L212.8 1192.56L212.15 1194.14L211.81 1194.51M214.99 1191.2L214.62 1190.98L214.99 1190.03L215.17 1190.98L214.99 1191.2M210.22 1195.8L209.99 1195.72L210.22 1195.6L210.31 1195.72L210.22 1195.8M213.4 1215.03L213.18 1214.72L213.4 1214.42L213.83 1214.72L213.4 1215.03M213.4 1224.36L211.81 1224.76L210.88 1224.21L211.81 1222.91L212.05 1222.63L211.81 1222.23L210.22 1221.87L209.73 1221.05L210.22 1220.19L211.06 1219.47L211.31 1217.88L211.81 1217.21L212.83 1217.88L213.4 1218.34L214.44 1219.47L214.99 1220.24L215.31 1221.05L214.99 1221.54L214.06 1222.63L213.55 1224.21L213.4 1224.36M203.86 1224.34L203.78 1224.21L203.86 1224.13L204.06 1224.21L203.86 1224.34M195.92 1232.23L195.69 1232.13L195.92 1231.97L196.02 1232.13L195.92 1232.23" stroke="#000" stroke-width="0.85" fill="none" stroke-linejoin="round"/>
<path d="M230.18 1168.82h1.4M234.94 1168.82h1.4M246.07 1168.82h1.4M252.42 1168.82h1.4M233.36 1170.4h1.4M192.04 1171.98h1.4M193.63 1171.98h1.4M234.94 1171.98h1.4M241.3 1171.98h1.4M231.77 1173.56h1.4M238.12 1173.56h1.4M196.81 1175.15h1.4M203.16 1175.15h1.4M227 1176.73h1.4M238.12 1176.73h1.4M217.46 1178.31h1.4M220.64 1178.31h1.4M198.4 1179.9h1.4M214.29 1179.9h1.4M207.93 1181.48h1.4M217.46 1181.48h1.4M249.25 1186.23h1.4M192.04 1189.39h1.4M238.12 1189.39h1.4M192.04 1190.98h1.4M203.16 1190.98h1.4M219.05 1190.98h1.4M220.64 1190.98h1.4M215.88 1194.14h1.4M222.23 1194.14h1.4M192.04 1195.72h1.4M199.99 1195.72h1.4M212.7 1195.72h1.4M214.29 1195.72h1.4M223.82 1195.72h1.4M252.42 1195.72h1.4M195.22 1197.31h1.4M196.81 1197.31h1.4M225.41 1198.89h1.4M239.71 1198.89h1.4M206.34 1202.06h1.4M227 1202.06h1.4M239.71 1202.06h1.4M185.68 1205.22h1.4M211.11 1205.22h1.4M188.86 1206.8h1.4M211.11 1206.8h1.4M207.93 1209.97h1.4M217.46 1211.55h1.4M250.84 1211.55h1.4M206.34 1213.14h1.4M231.77 1213.14h1.4M204.75 1214.72h1.4M217.46 1216.3h1.4M223.82 1216.3h1.4M203.16 1219.47h1.4M220.64 1219.47h1.4M246.07 1221.05h1.4M219.05 1222.63h1.4M193.63 1225.8h1.4M198.4 1225.8h1.4M199.99 1225.8h1.4M219.05 1227.38h1.4M217.46 1228.96h1.4M201.57 1230.55h1.4M246.07 1230.55h1.4M198.4 1232.13h1.4M204.75 1232.13h1.4M250.84 1232.13h1.4M199.99 1233.71h1.4M209.52 1233.71h1.4M211.11 1238.46h1.4M231.77 1238.46h1.4M196.81 1240.04h1.4M211.11 1240.04h1.4M231.77 1240.04h1.4" stroke="#111" stroke-width="1.3" fill="none"/>
<rect x="184" y="1142.7" width="101.7" height="101.3" fill="none" stroke="#000" stroke-width="0.95"/>
<path d="M185.2 1244L185.2 1247M189.13 1244L189.13 1245.5M193.05 1244L193.05 1245.5M196.98 1244L196.98 1245.5M200.9 1244L200.9 1245.5M204.83 1244L204.83 1247M208.75 1244L208.75 1245.5M212.68 1244L212.68 1245.5M216.61 1244L216.61 1245.5M220.53 1244L220.53 1245.5M224.46 1244L224.46 1247M228.38 1244L228.38 1245.5M232.31 1244L232.31 1245.5M236.24 1244L236.24 1245.5M240.16 1244L240.16 1245.5M244.09 1244L244.09 1247M248.01 1244L248.01 1245.5M251.94 1244L251.94 1245.5M255.86 1244L255.86 1245.5M259.79 1244L259.79 1245.5M263.72 1244L263.72 1247M267.64 1244L267.64 1245.5M271.57 1244L271.57 1245.5M275.49 1244L275.49 1245.5M279.42 1244L279.42 1245.5M283.34 1244L283.34 1247M181 1244L184 1244M182.5 1236.38L184 1236.38M182.5 1231.92L184 1231.92M182.5 1228.75L184 1228.75M182.5 1226.3L184 1226.3M182.5 1224.29L184 1224.29M182.5 1222.6L184 1222.6M182.5 1221.13L184 1221.13M182.5 1219.83L184 1219.83M181 1218.67L184 1218.67M182.5 1211.05L184 1211.05M182.5 1206.59L184 1206.59M182.5 1203.43L184 1203.43M182.5 1200.97L184 1200.97M182.5 1198.97L184 1198.97M182.5 1197.27L184 1197.27M182.5 1195.8L184 1195.8M182.5 1194.51L184 1194.51M181 1193.35L184 1193.35M182.5 1185.73L184 1185.73M182.5 1181.27L184 1181.27M182.5 1178.1L184 1178.1M182.5 1175.65L184 1175.65M182.5 1173.64L184 1173.64M182.5 1171.95L184 1171.95M182.5 1170.48L184 1170.48M182.5 1169.18L184 1169.18M181 1168.03L184 1168.03M182.5 1160.4L184 1160.4M182.5 1155.94L184 1155.94M182.5 1152.78L184 1152.78M182.5 1150.32L184 1150.32M182.5 1148.32L184 1148.32M182.5 1146.62L184 1146.62M182.5 1145.15L184 1145.15M182.5 1143.86L184 1143.86M181 1142.7L184 1142.7" stroke="#000" stroke-width="0.7" fill="none"/>
<text transform="translate(186.2 1256.4) scale(0.86 1)" font-size="8.9" text-anchor="middle" stroke="#000" stroke-width="0.18">0</text>
<text transform="translate(205.13 1256.4) scale(0.86 1)" font-size="8.9" text-anchor="middle" stroke="#000" stroke-width="0.18">50</text>
<text transform="translate(224.76 1256.4) scale(0.86 1)" font-size="8.9" text-anchor="middle" stroke="#000" stroke-width="0.18">100</text>
<text transform="translate(244.39 1256.4) scale(0.86 1)" font-size="8.9" text-anchor="middle" stroke="#000" stroke-width="0.18">150</text>
<text transform="translate(264.02 1256.4) scale(0.86 1)" font-size="8.9" text-anchor="middle" stroke="#000" stroke-width="0.18">200</text>
<text transform="translate(283.64 1256.4) scale(0.86 1)" font-size="8.9" text-anchor="middle" stroke="#000" stroke-width="0.18">250</text>
<text transform="translate(179 1248) rotate(-90) scale(0.86 1)" font-size="8.9" stroke="#000" stroke-width="0.18">10<tspan dy="-3" dx="0.4" font-size="7.6">0</tspan></text>
<text transform="translate(179 1222.67) rotate(-90) scale(0.86 1)" font-size="8.9" stroke="#000" stroke-width="0.18">10<tspan dy="-3" dx="0.4" font-size="7.6">1</tspan></text>
<text transform="translate(179 1197.35) rotate(-90) scale(0.86 1)" font-size="8.9" stroke="#000" stroke-width="0.18">10<tspan dy="-3" dx="0.4" font-size="7.6">2</tspan></text>
<text transform="translate(179 1172.03) rotate(-90) scale(0.86 1)" font-size="8.9" stroke="#000" stroke-width="0.18">10<tspan dy="-3" dx="0.4" font-size="7.6">3</tspan></text>
<text transform="translate(179 1146.7) rotate(-90) scale(0.86 1)" font-size="8.9" stroke="#000" stroke-width="0.18">10</text>
<path d="M326 905.7 L326 844.04 L327 844.04 L327 834.67 L327.99 834.67 L327.99 828.44 L328.99 828.44 L328.99 819.37 L329.99 819.37 L329.99 820.86 L330.99 820.86 L330.99 820.74 L331.98 820.74 L331.98 825.24 L332.98 825.24 L332.98 837.05 L333.98 837.05 L333.98 855.56 L334.97 855.56 L334.97 870.18 L335.97 870.18 L335.97 882.46 L336.97 882.46 L336.97 892.13 L337.97 892.13 L337.97 898.26 L338.96 898.26 L338.96 901.8 L339.96 901.8 L339.96 903.63 L340.96 903.63 L340.96 904.43 L341.95 904.43 L341.95 904.73 L342.95 904.73 L342.95 904.85 L343.95 904.85 L343.95 904.89 L344.94 904.89 L344.94 904.9 L345.94 904.9 L345.94 904.9 L346.94 904.9 L346.94 904.9 L347.94 904.9 L347.94 905.7 L348.93 905.7 L348.93 905.7 L349.93 905.7 L349.93 905.7 L350.93 905.7 L350.93 905.7 L351.92 905.7 L351.92 905.7 L352.92 905.7 L352.92 905.7 L353.92 905.7 L353.92 905.7 L354.92 905.7 L354.92 905.7 L355.91 905.7 L355.91 905.7 L356.91 905.7 L356.91 905.7 L357.91 905.7 L357.91 905.7 L358.9 905.7 L358.9 905.7 L359.9 905.7 L359.9 905.7 L360.9 905.7 L360.9 905.7 L361.9 905.7 L361.9 905.7 L362.89 905.7 L362.89 905.7 L363.89 905.7 L363.89 905.7 L364.89 905.7 L364.89 905.7 L365.88 905.7 L365.88 905.7 L366.88 905.7 L366.88 905.7 L367.88 905.7 L367.88 905.7 L368.87 905.7 L368.87 905.7 L369.87 905.7 L369.87 905.7 L370.87 905.7 L370.87 905.7 L371.87 905.7 L371.87 905.7 L372.86 905.7 L372.86 905.7 L373.86 905.7 L373.86 905.7 L374.86 905.7 L374.86 905.7 L375.85 905.7 L375.85 905.7 L376.85 905.7 L376.85 905.7 L377.85 905.7 L377.85 905.7 L378.85 905.7 L378.85 905.7 L379.84 905.7 L379.84 905.7 L380.84 905.7 L380.84 905.7 L381.84 905.7 L381.84 905.7 L382.83 905.7 L382.83 905.7 L383.83 905.7 L383.83 905.7 L384.83 905.7 L384.83 905.7 L385.83 905.7 L385.83 905.7 L386.82 905.7 L386.82 905.7 L387.82 905.7 L387.82 905.7 L388.82 905.7 L388.82 905.7 L389.81 905.7 L389.81 905.7 L390.81 905.7 L390.81 905.7 L391.81 905.7 L391.81 905.7 L392.8 905.7 L392.8 905.7 L393.8 905.7 L393.8 905.7 L394.8 905.7 L394.8 905.7 L395.8 905.7 L395.8 905.7 L396.79 905.7 L396.79 905.7 L397.79 905.7 L397.79 905.7 L398.79 905.7 L398.79 905.7 L399.78 905.7 L399.78 905.7 L400.78 905.7 L400.78 905.7 L401.78 905.7 L401.78 905.7 L402.78 905.7 L402.78 905.7 L403.77 905.7 L403.77 905.7 L404.77 905.7 L404.77 905.7 L405.77 905.7 L405.77 905.7 L406.76 905.7 L406.76 905.7 L407.76 905.7 L407.76 905.7 L408.76 905.7 L408.76 905.7 L409.76 905.7 L409.76 905.7 L410.75 905.7 L410.75 905.7 L411.75 905.7 L411.75 905.7 L412.75 905.7 L412.75 905.7 L413.74 905.7 L413.74 905.7 L414.74 905.7 L414.74 905.7 L415.74 905.7 L415.74 905.7 L416.73 905.7 L416.73 905.7 L417.73 905.7 L417.73 905.7 L418.73 905.7 L418.73 905.7 L419.73 905.7 L419.73 905.7 L420.72 905.7 L420.72 905.7 L421.72 905.7 L421.72 905.7 L422.72 905.7 L422.72 905.7 L423.71 905.7 L423.71 905.7 L424.71 905.7 L424.71 905.7 L425.71 905.7 L425.71 905.7 L426.71 905.7 L426.71 905.7 L427.7 905.7 L427.7 905.7 L428.7 905.7 L428.7 905.7Z" fill="#000" stroke="#000" stroke-width="0.3"/>
<rect x="326" y="804" width="102.7" height="101.7" fill="none" stroke="#000" stroke-width="0.95"/>
<path d="M326 905.7L326 908.7M333.73 905.7L333.73 907.2M338.25 905.7L338.25 907.2M341.46 905.7L341.46 907.2M343.95 905.7L343.95 907.2M345.98 905.7L345.98 907.2M347.7 905.7L347.7 907.2M349.19 905.7L349.19 907.2M350.5 905.7L350.5 907.2M351.68 905.7L351.68 908.7M359.4 905.7L359.4 907.2M363.93 905.7L363.93 907.2M367.13 905.7L367.13 907.2M369.62 905.7L369.62 907.2M371.65 905.7L371.65 907.2M373.37 905.7L373.37 907.2M374.86 905.7L374.86 907.2M376.18 905.7L376.18 907.2M377.35 905.7L377.35 908.7M385.08 905.7L385.08 907.2M389.6 905.7L389.6 907.2M392.81 905.7L392.81 907.2M395.3 905.7L395.3 907.2M397.33 905.7L397.33 907.2M399.05 905.7L399.05 907.2M400.54 905.7L400.54 907.2M401.85 905.7L401.85 907.2M403.02 905.7L403.02 908.7M410.75 905.7L410.75 907.2M415.28 905.7L415.28 907.2M418.48 905.7L418.48 907.2M420.97 905.7L420.97 907.2M423 905.7L423 907.2M424.72 905.7L424.72 907.2M426.21 905.7L426.21 907.2M427.53 905.7L427.53 907.2M428.7 905.7L428.7 908.7M323 905.2L326 905.2M324.5 901.15L326 901.15M324.5 897.1L326 897.1M324.5 893.06L326 893.06M324.5 889.01L326 889.01M323 884.96L326 884.96M324.5 880.91L326 880.91M324.5 876.86L326 876.86M324.5 872.82L326 872.82M324.5 868.77L326 868.77M323 864.72L326 864.72M324.5 860.67L326 860.67M324.5 856.62L326 856.62M324.5 852.58L326 852.58M324.5 848.53L326 848.53M323 844.48L326 844.48M324.5 840.43L326 840.43M324.5 836.38L326 836.38M324.5 832.34L326 832.34M324.5 828.29L326 828.29M323 824.24L326 824.24M324.5 820.19L326 820.19M324.5 816.14L326 816.14M324.5 812.1L326 812.1M324.5 808.05L326 808.05M323 804L326 804" stroke="#000" stroke-width="0.7" fill="none"/>
<text transform="translate(320.2 920.2) scale(0.86 1)" font-size="8.9" stroke="#000" stroke-width="0.18">10<tspan dy="-3" dx="0.4" font-size="7.6">0</tspan></text>
<text transform="translate(345.88 920.2) scale(0.86 1)" font-size="8.9" stroke="#000" stroke-width="0.18">10<tspan dy="-3" dx="0.4" font-size="7.6">1</tspan></text>
<text transform="translate(371.55 920.2) scale(0.86 1)" font-size="8.9" stroke="#000" stroke-width="0.18">10<tspan dy="-3" dx="0.4" font-size="7.6">2</tspan></text>
<text transform="translate(397.22 920.2) scale(0.86 1)" font-size="8.9" stroke="#000" stroke-width="0.18">10<tspan dy="-3" dx="0.4" font-size="7.6">3</tspan></text>
<text transform="translate(422.9 920.2) scale(0.86 1)" font-size="8.9" stroke="#000" stroke-width="0.18">10<tspan dy="-3" dx="0.4" font-size="7.6">4</tspan></text>
<text transform="translate(321.2 905.5) rotate(-90) scale(0.86 1)" font-size="8.9" text-anchor="middle" stroke="#000" stroke-width="0.18">0</text>
<text transform="translate(321.2 885.26) rotate(-90) scale(0.86 1)" font-size="8.9" text-anchor="middle" stroke="#000" stroke-width="0.18">140</text>
<text transform="translate(321.2 865.02) rotate(-90) scale(0.86 1)" font-size="8.9" text-anchor="middle" stroke="#000" stroke-width="0.18">280</text>
<text transform="translate(321.2 844.78) rotate(-90) scale(0.86 1)" font-size="8.9" text-anchor="middle" stroke="#000" stroke-width="0.18">420</text>
<text transform="translate(321.2 824.54) rotate(-90) scale(0.86 1)" font-size="8.9" text-anchor="middle" stroke="#000" stroke-width="0.18">560</text>
<text transform="translate(321.2 804.3) rotate(-90) scale(0.86 1)" font-size="8.9" text-anchor="middle" stroke="#000" stroke-width="0.18">70</text>
<path d="M326 1070 L326 1068.71 L327 1068.71 L327 1068.2 L327.99 1068.2 L327.99 1068.13 L328.99 1068.13 L328.99 1068.63 L329.99 1068.63 L329.99 1068.01 L330.99 1068.01 L330.99 1068.74 L331.98 1068.74 L331.98 1068.26 L332.98 1068.26 L332.98 1068.19 L333.98 1068.19 L333.98 1067.93 L334.97 1067.93 L334.97 1066.73 L335.97 1066.73 L335.97 1065.97 L336.97 1065.97 L336.97 1062.78 L337.97 1062.78 L337.97 1059.59 L338.96 1059.59 L338.96 1053.78 L339.96 1053.78 L339.96 1044.62 L340.96 1044.62 L340.96 1032.28 L341.95 1032.28 L341.95 1022.07 L342.95 1022.07 L342.95 1008.54 L343.95 1008.54 L343.95 996 L344.94 996 L344.94 990.67 L345.94 990.67 L345.94 983.86 L346.94 983.86 L346.94 979.63 L347.94 979.63 L347.94 987.73 L348.93 987.73 L348.93 1005.03 L349.93 1005.03 L349.93 1021.12 L350.93 1021.12 L350.93 1035.43 L351.92 1035.43 L351.92 1047.62 L352.92 1047.62 L352.92 1055.19 L353.92 1055.19 L353.92 1061.64 L354.92 1061.64 L354.92 1064.74 L355.91 1064.74 L355.91 1066.82 L356.91 1066.82 L356.91 1067.83 L357.91 1067.83 L357.91 1068.21 L358.9 1068.21 L358.9 1068.38 L359.9 1068.38 L359.9 1068.17 L360.9 1068.17 L360.9 1068.49 L361.9 1068.49 L361.9 1068.23 L362.89 1068.23 L362.89 1068.19 L363.89 1068.19 L363.89 1068.71 L364.89 1068.71 L364.89 1068.36 L365.88 1068.36 L365.88 1068.77 L366.88 1068.77 L366.88 1068.17 L367.88 1068.17 L367.88 1068.48 L368.87 1068.48 L368.87 1068.07 L369.87 1068.07 L369.87 1068.33 L370.87 1068.33 L370.87 1068.71 L371.87 1068.71 L371.87 1068.07 L372.86 1068.07 L372.86 1068.22 L373.86 1068.22 L373.86 1068.18 L374.86 1068.18 L374.86 1068.51 L375.85 1068.51 L375.85 1068.59 L376.85 1068.59 L376.85 1068.17 L377.85 1068.17 L377.85 1068.21 L378.85 1068.21 L378.85 1068.73 L379.84 1068.73 L379.84 1068.55 L380.84 1068.55 L380.84 1068.34 L381.84 1068.34 L381.84 1068.61 L382.83 1068.61 L382.83 1068.53 L383.83 1068.53 L383.83 1068.4 L384.83 1068.4 L384.83 1068.57 L385.83 1068.57 L385.83 1068.08 L386.82 1068.08 L386.82 1068.31 L387.82 1068.31 L387.82 1068.78 L388.82 1068.78 L388.82 1068.7 L389.81 1068.7 L389.81 1068.77 L390.81 1068.77 L390.81 1068.12 L391.81 1068.12 L391.81 1068.11 L392.8 1068.11 L392.8 1068.26 L393.8 1068.26 L393.8 1068.24 L394.8 1068.24 L394.8 1068.09 L395.8 1068.09 L395.8 1068.16 L396.79 1068.16 L396.79 1068.11 L397.79 1068.11 L397.79 1068.12 L398.79 1068.12 L398.79 1068.57 L399.78 1068.57 L399.78 1068.78 L400.78 1068.78 L400.78 1069.6 L401.78 1069.6 L401.78 1069.6 L402.78 1069.6 L402.78 1069.6 L403.77 1069.6 L403.77 1069.6 L404.77 1069.6 L404.77 1069.6 L405.77 1069.6 L405.77 1069.6 L406.76 1069.6 L406.76 1069.6 L407.76 1069.6 L407.76 1069.6 L408.76 1069.6 L408.76 1069.6 L409.76 1069.6 L409.76 1069.6 L410.75 1069.6 L410.75 1069.6 L411.75 1069.6 L411.75 1069.6 L412.75 1069.6 L412.75 1069.6 L413.74 1069.6 L413.74 1069.6 L414.74 1069.6 L414.74 1069.6 L415.74 1069.6 L415.74 1069.6 L416.73 1069.6 L416.73 1069.6 L417.73 1069.6 L417.73 1069.6 L418.73 1069.6 L418.73 1069.6 L419.73 1069.6 L419.73 1069.6 L420.72 1069.6 L420.72 1069.6 L421.72 1069.6 L421.72 1069.6 L422.72 1069.6 L422.72 1069.6 L423.71 1069.6 L423.71 1069.6 L424.71 1069.6 L424.71 1069.6 L425.71 1069.6 L425.71 1069.6 L426.71 1069.6 L426.71 1069.6 L427.7 1069.6 L427.7 1069.6 L428.7 1069.6 L428.7 1070Z" fill="#000" stroke="#000" stroke-width="0.3"/>
<rect x="326" y="969" width="102.7" height="101" fill="none" stroke="#000" stroke-width="0.95"/>
<path d="M326 1070L326 1073M333.73 1070L333.73 1071.5M338.25 1070L338.25 1071.5M341.46 1070L341.46 1071.5M343.95 1070L343.95 1071.5M345.98 1070L345.98 1071.5M347.7 1070L347.7 1071.5M349.19 1070L349.19 1071.5M350.5 1070L350.5 1071.5M351.68 1070L351.68 1073M359.4 1070L359.4 1071.5M363.93 1070L363.93 1071.5M367.13 1070L367.13 1071.5M369.62 1070L369.62 1071.5M371.65 1070L371.65 1071.5M373.37 1070L373.37 1071.5M374.86 1070L374.86 1071.5M376.18 1070L376.18 1071.5M377.35 1070L377.35 1073M385.08 1070L385.08 1071.5M389.6 1070L389.6 1071.5M392.81 1070L392.81 1071.5M395.3 1070L395.3 1071.5M397.33 1070L397.33 1071.5M399.05 1070L399.05 1071.5M400.54 1070L400.54 1071.5M401.85 1070L401.85 1071.5M403.02 1070L403.02 1073M410.75 1070L410.75 1071.5M415.28 1070L415.28 1071.5M418.48 1070L418.48 1071.5M420.97 1070L420.97 1071.5M423 1070L423 1071.5M424.72 1070L424.72 1071.5M426.21 1070L426.21 1071.5M427.53 1070L427.53 1071.5M428.7 1070L428.7 1073M323 1069.5L326 1069.5M324.5 1065.48L326 1065.48M324.5 1061.46L326 1061.46M324.5 1057.44L326 1057.44M324.5 1053.42L326 1053.42M323 1049.4L326 1049.4M324.5 1045.38L326 1045.38M324.5 1041.36L326 1041.36M324.5 1037.34L326 1037.34M324.5 1033.32L326 1033.32M323 1029.3L326 1029.3M324.5 1025.28L326 1025.28M324.5 1021.26L326 1021.26M324.5 1017.24L326 1017.24M324.5 1013.22L326 1013.22M323 1009.2L326 1009.2M324.5 1005.18L326 1005.18M324.5 1001.16L326 1001.16M324.5 997.14L326 997.14M324.5 993.12L326 993.12M323 989.1L326 989.1M324.5 985.08L326 985.08M324.5 981.06L326 981.06M324.5 977.04L326 977.04M324.5 973.02L326 973.02M323 969L326 969" stroke="#000" stroke-width="0.7" fill="none"/>
<text transform="translate(320.2 1084.5) scale(0.86 1)" font-size="8.9" stroke="#000" stroke-width="0.18">10<tspan dy="-3" dx="0.4" font-size="7.6">0</tspan></text>
<text transform="translate(345.88 1084.5) scale(0.86 1)" font-size="8.9" stroke="#000" stroke-width="0.18">10<tspan dy="-3" dx="0.4" font-size="7.6">1</tspan></text>
<text transform="translate(371.55 1084.5) scale(0.86 1)" font-size="8.9" stroke="#000" stroke-width="0.18">10<tspan dy="-3" dx="0.4" font-size="7.6">2</tspan></text>
<text transform="translate(397.22 1084.5) scale(0.86 1)" font-size="8.9" stroke="#000" stroke-width="0.18">10<tspan dy="-3" dx="0.4" font-size="7.6">3</tspan></text>
<text transform="translate(422.9 1084.5) scale(0.86 1)" font-size="8.9" stroke="#000" stroke-width="0.18">10<tspan dy="-3" dx="0.4" font-size="7.6">4</tspan></text>
<text transform="translate(321.2 1069.8) rotate(-90) scale(0.86 1)" font-size="8.9" text-anchor="middle" stroke="#000" stroke-width="0.18">0</text>
<text transform="translate(321.2 1049.7) rotate(-90) scale(0.86 1)" font-size="8.9" text-anchor="middle" stroke="#000" stroke-width="0.18">80</text>
<text transform="translate(321.2 1029.6) rotate(-90) scale(0.86 1)" font-size="8.9" text-anchor="middle" stroke="#000" stroke-width="0.18">160</text>
<text transform="translate(321.2 1009.5) rotate(-90) scale(0.86 1)" font-size="8.9" text-anchor="middle" stroke="#000" stroke-width="0.18">240</text>
<text transform="translate(321.2 989.4) rotate(-90) scale(0.86 1)" font-size="8.9" text-anchor="middle" stroke="#000" stroke-width="0.18">320</text>
<text transform="translate(321.2 969.3) rotate(-90) scale(0.86 1)" font-size="8.9" text-anchor="middle" stroke="#000" stroke-width="0.18">40</text>
<path d="M327.7 1244 L327.7 1213.7 L328.89 1213.7 L328.89 1223.8 L330.09 1223.8 L330.09 1233.9 L331.28 1233.9 L331.28 1244 L332.48 1244 L332.48 1244 L333.67 1244 L333.67 1233.9 L334.87 1233.9 L334.87 1233.9 L336.06 1233.9 L336.06 1244 L337.25 1244 L337.25 1233.9 L338.45 1233.9 L338.45 1223.8 L339.64 1223.8 L339.64 1233.9 L340.84 1233.9 L340.84 1223.8 L342.03 1223.8 L342.03 1203.6 L343.22 1203.6 L343.22 1203.6 L344.42 1203.6 L344.42 1203.6 L345.61 1203.6 L345.61 1203.6 L346.81 1203.6 L346.81 1193.5 L348 1193.5 L348 1183.4 L349.2 1183.4 L349.2 1183.4 L350.39 1183.4 L350.39 1183.4 L351.58 1183.4 L351.58 1183.4 L352.78 1183.4 L352.78 1193.5 L353.97 1193.5 L353.97 1203.6 L355.17 1203.6 L355.17 1203.6 L356.36 1203.6 L356.36 1213.7 L357.55 1213.7 L357.55 1223.8 L358.75 1223.8 L358.75 1233.9 L359.94 1233.9 L359.94 1233.9 L361.14 1233.9 L361.14 1233.9 L362.33 1233.9 L362.33 1233.9 L363.53 1233.9 L363.53 1244 L364.72 1244 L364.72 1244 L365.91 1244 L365.91 1233.9 L367.11 1233.9 L367.11 1244 L368.3 1244 L368.3 1233.9 L369.5 1233.9 L369.5 1244 L370.69 1244 L370.69 1233.9 L371.88 1233.9 L371.88 1223.8 L373.08 1223.8 L373.08 1233.9 L374.27 1233.9 L374.27 1223.8 L375.47 1223.8 L375.47 1233.9 L376.66 1233.9 L376.66 1223.8 L377.86 1223.8 L377.86 1223.8 L379.05 1223.8 L379.05 1223.8 L380.24 1223.8 L380.24 1203.6 L381.44 1203.6 L381.44 1213.7 L382.63 1213.7 L382.63 1213.7 L383.83 1213.7 L383.83 1203.6 L385.02 1203.6 L385.02 1203.6 L386.22 1203.6 L386.22 1203.6 L387.41 1203.6 L387.41 1213.7 L388.6 1213.7 L388.6 1213.7 L389.8 1213.7 L389.8 1213.7 L390.99 1213.7 L390.99 1213.7 L392.19 1213.7 L392.19 1233.9 L393.38 1233.9 L393.38 1233.9 L394.57 1233.9 L394.57 1223.8 L395.77 1223.8 L395.77 1223.8 L396.96 1223.8 L396.96 1233.9 L398.16 1233.9 L398.16 1223.8 L399.35 1223.8 L399.35 1233.9 L400.55 1233.9 L400.55 1244 L401.74 1244 L401.74 1233.9 L402.93 1233.9 L402.93 1233.9 L404.13 1233.9 L404.13 1244 L405.32 1244 L405.32 1233.9 L406.52 1233.9 L406.52 1244 L407.71 1244 L407.71 1244 L408.9 1244 L408.9 1244 L410.1 1244 L410.1 1244 L411.29 1244 L411.29 1244 L412.49 1244 L412.49 1244 L413.68 1244 L413.68 1244 L414.88 1244 L414.88 1244 L416.07 1244 L416.07 1244 L417.26 1244 L417.26 1244 L418.46 1244 L418.46 1244 L419.65 1244 L419.65 1244 L420.85 1244 L420.85 1244 L422.04 1244 L422.04 1244 L423.23 1244 L423.23 1244 L424.43 1244 L424.43 1244 L425.62 1244 L425.62 1244 L426.82 1244 L426.82 1244 L428.01 1244 L428.01 1244 L429.21 1244 L429.21 1244 L430.4 1244 L430.4 1244Z" fill="#000" stroke="#000" stroke-width="0.3"/>
<rect x="327.7" y="1142.7" width="102.7" height="101.3" fill="none" stroke="#000" stroke-width="0.95"/>
<path d="M327.7 1244L327.7 1247M335.43 1244L335.43 1245.5M339.95 1244L339.95 1245.5M343.16 1244L343.16 1245.5M345.65 1244L345.65 1245.5M347.68 1244L347.68 1245.5M349.4 1244L349.4 1245.5M350.89 1244L350.89 1245.5M352.2 1244L352.2 1245.5M353.38 1244L353.38 1247M361.1 1244L361.1 1245.5M365.63 1244L365.63 1245.5M368.83 1244L368.83 1245.5M371.32 1244L371.32 1245.5M373.35 1244L373.35 1245.5M375.07 1244L375.07 1245.5M376.56 1244L376.56 1245.5M377.88 1244L377.88 1245.5M379.05 1244L379.05 1247M386.78 1244L386.78 1245.5M391.3 1244L391.3 1245.5M394.51 1244L394.51 1245.5M397 1244L397 1245.5M399.03 1244L399.03 1245.5M400.75 1244L400.75 1245.5M402.24 1244L402.24 1245.5M403.55 1244L403.55 1245.5M404.73 1244L404.73 1247M412.45 1244L412.45 1245.5M416.98 1244L416.98 1245.5M420.18 1244L420.18 1245.5M422.67 1244L422.67 1245.5M424.7 1244L424.7 1245.5M426.42 1244L426.42 1245.5M427.91 1244L427.91 1245.5M429.23 1244L429.23 1245.5M430.4 1244L430.4 1247M324.7 1243.5L327.7 1243.5M326.2 1239.47L327.7 1239.47M326.2 1235.44L327.7 1235.44M326.2 1231.4L327.7 1231.4M326.2 1227.37L327.7 1227.37M324.7 1223.34L327.7 1223.34M326.2 1219.31L327.7 1219.31M326.2 1215.28L327.7 1215.28M326.2 1211.24L327.7 1211.24M326.2 1207.21L327.7 1207.21M324.7 1203.18L327.7 1203.18M326.2 1199.15L327.7 1199.15M326.2 1195.12L327.7 1195.12M326.2 1191.08L327.7 1191.08M326.2 1187.05L327.7 1187.05M324.7 1183.02L327.7 1183.02M326.2 1178.99L327.7 1178.99M326.2 1174.96L327.7 1174.96M326.2 1170.92L327.7 1170.92M326.2 1166.89L327.7 1166.89M324.7 1162.86L327.7 1162.86M326.2 1158.83L327.7 1158.83M326.2 1154.8L327.7 1154.8M326.2 1150.76L327.7 1150.76M326.2 1146.73L327.7 1146.73M324.7 1142.7L327.7 1142.7" stroke="#000" stroke-width="0.7" fill="none"/>
<text transform="translate(325.9 1256.8) scale(0.86 1)" font-size="8.9" stroke="#000" stroke-width="0.18">10<tspan dy="-3" dx="0.4" font-size="7.6">0</tspan></text>
<text transform="translate(351.57 1256.8) scale(0.86 1)" font-size="8.9" stroke="#000" stroke-width="0.18">10<tspan dy="-3" dx="0.4" font-size="7.6">1</tspan></text>
<text transform="translate(377.25 1256.8) scale(0.86 1)" font-size="8.9" stroke="#000" stroke-width="0.18">10<tspan dy="-3" dx="0.4" font-size="7.6">2</tspan></text>
<text transform="translate(402.93 1256.8) scale(0.86 1)" font-size="8.9" stroke="#000" stroke-width="0.18">10<tspan dy="-3" dx="0.4" font-size="7.6">3</tspan></text>
<text transform="translate(428.6 1256.8) scale(0.86 1)" font-size="8.9" stroke="#000" stroke-width="0.18">10<tspan dy="-3" dx="0.4" font-size="7.6">4</tspan></text>
<text transform="translate(322.9 1243.8) rotate(-90) scale(0.86 1)" font-size="8.9" text-anchor="middle" stroke="#000" stroke-width="0.18">0</text>
<text transform="translate(322.9 1223.64) rotate(-90) scale(0.86 1)" font-size="8.9" text-anchor="middle" stroke="#000" stroke-width="0.18">2</text>
<text transform="translate(322.9 1203.48) rotate(-90) scale(0.86 1)" font-size="8.9" text-anchor="middle" stroke="#000" stroke-width="0.18">4</text>
<text transform="translate(322.9 1183.32) rotate(-90) scale(0.86 1)" font-size="8.9" text-anchor="middle" stroke="#000" stroke-width="0.18">6</text>
<text transform="translate(322.9 1163.16) rotate(-90) scale(0.86 1)" font-size="8.9" text-anchor="middle" stroke="#000" stroke-width="0.18">8</text>
<text transform="translate(322.9 1143) rotate(-90) scale(0.86 1)" font-size="8.9" text-anchor="middle" stroke="#000" stroke-width="0.18">10</text>
<rect x="20" y="916" width="424" height="8" fill="#fff"/>
<rect x="300" y="1082.5" width="144" height="8" fill="#fff"/>
<path d="M110 802l1.2 1.6l1.2 -1.6" stroke="#666" stroke-width="0.6" fill="none"/>
<path d="M257.5 802l1.2 1.6l1.2 -1.6" stroke="#666" stroke-width="0.6" fill="none"/>
<path d="M401.5 802l1.2 1.6l1.2 -1.6" stroke="#666" stroke-width="0.6" fill="none"/>
</svg>
</body></html>
